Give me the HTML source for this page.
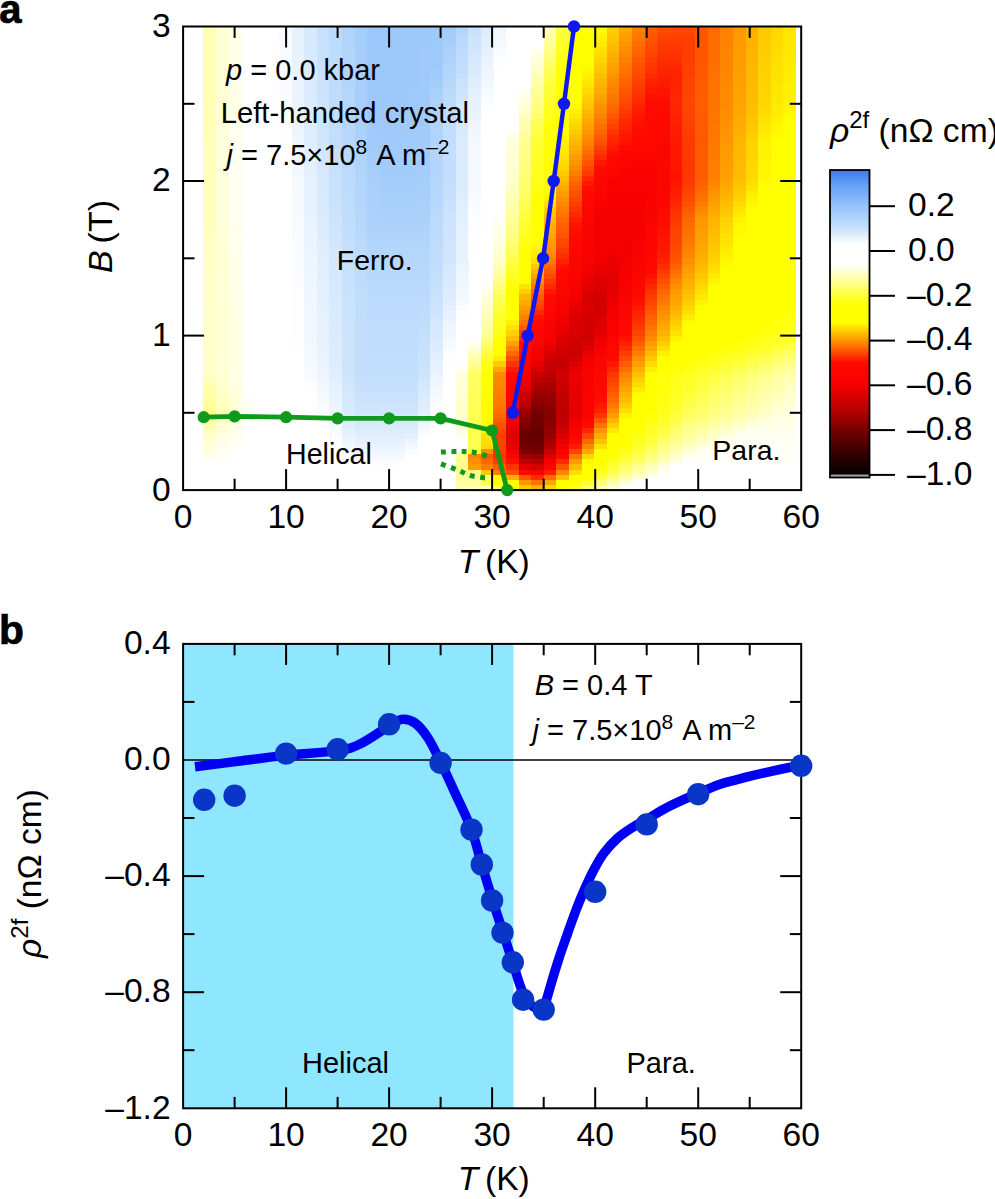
<!DOCTYPE html>
<html lang="en"><head><meta charset="utf-8"><title>Figure</title>
<style>html,body{margin:0;padding:0;background:#fff}svg{display:block}text{font-family:"Liberation Sans", sans-serif;fill:#000}</style>
</head><body>
<svg width="995" height="1199" viewBox="0 0 995 1199">
<rect width="995" height="1199" fill="#fff"/>
<g id="heat" shape-rendering="crispEdges">
<rect x="203.3" y="26.5" width="13.0" height="77.7" fill="#ffffb4"/>
<rect x="203.3" y="103.8" width="13.0" height="10.7" fill="#ffffb5"/>
<rect x="203.3" y="114.1" width="13.0" height="5.6" fill="#ffffb6"/>
<rect x="203.3" y="119.2" width="13.0" height="5.6" fill="#ffffb7"/>
<rect x="203.3" y="124.4" width="13.0" height="5.6" fill="#ffffb8"/>
<rect x="203.3" y="129.5" width="13.0" height="5.6" fill="#ffffb9"/>
<rect x="203.3" y="134.7" width="13.0" height="5.6" fill="#ffffba"/>
<rect x="203.3" y="139.8" width="13.0" height="82.8" fill="#ffffbb"/>
<rect x="203.3" y="222.2" width="13.0" height="5.6" fill="#ffffbc"/>
<rect x="203.3" y="227.4" width="13.0" height="5.6" fill="#ffffbd"/>
<rect x="203.3" y="232.5" width="13.0" height="5.6" fill="#ffffbe"/>
<rect x="203.3" y="237.7" width="13.0" height="5.6" fill="#ffffbf"/>
<rect x="203.3" y="242.8" width="13.0" height="5.6" fill="#ffffc0"/>
<rect x="203.3" y="248.0" width="13.0" height="5.6" fill="#ffffc1"/>
<rect x="203.3" y="253.1" width="13.0" height="5.6" fill="#ffffc2"/>
<rect x="203.3" y="258.3" width="13.0" height="5.6" fill="#ffffc3"/>
<rect x="203.3" y="263.5" width="13.0" height="10.7" fill="#ffffc4"/>
<rect x="203.3" y="273.8" width="13.0" height="5.6" fill="#ffffc5"/>
<rect x="203.3" y="278.9" width="13.0" height="10.7" fill="#ffffc6"/>
<rect x="203.3" y="289.2" width="13.0" height="10.7" fill="#ffffc7"/>
<rect x="203.3" y="299.5" width="13.0" height="5.6" fill="#ffffc8"/>
<rect x="203.3" y="304.7" width="13.0" height="10.7" fill="#ffffc9"/>
<rect x="203.3" y="315.0" width="13.0" height="5.6" fill="#ffffca"/>
<rect x="203.3" y="320.1" width="13.0" height="10.7" fill="#ffffcb"/>
<rect x="203.3" y="330.4" width="13.0" height="10.7" fill="#ffffcc"/>
<rect x="203.3" y="340.7" width="13.0" height="5.6" fill="#ffffca"/>
<rect x="203.3" y="345.9" width="13.0" height="5.6" fill="#ffffc9"/>
<rect x="203.3" y="351.0" width="13.0" height="5.6" fill="#ffffc8"/>
<rect x="203.3" y="356.2" width="13.0" height="5.6" fill="#ffffc6"/>
<rect x="203.3" y="361.3" width="13.0" height="5.6" fill="#ffffc5"/>
<rect x="203.3" y="366.5" width="13.0" height="5.6" fill="#ffffc4"/>
<rect x="203.3" y="371.6" width="13.0" height="5.6" fill="#ffffc3"/>
<rect x="203.3" y="376.8" width="13.0" height="5.6" fill="#ffffbb"/>
<rect x="203.3" y="381.9" width="13.0" height="5.6" fill="#ffffb3"/>
<rect x="203.3" y="387.1" width="13.0" height="5.6" fill="#ffffac"/>
<rect x="203.3" y="392.2" width="13.0" height="5.6" fill="#ffffa4"/>
<rect x="203.3" y="397.4" width="13.0" height="5.6" fill="#ffff9d"/>
<rect x="203.3" y="402.5" width="13.0" height="5.6" fill="#ffff95"/>
<rect x="203.3" y="407.7" width="13.0" height="5.6" fill="#ffff8d"/>
<rect x="203.3" y="412.8" width="13.0" height="5.6" fill="#ffff90"/>
<rect x="203.3" y="418.0" width="13.0" height="5.6" fill="#ffff9e"/>
<rect x="203.3" y="423.1" width="13.0" height="5.6" fill="#ffffac"/>
<rect x="203.3" y="428.3" width="13.0" height="5.6" fill="#ffffb9"/>
<rect x="203.3" y="433.4" width="13.0" height="5.6" fill="#ffffc7"/>
<rect x="203.3" y="438.6" width="13.0" height="5.6" fill="#ffffd0"/>
<rect x="203.3" y="443.7" width="13.0" height="5.6" fill="#ffffd8"/>
<rect x="203.3" y="448.9" width="13.0" height="5.6" fill="#ffffe2"/>
<rect x="203.3" y="454.0" width="13.0" height="5.6" fill="#ffffee"/>
<rect x="203.3" y="459.2" width="13.0" height="5.6" fill="#fffffc"/>
<rect x="215.9" y="26.5" width="13.0" height="77.7" fill="#ffffd4"/>
<rect x="215.9" y="103.8" width="13.0" height="10.7" fill="#ffffd5"/>
<rect x="215.9" y="114.1" width="13.0" height="5.6" fill="#ffffd6"/>
<rect x="215.9" y="119.2" width="13.0" height="5.6" fill="#ffffd7"/>
<rect x="215.9" y="124.4" width="13.0" height="5.6" fill="#ffffd8"/>
<rect x="215.9" y="129.5" width="13.0" height="5.6" fill="#ffffd9"/>
<rect x="215.9" y="134.7" width="13.0" height="5.6" fill="#ffffda"/>
<rect x="215.9" y="139.8" width="13.0" height="82.8" fill="#ffffdb"/>
<rect x="215.9" y="222.2" width="13.0" height="5.6" fill="#ffffda"/>
<rect x="215.9" y="227.4" width="13.0" height="10.7" fill="#ffffd9"/>
<rect x="215.9" y="237.7" width="13.0" height="5.6" fill="#ffffd8"/>
<rect x="215.9" y="242.8" width="13.0" height="5.6" fill="#ffffd7"/>
<rect x="215.9" y="248.0" width="13.0" height="5.6" fill="#ffffd6"/>
<rect x="215.9" y="253.1" width="13.0" height="124.0" fill="#ffffd5"/>
<rect x="215.9" y="376.8" width="13.0" height="5.6" fill="#ffffd1"/>
<rect x="215.9" y="381.9" width="13.0" height="5.6" fill="#ffffcd"/>
<rect x="215.9" y="387.1" width="13.0" height="5.6" fill="#ffffc9"/>
<rect x="215.9" y="392.2" width="13.0" height="5.6" fill="#ffffc5"/>
<rect x="215.9" y="397.4" width="13.0" height="5.6" fill="#ffffc1"/>
<rect x="215.9" y="402.5" width="13.0" height="5.6" fill="#ffffbe"/>
<rect x="215.9" y="407.7" width="13.0" height="5.6" fill="#ffffba"/>
<rect x="215.9" y="412.8" width="13.0" height="5.6" fill="#ffffbc"/>
<rect x="215.9" y="418.0" width="13.0" height="5.6" fill="#ffffc6"/>
<rect x="215.9" y="423.1" width="13.0" height="5.6" fill="#ffffcf"/>
<rect x="215.9" y="428.3" width="13.0" height="5.6" fill="#ffffd9"/>
<rect x="215.9" y="433.4" width="13.0" height="5.6" fill="#ffffe2"/>
<rect x="215.9" y="438.6" width="13.0" height="5.6" fill="#ffffe7"/>
<rect x="215.9" y="443.7" width="13.0" height="5.6" fill="#ffffed"/>
<rect x="215.9" y="448.9" width="13.0" height="5.6" fill="#fffff2"/>
<rect x="215.9" y="454.0" width="13.0" height="5.6" fill="#fffffa"/>
<rect x="228.5" y="26.5" width="13.0" height="77.7" fill="#ffffe9"/>
<rect x="228.5" y="103.8" width="13.0" height="10.7" fill="#ffffea"/>
<rect x="228.5" y="114.1" width="13.0" height="5.6" fill="#ffffeb"/>
<rect x="228.5" y="119.2" width="13.0" height="5.6" fill="#ffffec"/>
<rect x="228.5" y="124.4" width="13.0" height="5.6" fill="#ffffed"/>
<rect x="228.5" y="129.5" width="13.0" height="5.6" fill="#ffffee"/>
<rect x="228.5" y="134.7" width="13.0" height="5.6" fill="#ffffef"/>
<rect x="228.5" y="139.8" width="13.0" height="82.8" fill="#fffff0"/>
<rect x="228.5" y="222.2" width="13.0" height="5.6" fill="#ffffef"/>
<rect x="228.5" y="227.4" width="13.0" height="5.6" fill="#ffffee"/>
<rect x="228.5" y="232.5" width="13.0" height="5.6" fill="#ffffed"/>
<rect x="228.5" y="237.7" width="13.0" height="5.6" fill="#ffffec"/>
<rect x="228.5" y="242.8" width="13.0" height="5.6" fill="#ffffeb"/>
<rect x="228.5" y="248.0" width="13.0" height="10.7" fill="#ffffea"/>
<rect x="228.5" y="258.3" width="13.0" height="5.6" fill="#ffffe9"/>
<rect x="228.5" y="263.5" width="13.0" height="10.7" fill="#ffffe8"/>
<rect x="228.5" y="273.8" width="13.0" height="10.7" fill="#ffffe7"/>
<rect x="228.5" y="284.1" width="13.0" height="10.7" fill="#ffffe6"/>
<rect x="228.5" y="294.4" width="13.0" height="15.9" fill="#ffffe5"/>
<rect x="228.5" y="309.8" width="13.0" height="10.7" fill="#ffffe4"/>
<rect x="228.5" y="320.1" width="13.0" height="57.1" fill="#ffffe3"/>
<rect x="228.5" y="376.8" width="13.0" height="5.6" fill="#ffffe1"/>
<rect x="228.5" y="381.9" width="13.0" height="5.6" fill="#ffffdf"/>
<rect x="228.5" y="387.1" width="13.0" height="5.6" fill="#ffffdd"/>
<rect x="228.5" y="392.2" width="13.0" height="5.6" fill="#ffffdb"/>
<rect x="228.5" y="397.4" width="13.0" height="5.6" fill="#ffffd9"/>
<rect x="228.5" y="402.5" width="13.0" height="5.6" fill="#ffffd7"/>
<rect x="228.5" y="407.7" width="13.0" height="5.6" fill="#ffffd5"/>
<rect x="228.5" y="412.8" width="13.0" height="5.6" fill="#ffffd7"/>
<rect x="228.5" y="418.0" width="13.0" height="5.6" fill="#ffffdd"/>
<rect x="228.5" y="423.1" width="13.0" height="5.6" fill="#ffffe4"/>
<rect x="228.5" y="428.3" width="13.0" height="5.6" fill="#ffffea"/>
<rect x="228.5" y="433.4" width="13.0" height="5.6" fill="#fffff0"/>
<rect x="228.5" y="438.6" width="13.0" height="5.6" fill="#fffff5"/>
<rect x="228.5" y="443.7" width="13.0" height="5.6" fill="#fffffb"/>
<rect x="241.1" y="392.2" width="13.0" height="5.6" fill="#fffffd"/>
<rect x="241.1" y="397.4" width="13.0" height="5.6" fill="#fffff9"/>
<rect x="241.1" y="402.5" width="13.0" height="5.6" fill="#fffff6"/>
<rect x="241.1" y="407.7" width="13.0" height="5.6" fill="#fffff2"/>
<rect x="241.1" y="412.8" width="13.0" height="5.6" fill="#fffff4"/>
<rect x="241.1" y="418.0" width="13.0" height="5.6" fill="#fffffa"/>
<rect x="279.0" y="26.5" width="13.0" height="15.9" fill="#f7fbff"/>
<rect x="279.0" y="42.0" width="13.0" height="26.2" fill="#f8fbff"/>
<rect x="279.0" y="67.7" width="13.0" height="26.2" fill="#f9fcff"/>
<rect x="279.0" y="93.5" width="13.0" height="15.9" fill="#fafcff"/>
<rect x="279.0" y="108.9" width="13.0" height="10.7" fill="#fbfdff"/>
<rect x="279.0" y="119.2" width="13.0" height="10.7" fill="#fcfdff"/>
<rect x="279.0" y="129.5" width="13.0" height="10.7" fill="#fdfeff"/>
<rect x="279.0" y="139.8" width="13.0" height="5.6" fill="#fefeff"/>
<rect x="279.0" y="145.0" width="13.0" height="5.6" fill="#feffff"/>
<rect x="291.6" y="26.5" width="13.0" height="21.0" fill="#e7f2fe"/>
<rect x="291.6" y="47.1" width="13.0" height="5.6" fill="#e8f2fe"/>
<rect x="291.6" y="52.3" width="13.0" height="10.7" fill="#e8f3fe"/>
<rect x="291.6" y="62.6" width="13.0" height="15.9" fill="#e9f3fe"/>
<rect x="291.6" y="78.0" width="13.0" height="10.7" fill="#eaf3fe"/>
<rect x="291.6" y="88.3" width="13.0" height="5.6" fill="#eaf4fe"/>
<rect x="291.6" y="93.5" width="13.0" height="15.9" fill="#ebf4fe"/>
<rect x="291.6" y="108.9" width="13.0" height="5.6" fill="#ecf4fe"/>
<rect x="291.6" y="114.1" width="13.0" height="10.7" fill="#ecf5fe"/>
<rect x="291.6" y="124.4" width="13.0" height="10.7" fill="#edf5fe"/>
<rect x="291.6" y="134.7" width="13.0" height="10.7" fill="#eef6fe"/>
<rect x="291.6" y="145.0" width="13.0" height="5.6" fill="#eff6fe"/>
<rect x="291.6" y="150.1" width="13.0" height="5.6" fill="#f0f7fe"/>
<rect x="291.6" y="155.3" width="13.0" height="5.6" fill="#f1f7fe"/>
<rect x="291.6" y="160.4" width="13.0" height="5.6" fill="#f1f8fe"/>
<rect x="291.6" y="165.6" width="13.0" height="5.6" fill="#f2f8fe"/>
<rect x="291.6" y="170.7" width="13.0" height="5.6" fill="#f3f8fe"/>
<rect x="291.6" y="175.9" width="13.0" height="5.6" fill="#f3f9fe"/>
<rect x="291.6" y="181.0" width="13.0" height="10.7" fill="#f4f9fe"/>
<rect x="291.6" y="191.3" width="13.0" height="5.6" fill="#f5f9fe"/>
<rect x="291.6" y="196.5" width="13.0" height="10.7" fill="#f5fafe"/>
<rect x="291.6" y="206.8" width="13.0" height="5.6" fill="#f6fafe"/>
<rect x="291.6" y="211.9" width="13.0" height="10.7" fill="#f6faff"/>
<rect x="291.6" y="222.2" width="13.0" height="15.9" fill="#f7fbff"/>
<rect x="291.6" y="237.7" width="13.0" height="15.9" fill="#f8fbff"/>
<rect x="291.6" y="253.1" width="13.0" height="5.6" fill="#f9fbff"/>
<rect x="291.6" y="258.3" width="13.0" height="15.9" fill="#f9fcff"/>
<rect x="291.6" y="273.8" width="13.0" height="15.9" fill="#fafcff"/>
<rect x="291.6" y="289.2" width="13.0" height="31.3" fill="#fbfdff"/>
<rect x="291.6" y="320.1" width="13.0" height="15.9" fill="#fcfdff"/>
<rect x="291.6" y="335.6" width="13.0" height="5.6" fill="#fcfeff"/>
<rect x="291.6" y="340.7" width="13.0" height="5.6" fill="#fdfeff"/>
<rect x="291.6" y="345.9" width="13.0" height="5.6" fill="#fefeff"/>
<rect x="304.2" y="26.5" width="13.0" height="5.6" fill="#d6e9fd"/>
<rect x="304.2" y="31.7" width="13.0" height="15.9" fill="#d7e9fd"/>
<rect x="304.2" y="47.1" width="13.0" height="10.7" fill="#d8eafd"/>
<rect x="304.2" y="57.4" width="13.0" height="10.7" fill="#d9eafd"/>
<rect x="304.2" y="67.7" width="13.0" height="5.6" fill="#d9ebfd"/>
<rect x="304.2" y="72.9" width="13.0" height="10.7" fill="#daebfd"/>
<rect x="304.2" y="83.2" width="13.0" height="10.7" fill="#dbebfd"/>
<rect x="304.2" y="93.5" width="13.0" height="5.6" fill="#dbecfd"/>
<rect x="304.2" y="98.6" width="13.0" height="10.7" fill="#dcecfd"/>
<rect x="304.2" y="108.9" width="13.0" height="10.7" fill="#ddecfd"/>
<rect x="304.2" y="119.2" width="13.0" height="5.6" fill="#ddedfd"/>
<rect x="304.2" y="124.4" width="13.0" height="10.7" fill="#deedfd"/>
<rect x="304.2" y="134.7" width="13.0" height="5.6" fill="#dfedfd"/>
<rect x="304.2" y="139.8" width="13.0" height="5.6" fill="#dfeefd"/>
<rect x="304.2" y="145.0" width="13.0" height="5.6" fill="#e0eefd"/>
<rect x="304.2" y="150.1" width="13.0" height="5.6" fill="#e1eefd"/>
<rect x="304.2" y="155.3" width="13.0" height="10.7" fill="#e2effd"/>
<rect x="304.2" y="165.6" width="13.0" height="5.6" fill="#e3f0fd"/>
<rect x="304.2" y="170.7" width="13.0" height="5.6" fill="#e4f0fe"/>
<rect x="304.2" y="175.9" width="13.0" height="5.6" fill="#e5f1fe"/>
<rect x="304.2" y="181.0" width="13.0" height="10.7" fill="#e6f1fe"/>
<rect x="304.2" y="191.3" width="13.0" height="5.6" fill="#e6f2fe"/>
<rect x="304.2" y="196.5" width="13.0" height="10.7" fill="#e7f2fe"/>
<rect x="304.2" y="206.8" width="13.0" height="10.7" fill="#e8f2fe"/>
<rect x="304.2" y="217.1" width="13.0" height="5.6" fill="#e8f3fe"/>
<rect x="304.2" y="222.2" width="13.0" height="5.6" fill="#e9f3fe"/>
<rect x="304.2" y="227.4" width="13.0" height="5.6" fill="#eaf3fe"/>
<rect x="304.2" y="232.5" width="13.0" height="5.6" fill="#eaf4fe"/>
<rect x="304.2" y="237.7" width="13.0" height="10.7" fill="#ebf4fe"/>
<rect x="304.2" y="248.0" width="13.0" height="10.7" fill="#ecf5fe"/>
<rect x="304.2" y="258.3" width="13.0" height="15.9" fill="#edf5fe"/>
<rect x="304.2" y="273.8" width="13.0" height="15.9" fill="#eef6fe"/>
<rect x="304.2" y="289.2" width="13.0" height="15.9" fill="#eff6fe"/>
<rect x="304.2" y="304.7" width="13.0" height="15.9" fill="#f0f7fe"/>
<rect x="304.2" y="320.1" width="13.0" height="15.9" fill="#f1f7fe"/>
<rect x="304.2" y="335.6" width="13.0" height="10.7" fill="#f2f8fe"/>
<rect x="304.2" y="345.9" width="13.0" height="5.6" fill="#f3f9fe"/>
<rect x="304.2" y="351.0" width="13.0" height="5.6" fill="#f4f9fe"/>
<rect x="304.2" y="356.2" width="13.0" height="5.6" fill="#f5f9fe"/>
<rect x="304.2" y="361.3" width="13.0" height="5.6" fill="#f6fafe"/>
<rect x="304.2" y="366.5" width="13.0" height="5.6" fill="#f6faff"/>
<rect x="304.2" y="371.6" width="13.0" height="5.6" fill="#f7fbff"/>
<rect x="304.2" y="376.8" width="13.0" height="5.6" fill="#f9fcff"/>
<rect x="304.2" y="381.9" width="13.0" height="5.6" fill="#fbfdff"/>
<rect x="304.2" y="387.1" width="13.0" height="5.6" fill="#fefeff"/>
<rect x="316.8" y="26.5" width="13.0" height="10.7" fill="#c7e0fc"/>
<rect x="316.8" y="36.8" width="13.0" height="5.6" fill="#c7e1fc"/>
<rect x="316.8" y="42.0" width="13.0" height="15.9" fill="#c8e1fc"/>
<rect x="316.8" y="57.4" width="13.0" height="5.6" fill="#c9e1fc"/>
<rect x="316.8" y="62.6" width="13.0" height="5.6" fill="#c9e2fc"/>
<rect x="316.8" y="67.7" width="13.0" height="10.7" fill="#cae2fc"/>
<rect x="316.8" y="78.0" width="13.0" height="10.7" fill="#cbe3fc"/>
<rect x="316.8" y="88.3" width="13.0" height="10.7" fill="#cce3fc"/>
<rect x="316.8" y="98.6" width="13.0" height="10.7" fill="#cde4fc"/>
<rect x="316.8" y="108.9" width="13.0" height="15.9" fill="#cee4fc"/>
<rect x="316.8" y="124.4" width="13.0" height="15.9" fill="#cfe5fc"/>
<rect x="316.8" y="139.8" width="13.0" height="5.6" fill="#d0e5fc"/>
<rect x="316.8" y="145.0" width="13.0" height="5.6" fill="#d1e6fc"/>
<rect x="316.8" y="150.1" width="13.0" height="5.6" fill="#d2e6fd"/>
<rect x="316.8" y="155.3" width="13.0" height="10.7" fill="#d3e7fd"/>
<rect x="316.8" y="165.6" width="13.0" height="5.6" fill="#d4e8fd"/>
<rect x="316.8" y="170.7" width="13.0" height="5.6" fill="#d5e8fd"/>
<rect x="316.8" y="175.9" width="13.0" height="5.6" fill="#d6e9fd"/>
<rect x="316.8" y="181.0" width="13.0" height="10.7" fill="#d7e9fd"/>
<rect x="316.8" y="191.3" width="13.0" height="10.7" fill="#d8eafd"/>
<rect x="316.8" y="201.6" width="13.0" height="10.7" fill="#d9eafd"/>
<rect x="316.8" y="211.9" width="13.0" height="10.7" fill="#daebfd"/>
<rect x="316.8" y="222.2" width="13.0" height="5.6" fill="#dbebfd"/>
<rect x="316.8" y="227.4" width="13.0" height="5.6" fill="#dcecfd"/>
<rect x="316.8" y="232.5" width="13.0" height="5.6" fill="#ddecfd"/>
<rect x="316.8" y="237.7" width="13.0" height="5.6" fill="#deedfd"/>
<rect x="316.8" y="242.8" width="13.0" height="5.6" fill="#dfedfd"/>
<rect x="316.8" y="248.0" width="13.0" height="5.6" fill="#dfeefd"/>
<rect x="316.8" y="253.1" width="13.0" height="5.6" fill="#e0eefd"/>
<rect x="316.8" y="258.3" width="13.0" height="10.7" fill="#e1effd"/>
<rect x="316.8" y="268.6" width="13.0" height="15.9" fill="#e2effd"/>
<rect x="316.8" y="284.1" width="13.0" height="15.9" fill="#e3f0fd"/>
<rect x="316.8" y="299.5" width="13.0" height="10.7" fill="#e4f0fe"/>
<rect x="316.8" y="309.8" width="13.0" height="10.7" fill="#e5f1fe"/>
<rect x="316.8" y="320.1" width="13.0" height="10.7" fill="#e6f1fe"/>
<rect x="316.8" y="330.4" width="13.0" height="5.6" fill="#e6f2fe"/>
<rect x="316.8" y="335.6" width="13.0" height="5.6" fill="#e7f2fe"/>
<rect x="316.8" y="340.7" width="13.0" height="5.6" fill="#e8f2fe"/>
<rect x="316.8" y="345.9" width="13.0" height="5.6" fill="#e8f3fe"/>
<rect x="316.8" y="351.0" width="13.0" height="5.6" fill="#e9f3fe"/>
<rect x="316.8" y="356.2" width="13.0" height="5.6" fill="#eaf3fe"/>
<rect x="316.8" y="361.3" width="13.0" height="5.6" fill="#eaf4fe"/>
<rect x="316.8" y="366.5" width="13.0" height="5.6" fill="#ebf4fe"/>
<rect x="316.8" y="371.6" width="13.0" height="5.6" fill="#ecf5fe"/>
<rect x="316.8" y="376.8" width="13.0" height="5.6" fill="#eef6fe"/>
<rect x="316.8" y="381.9" width="13.0" height="5.6" fill="#f0f7fe"/>
<rect x="316.8" y="387.1" width="13.0" height="5.6" fill="#f2f8fe"/>
<rect x="316.8" y="392.2" width="13.0" height="5.6" fill="#f4f9fe"/>
<rect x="316.8" y="397.4" width="13.0" height="5.6" fill="#f6fafe"/>
<rect x="316.8" y="402.5" width="13.0" height="5.6" fill="#f8fbff"/>
<rect x="316.8" y="407.7" width="13.0" height="5.6" fill="#fafcff"/>
<rect x="316.8" y="412.8" width="13.0" height="5.6" fill="#fcfdff"/>
<rect x="329.4" y="26.5" width="13.0" height="15.9" fill="#bcdafc"/>
<rect x="329.4" y="42.0" width="13.0" height="15.9" fill="#bddbfc"/>
<rect x="329.4" y="57.4" width="13.0" height="15.9" fill="#bedbfc"/>
<rect x="329.4" y="72.9" width="13.0" height="5.6" fill="#bedcfc"/>
<rect x="329.4" y="78.0" width="13.0" height="15.9" fill="#bfdcfc"/>
<rect x="329.4" y="93.5" width="13.0" height="10.7" fill="#c0dcfc"/>
<rect x="329.4" y="103.8" width="13.0" height="5.6" fill="#c0ddfc"/>
<rect x="329.4" y="108.9" width="13.0" height="15.9" fill="#c1ddfc"/>
<rect x="329.4" y="124.4" width="13.0" height="5.6" fill="#c2ddfc"/>
<rect x="329.4" y="129.5" width="13.0" height="15.9" fill="#c2defc"/>
<rect x="329.4" y="145.0" width="13.0" height="5.6" fill="#c3defc"/>
<rect x="329.4" y="150.1" width="13.0" height="5.6" fill="#c4dffc"/>
<rect x="329.4" y="155.3" width="13.0" height="5.6" fill="#c5dffc"/>
<rect x="329.4" y="160.4" width="13.0" height="5.6" fill="#c5e0fc"/>
<rect x="329.4" y="165.6" width="13.0" height="5.6" fill="#c6e0fc"/>
<rect x="329.4" y="170.7" width="13.0" height="5.6" fill="#c7e0fc"/>
<rect x="329.4" y="175.9" width="13.0" height="10.7" fill="#c8e1fc"/>
<rect x="329.4" y="186.2" width="13.0" height="5.6" fill="#c9e1fc"/>
<rect x="329.4" y="191.3" width="13.0" height="5.6" fill="#c9e2fc"/>
<rect x="329.4" y="196.5" width="13.0" height="10.7" fill="#cae2fc"/>
<rect x="329.4" y="206.8" width="13.0" height="10.7" fill="#cbe3fc"/>
<rect x="329.4" y="217.1" width="13.0" height="5.6" fill="#cce3fc"/>
<rect x="329.4" y="222.2" width="13.0" height="5.6" fill="#cde4fc"/>
<rect x="329.4" y="227.4" width="13.0" height="5.6" fill="#cee4fc"/>
<rect x="329.4" y="232.5" width="13.0" height="5.6" fill="#cfe5fc"/>
<rect x="329.4" y="237.7" width="13.0" height="5.6" fill="#d0e6fc"/>
<rect x="329.4" y="242.8" width="13.0" height="5.6" fill="#d1e6fd"/>
<rect x="329.4" y="248.0" width="13.0" height="5.6" fill="#d3e7fd"/>
<rect x="329.4" y="253.1" width="13.0" height="5.6" fill="#d4e7fd"/>
<rect x="329.4" y="258.3" width="13.0" height="5.6" fill="#d4e8fd"/>
<rect x="329.4" y="263.5" width="13.0" height="10.7" fill="#d5e8fd"/>
<rect x="329.4" y="273.8" width="13.0" height="5.6" fill="#d6e8fd"/>
<rect x="329.4" y="278.9" width="13.0" height="10.7" fill="#d6e9fd"/>
<rect x="329.4" y="289.2" width="13.0" height="10.7" fill="#d7e9fd"/>
<rect x="329.4" y="299.5" width="13.0" height="10.7" fill="#d8eafd"/>
<rect x="329.4" y="309.8" width="13.0" height="10.7" fill="#d9eafd"/>
<rect x="329.4" y="320.1" width="13.0" height="10.7" fill="#daebfd"/>
<rect x="329.4" y="330.4" width="13.0" height="5.6" fill="#dbebfd"/>
<rect x="329.4" y="335.6" width="13.0" height="5.6" fill="#dbecfd"/>
<rect x="329.4" y="340.7" width="13.0" height="10.7" fill="#dcecfd"/>
<rect x="329.4" y="351.0" width="13.0" height="5.6" fill="#ddecfd"/>
<rect x="329.4" y="356.2" width="13.0" height="5.6" fill="#ddedfd"/>
<rect x="329.4" y="361.3" width="13.0" height="5.6" fill="#deedfd"/>
<rect x="329.4" y="366.5" width="13.0" height="5.6" fill="#dfedfd"/>
<rect x="329.4" y="371.6" width="13.0" height="5.6" fill="#dfeefd"/>
<rect x="329.4" y="376.8" width="13.0" height="5.6" fill="#e1effd"/>
<rect x="329.4" y="381.9" width="13.0" height="5.6" fill="#e3f0fd"/>
<rect x="329.4" y="387.1" width="13.0" height="5.6" fill="#e5f1fe"/>
<rect x="329.4" y="392.2" width="13.0" height="5.6" fill="#e7f2fe"/>
<rect x="329.4" y="397.4" width="13.0" height="5.6" fill="#e9f3fe"/>
<rect x="329.4" y="402.5" width="13.0" height="5.6" fill="#ebf4fe"/>
<rect x="329.4" y="407.7" width="13.0" height="5.6" fill="#edf5fe"/>
<rect x="329.4" y="412.8" width="13.0" height="5.6" fill="#eff6fe"/>
<rect x="329.4" y="418.0" width="13.0" height="5.6" fill="#f1f8fe"/>
<rect x="329.4" y="423.1" width="13.0" height="5.6" fill="#f4f9fe"/>
<rect x="329.4" y="428.3" width="13.0" height="5.6" fill="#f7faff"/>
<rect x="329.4" y="433.4" width="13.0" height="5.6" fill="#f9fcff"/>
<rect x="329.4" y="438.6" width="13.0" height="5.6" fill="#fdfeff"/>
<rect x="342.0" y="26.5" width="13.0" height="21.0" fill="#b1d4fb"/>
<rect x="342.0" y="47.1" width="13.0" height="21.0" fill="#b2d5fb"/>
<rect x="342.0" y="67.7" width="13.0" height="21.0" fill="#b3d5fb"/>
<rect x="342.0" y="88.3" width="13.0" height="5.6" fill="#b3d6fb"/>
<rect x="342.0" y="93.5" width="13.0" height="15.9" fill="#b4d6fb"/>
<rect x="342.0" y="108.9" width="13.0" height="5.6" fill="#b5d6fb"/>
<rect x="342.0" y="114.1" width="13.0" height="5.6" fill="#b5d7fb"/>
<rect x="342.0" y="119.2" width="13.0" height="10.7" fill="#b6d7fb"/>
<rect x="342.0" y="129.5" width="13.0" height="10.7" fill="#b7d7fb"/>
<rect x="342.0" y="139.8" width="13.0" height="5.6" fill="#b7d8fb"/>
<rect x="342.0" y="145.0" width="13.0" height="5.6" fill="#b8d8fb"/>
<rect x="342.0" y="150.1" width="13.0" height="5.6" fill="#b9d9fb"/>
<rect x="342.0" y="155.3" width="13.0" height="5.6" fill="#bad9fb"/>
<rect x="342.0" y="160.4" width="13.0" height="5.6" fill="#bbdafb"/>
<rect x="342.0" y="165.6" width="13.0" height="5.6" fill="#bbdafc"/>
<rect x="342.0" y="170.7" width="13.0" height="5.6" fill="#bcdafc"/>
<rect x="342.0" y="175.9" width="13.0" height="5.6" fill="#bddbfc"/>
<rect x="342.0" y="181.0" width="13.0" height="10.7" fill="#bedbfc"/>
<rect x="342.0" y="191.3" width="13.0" height="5.6" fill="#bedcfc"/>
<rect x="342.0" y="196.5" width="13.0" height="10.7" fill="#bfdcfc"/>
<rect x="342.0" y="206.8" width="13.0" height="5.6" fill="#c0dcfc"/>
<rect x="342.0" y="211.9" width="13.0" height="5.6" fill="#c0ddfc"/>
<rect x="342.0" y="217.1" width="13.0" height="10.7" fill="#c1ddfc"/>
<rect x="342.0" y="227.4" width="13.0" height="5.6" fill="#c2defc"/>
<rect x="342.0" y="232.5" width="13.0" height="5.6" fill="#c3defc"/>
<rect x="342.0" y="237.7" width="13.0" height="5.6" fill="#c4dffc"/>
<rect x="342.0" y="242.8" width="13.0" height="5.6" fill="#c5dffc"/>
<rect x="342.0" y="248.0" width="13.0" height="10.7" fill="#c6e0fc"/>
<rect x="342.0" y="258.3" width="13.0" height="5.6" fill="#c7e0fc"/>
<rect x="342.0" y="263.5" width="13.0" height="5.6" fill="#c7e1fc"/>
<rect x="342.0" y="268.6" width="13.0" height="15.9" fill="#c8e1fc"/>
<rect x="342.0" y="284.1" width="13.0" height="5.6" fill="#c9e1fc"/>
<rect x="342.0" y="289.2" width="13.0" height="5.6" fill="#c9e2fc"/>
<rect x="342.0" y="294.4" width="13.0" height="10.7" fill="#cae2fc"/>
<rect x="342.0" y="304.7" width="13.0" height="10.7" fill="#cbe3fc"/>
<rect x="342.0" y="315.0" width="13.0" height="10.7" fill="#cce3fc"/>
<rect x="342.0" y="325.3" width="13.0" height="10.7" fill="#cde4fc"/>
<rect x="342.0" y="335.6" width="13.0" height="41.6" fill="#cee4fc"/>
<rect x="342.0" y="376.8" width="13.0" height="5.6" fill="#cfe5fc"/>
<rect x="342.0" y="381.9" width="13.0" height="5.6" fill="#d1e6fc"/>
<rect x="342.0" y="387.1" width="13.0" height="5.6" fill="#d2e7fd"/>
<rect x="342.0" y="392.2" width="13.0" height="5.6" fill="#d4e7fd"/>
<rect x="342.0" y="397.4" width="13.0" height="5.6" fill="#d5e8fd"/>
<rect x="342.0" y="402.5" width="13.0" height="5.6" fill="#d6e9fd"/>
<rect x="342.0" y="407.7" width="13.0" height="5.6" fill="#d8eafd"/>
<rect x="342.0" y="412.8" width="13.0" height="5.6" fill="#daebfd"/>
<rect x="342.0" y="418.0" width="13.0" height="5.6" fill="#ddedfd"/>
<rect x="342.0" y="423.1" width="13.0" height="5.6" fill="#e0eefd"/>
<rect x="342.0" y="428.3" width="13.0" height="5.6" fill="#e4f0fe"/>
<rect x="342.0" y="433.4" width="13.0" height="5.6" fill="#e7f2fe"/>
<rect x="342.0" y="438.6" width="13.0" height="5.6" fill="#edf5fe"/>
<rect x="342.0" y="443.7" width="13.0" height="5.6" fill="#f3f9fe"/>
<rect x="342.0" y="448.9" width="13.0" height="5.6" fill="#fafcff"/>
<rect x="354.6" y="26.5" width="13.0" height="26.2" fill="#a6cefb"/>
<rect x="354.6" y="52.3" width="13.0" height="10.7" fill="#a7cefb"/>
<rect x="354.6" y="62.6" width="13.0" height="26.2" fill="#a7cffb"/>
<rect x="354.6" y="88.3" width="13.0" height="21.0" fill="#a8cffb"/>
<rect x="354.6" y="108.9" width="13.0" height="10.7" fill="#a9d0fb"/>
<rect x="354.6" y="119.2" width="13.0" height="5.6" fill="#aad0fb"/>
<rect x="354.6" y="124.4" width="13.0" height="10.7" fill="#abd1fb"/>
<rect x="354.6" y="134.7" width="13.0" height="5.6" fill="#acd1fb"/>
<rect x="354.6" y="139.8" width="13.0" height="5.6" fill="#acd2fb"/>
<rect x="354.6" y="145.0" width="13.0" height="5.6" fill="#add2fb"/>
<rect x="354.6" y="150.1" width="13.0" height="5.6" fill="#aed3fb"/>
<rect x="354.6" y="155.3" width="13.0" height="5.6" fill="#afd3fb"/>
<rect x="354.6" y="160.4" width="13.0" height="5.6" fill="#b0d3fb"/>
<rect x="354.6" y="165.6" width="13.0" height="10.7" fill="#b1d4fb"/>
<rect x="354.6" y="175.9" width="13.0" height="5.6" fill="#b2d5fb"/>
<rect x="354.6" y="181.0" width="13.0" height="5.6" fill="#b3d5fb"/>
<rect x="354.6" y="186.2" width="13.0" height="5.6" fill="#b3d6fb"/>
<rect x="354.6" y="191.3" width="13.0" height="10.7" fill="#b4d6fb"/>
<rect x="354.6" y="201.6" width="13.0" height="5.6" fill="#b5d6fb"/>
<rect x="354.6" y="206.8" width="13.0" height="5.6" fill="#b5d7fb"/>
<rect x="354.6" y="211.9" width="13.0" height="10.7" fill="#b6d7fb"/>
<rect x="354.6" y="222.2" width="13.0" height="5.6" fill="#b7d8fb"/>
<rect x="354.6" y="227.4" width="13.0" height="5.6" fill="#b8d8fb"/>
<rect x="354.6" y="232.5" width="13.0" height="5.6" fill="#b9d9fb"/>
<rect x="354.6" y="237.7" width="13.0" height="5.6" fill="#bad9fb"/>
<rect x="354.6" y="242.8" width="13.0" height="5.6" fill="#bbdafc"/>
<rect x="354.6" y="248.0" width="13.0" height="5.6" fill="#bcdafc"/>
<rect x="354.6" y="253.1" width="13.0" height="5.6" fill="#bddbfc"/>
<rect x="354.6" y="258.3" width="13.0" height="5.6" fill="#bedbfc"/>
<rect x="354.6" y="263.5" width="13.0" height="5.6" fill="#bedcfc"/>
<rect x="354.6" y="268.6" width="13.0" height="15.9" fill="#bfdcfc"/>
<rect x="354.6" y="284.1" width="13.0" height="5.6" fill="#c0dcfc"/>
<rect x="354.6" y="289.2" width="13.0" height="10.7" fill="#c0ddfc"/>
<rect x="354.6" y="299.5" width="13.0" height="15.9" fill="#c1ddfc"/>
<rect x="354.6" y="315.0" width="13.0" height="5.6" fill="#c2ddfc"/>
<rect x="354.6" y="320.1" width="13.0" height="10.7" fill="#c2defc"/>
<rect x="354.6" y="330.4" width="13.0" height="10.7" fill="#c3defc"/>
<rect x="354.6" y="340.7" width="13.0" height="31.3" fill="#c2defc"/>
<rect x="354.6" y="371.6" width="13.0" height="5.6" fill="#c3defc"/>
<rect x="354.6" y="376.8" width="13.0" height="5.6" fill="#c4dffc"/>
<rect x="354.6" y="381.9" width="13.0" height="5.6" fill="#c6e0fc"/>
<rect x="354.6" y="387.1" width="13.0" height="5.6" fill="#c7e0fc"/>
<rect x="354.6" y="392.2" width="13.0" height="5.6" fill="#c9e1fc"/>
<rect x="354.6" y="397.4" width="13.0" height="5.6" fill="#cbe2fc"/>
<rect x="354.6" y="402.5" width="13.0" height="5.6" fill="#cde4fc"/>
<rect x="354.6" y="407.7" width="13.0" height="5.6" fill="#cfe5fc"/>
<rect x="354.6" y="412.8" width="13.0" height="5.6" fill="#d2e6fd"/>
<rect x="354.6" y="418.0" width="13.0" height="5.6" fill="#d5e8fd"/>
<rect x="354.6" y="423.1" width="13.0" height="5.6" fill="#d9eafd"/>
<rect x="354.6" y="428.3" width="13.0" height="5.6" fill="#dcecfd"/>
<rect x="354.6" y="433.4" width="13.0" height="5.6" fill="#e0eefd"/>
<rect x="354.6" y="438.6" width="13.0" height="5.6" fill="#e5f1fe"/>
<rect x="354.6" y="443.7" width="13.0" height="5.6" fill="#ebf4fe"/>
<rect x="354.6" y="448.9" width="13.0" height="5.6" fill="#f0f7fe"/>
<rect x="354.6" y="454.0" width="13.0" height="5.6" fill="#f5f9fe"/>
<rect x="354.6" y="459.2" width="13.0" height="5.6" fill="#fbfdff"/>
<rect x="367.2" y="26.5" width="13.0" height="41.6" fill="#9bc8fa"/>
<rect x="367.2" y="67.7" width="13.0" height="36.5" fill="#9cc8fa"/>
<rect x="367.2" y="103.8" width="13.0" height="5.6" fill="#9cc9fa"/>
<rect x="367.2" y="108.9" width="13.0" height="5.6" fill="#9dc9fa"/>
<rect x="367.2" y="114.1" width="13.0" height="5.6" fill="#9ec9fa"/>
<rect x="367.2" y="119.2" width="13.0" height="5.6" fill="#9ecafa"/>
<rect x="367.2" y="124.4" width="13.0" height="5.6" fill="#9fcafa"/>
<rect x="367.2" y="129.5" width="13.0" height="5.6" fill="#a0cbfa"/>
<rect x="367.2" y="134.7" width="13.0" height="5.6" fill="#a1cbfa"/>
<rect x="367.2" y="139.8" width="13.0" height="5.6" fill="#a1cbfb"/>
<rect x="367.2" y="145.0" width="13.0" height="5.6" fill="#a2ccfb"/>
<rect x="367.2" y="150.1" width="13.0" height="5.6" fill="#a3ccfb"/>
<rect x="367.2" y="155.3" width="13.0" height="5.6" fill="#a4cdfb"/>
<rect x="367.2" y="160.4" width="13.0" height="5.6" fill="#a5cdfb"/>
<rect x="367.2" y="165.6" width="13.0" height="5.6" fill="#a6cefb"/>
<rect x="367.2" y="170.7" width="13.0" height="5.6" fill="#a7cefb"/>
<rect x="367.2" y="175.9" width="13.0" height="10.7" fill="#a8cffb"/>
<rect x="367.2" y="186.2" width="13.0" height="10.7" fill="#a9d0fb"/>
<rect x="367.2" y="196.5" width="13.0" height="5.6" fill="#aad0fb"/>
<rect x="367.2" y="201.6" width="13.0" height="10.7" fill="#abd1fb"/>
<rect x="367.2" y="211.9" width="13.0" height="5.6" fill="#acd1fb"/>
<rect x="367.2" y="217.1" width="13.0" height="5.6" fill="#acd2fb"/>
<rect x="367.2" y="222.2" width="13.0" height="5.6" fill="#add2fb"/>
<rect x="367.2" y="227.4" width="13.0" height="5.6" fill="#aed3fb"/>
<rect x="367.2" y="232.5" width="13.0" height="5.6" fill="#b0d3fb"/>
<rect x="367.2" y="237.7" width="13.0" height="5.6" fill="#b1d4fb"/>
<rect x="367.2" y="242.8" width="13.0" height="5.6" fill="#b2d5fb"/>
<rect x="367.2" y="248.0" width="13.0" height="5.6" fill="#b4d6fb"/>
<rect x="367.2" y="253.1" width="13.0" height="5.6" fill="#b5d6fb"/>
<rect x="367.2" y="258.3" width="13.0" height="5.6" fill="#b6d7fb"/>
<rect x="367.2" y="263.5" width="13.0" height="5.6" fill="#b7d7fb"/>
<rect x="367.2" y="268.6" width="13.0" height="10.7" fill="#b8d8fb"/>
<rect x="367.2" y="278.9" width="13.0" height="5.6" fill="#b9d9fb"/>
<rect x="367.2" y="284.1" width="13.0" height="10.7" fill="#bad9fb"/>
<rect x="367.2" y="294.4" width="13.0" height="5.6" fill="#bbdafc"/>
<rect x="367.2" y="299.5" width="13.0" height="5.6" fill="#bcdafc"/>
<rect x="367.2" y="304.7" width="13.0" height="5.6" fill="#bcdbfc"/>
<rect x="367.2" y="309.8" width="13.0" height="5.6" fill="#bddbfc"/>
<rect x="367.2" y="315.0" width="13.0" height="5.6" fill="#bedbfc"/>
<rect x="367.2" y="320.1" width="13.0" height="5.6" fill="#bedcfc"/>
<rect x="367.2" y="325.3" width="13.0" height="5.6" fill="#bfdcfc"/>
<rect x="367.2" y="330.4" width="13.0" height="5.6" fill="#c0dcfc"/>
<rect x="367.2" y="335.6" width="13.0" height="5.6" fill="#c0ddfc"/>
<rect x="367.2" y="340.7" width="13.0" height="15.9" fill="#c1ddfc"/>
<rect x="367.2" y="356.2" width="13.0" height="15.9" fill="#c2defc"/>
<rect x="367.2" y="371.6" width="13.0" height="5.6" fill="#c3defc"/>
<rect x="367.2" y="376.8" width="13.0" height="5.6" fill="#c4dffc"/>
<rect x="367.2" y="381.9" width="13.0" height="5.6" fill="#c6e0fc"/>
<rect x="367.2" y="387.1" width="13.0" height="5.6" fill="#c7e0fc"/>
<rect x="367.2" y="392.2" width="13.0" height="5.6" fill="#c9e1fc"/>
<rect x="367.2" y="397.4" width="13.0" height="5.6" fill="#cbe2fc"/>
<rect x="367.2" y="402.5" width="13.0" height="5.6" fill="#cde4fc"/>
<rect x="367.2" y="407.7" width="13.0" height="5.6" fill="#cfe5fc"/>
<rect x="367.2" y="412.8" width="13.0" height="5.6" fill="#d2e6fd"/>
<rect x="367.2" y="418.0" width="13.0" height="5.6" fill="#d5e8fd"/>
<rect x="367.2" y="423.1" width="13.0" height="5.6" fill="#d9eafd"/>
<rect x="367.2" y="428.3" width="13.0" height="5.6" fill="#dcecfd"/>
<rect x="367.2" y="433.4" width="13.0" height="5.6" fill="#e0eefd"/>
<rect x="367.2" y="438.6" width="13.0" height="5.6" fill="#e5f1fe"/>
<rect x="367.2" y="443.7" width="13.0" height="5.6" fill="#ebf4fe"/>
<rect x="367.2" y="448.9" width="13.0" height="5.6" fill="#f0f7fe"/>
<rect x="367.2" y="454.0" width="13.0" height="5.6" fill="#f5f9fe"/>
<rect x="367.2" y="459.2" width="13.0" height="5.6" fill="#fbfdff"/>
<rect x="379.8" y="26.5" width="13.0" height="10.7" fill="#9bc8fa"/>
<rect x="379.8" y="36.8" width="13.0" height="41.6" fill="#9cc8fa"/>
<rect x="379.8" y="78.0" width="13.0" height="26.2" fill="#9cc9fa"/>
<rect x="379.8" y="103.8" width="13.0" height="15.9" fill="#9dc9fa"/>
<rect x="379.8" y="119.2" width="13.0" height="5.6" fill="#9ec9fa"/>
<rect x="379.8" y="124.4" width="13.0" height="10.7" fill="#9ecafa"/>
<rect x="379.8" y="134.7" width="13.0" height="10.7" fill="#9fcafa"/>
<rect x="379.8" y="145.0" width="13.0" height="5.6" fill="#a0cafa"/>
<rect x="379.8" y="150.1" width="13.0" height="5.6" fill="#a0cbfa"/>
<rect x="379.8" y="155.3" width="13.0" height="5.6" fill="#a1cbfa"/>
<rect x="379.8" y="160.4" width="13.0" height="5.6" fill="#a1cbfb"/>
<rect x="379.8" y="165.6" width="13.0" height="5.6" fill="#a2ccfb"/>
<rect x="379.8" y="170.7" width="13.0" height="5.6" fill="#a3ccfb"/>
<rect x="379.8" y="175.9" width="13.0" height="5.6" fill="#a3cdfb"/>
<rect x="379.8" y="181.0" width="13.0" height="5.6" fill="#a4cdfb"/>
<rect x="379.8" y="186.2" width="13.0" height="5.6" fill="#a5cefb"/>
<rect x="379.8" y="191.3" width="13.0" height="5.6" fill="#a6cefb"/>
<rect x="379.8" y="196.5" width="13.0" height="5.6" fill="#a7cffb"/>
<rect x="379.8" y="201.6" width="13.0" height="5.6" fill="#a8cffb"/>
<rect x="379.8" y="206.8" width="13.0" height="5.6" fill="#a9d0fb"/>
<rect x="379.8" y="211.9" width="13.0" height="5.6" fill="#aad0fb"/>
<rect x="379.8" y="217.1" width="13.0" height="5.6" fill="#abd1fb"/>
<rect x="379.8" y="222.2" width="13.0" height="5.6" fill="#add2fb"/>
<rect x="379.8" y="227.4" width="13.0" height="5.6" fill="#aed3fb"/>
<rect x="379.8" y="232.5" width="13.0" height="5.6" fill="#b0d3fb"/>
<rect x="379.8" y="237.7" width="13.0" height="5.6" fill="#b1d4fb"/>
<rect x="379.8" y="242.8" width="13.0" height="5.6" fill="#b2d5fb"/>
<rect x="379.8" y="248.0" width="13.0" height="5.6" fill="#b4d6fb"/>
<rect x="379.8" y="253.1" width="13.0" height="5.6" fill="#b5d6fb"/>
<rect x="379.8" y="258.3" width="13.0" height="5.6" fill="#b6d7fb"/>
<rect x="379.8" y="263.5" width="13.0" height="5.6" fill="#b7d7fb"/>
<rect x="379.8" y="268.6" width="13.0" height="10.7" fill="#b8d8fb"/>
<rect x="379.8" y="278.9" width="13.0" height="5.6" fill="#b9d9fb"/>
<rect x="379.8" y="284.1" width="13.0" height="10.7" fill="#bad9fb"/>
<rect x="379.8" y="294.4" width="13.0" height="5.6" fill="#bbdafc"/>
<rect x="379.8" y="299.5" width="13.0" height="5.6" fill="#bcdafc"/>
<rect x="379.8" y="304.7" width="13.0" height="5.6" fill="#bcdbfc"/>
<rect x="379.8" y="309.8" width="13.0" height="5.6" fill="#bddbfc"/>
<rect x="379.8" y="315.0" width="13.0" height="5.6" fill="#bedbfc"/>
<rect x="379.8" y="320.1" width="13.0" height="5.6" fill="#bedcfc"/>
<rect x="379.8" y="325.3" width="13.0" height="5.6" fill="#bfdcfc"/>
<rect x="379.8" y="330.4" width="13.0" height="5.6" fill="#c0dcfc"/>
<rect x="379.8" y="335.6" width="13.0" height="5.6" fill="#c0ddfc"/>
<rect x="379.8" y="340.7" width="13.0" height="15.9" fill="#c1ddfc"/>
<rect x="379.8" y="356.2" width="13.0" height="15.9" fill="#c2defc"/>
<rect x="379.8" y="371.6" width="13.0" height="5.6" fill="#c3defc"/>
<rect x="379.8" y="376.8" width="13.0" height="5.6" fill="#c4dffc"/>
<rect x="379.8" y="381.9" width="13.0" height="5.6" fill="#c6e0fc"/>
<rect x="379.8" y="387.1" width="13.0" height="5.6" fill="#c7e0fc"/>
<rect x="379.8" y="392.2" width="13.0" height="5.6" fill="#c9e1fc"/>
<rect x="379.8" y="397.4" width="13.0" height="5.6" fill="#cbe2fc"/>
<rect x="379.8" y="402.5" width="13.0" height="5.6" fill="#cde4fc"/>
<rect x="379.8" y="407.7" width="13.0" height="5.6" fill="#cfe5fc"/>
<rect x="379.8" y="412.8" width="13.0" height="5.6" fill="#d2e6fd"/>
<rect x="379.8" y="418.0" width="13.0" height="5.6" fill="#d5e8fd"/>
<rect x="379.8" y="423.1" width="13.0" height="5.6" fill="#d9eafd"/>
<rect x="379.8" y="428.3" width="13.0" height="5.6" fill="#dcecfd"/>
<rect x="379.8" y="433.4" width="13.0" height="5.6" fill="#e0eefd"/>
<rect x="379.8" y="438.6" width="13.0" height="5.6" fill="#e5f1fe"/>
<rect x="379.8" y="443.7" width="13.0" height="5.6" fill="#ebf4fe"/>
<rect x="379.8" y="448.9" width="13.0" height="5.6" fill="#f0f7fe"/>
<rect x="379.8" y="454.0" width="13.0" height="5.6" fill="#f5f9fe"/>
<rect x="379.8" y="459.2" width="13.0" height="5.6" fill="#fbfdff"/>
<rect x="392.4" y="26.5" width="13.0" height="5.6" fill="#9cc8fa"/>
<rect x="392.4" y="31.7" width="13.0" height="31.3" fill="#9cc9fa"/>
<rect x="392.4" y="62.6" width="13.0" height="46.8" fill="#9dc9fa"/>
<rect x="392.4" y="108.9" width="13.0" height="5.6" fill="#9ec9fa"/>
<rect x="392.4" y="114.1" width="13.0" height="10.7" fill="#9ecafa"/>
<rect x="392.4" y="124.4" width="13.0" height="15.9" fill="#9fcafa"/>
<rect x="392.4" y="139.8" width="13.0" height="5.6" fill="#a0cafa"/>
<rect x="392.4" y="145.0" width="13.0" height="5.6" fill="#a0cbfa"/>
<rect x="392.4" y="150.1" width="13.0" height="5.6" fill="#a1cbfa"/>
<rect x="392.4" y="155.3" width="13.0" height="5.6" fill="#a1cbfb"/>
<rect x="392.4" y="160.4" width="13.0" height="10.7" fill="#a2ccfb"/>
<rect x="392.4" y="170.7" width="13.0" height="5.6" fill="#a3ccfb"/>
<rect x="392.4" y="175.9" width="13.0" height="5.6" fill="#a3cdfb"/>
<rect x="392.4" y="181.0" width="13.0" height="5.6" fill="#a4cdfb"/>
<rect x="392.4" y="186.2" width="13.0" height="5.6" fill="#a5cefb"/>
<rect x="392.4" y="191.3" width="13.0" height="5.6" fill="#a6cefb"/>
<rect x="392.4" y="196.5" width="13.0" height="5.6" fill="#a7cffb"/>
<rect x="392.4" y="201.6" width="13.0" height="5.6" fill="#a8cffb"/>
<rect x="392.4" y="206.8" width="13.0" height="5.6" fill="#a9d0fb"/>
<rect x="392.4" y="211.9" width="13.0" height="5.6" fill="#aad0fb"/>
<rect x="392.4" y="217.1" width="13.0" height="5.6" fill="#abd1fb"/>
<rect x="392.4" y="222.2" width="13.0" height="5.6" fill="#add2fb"/>
<rect x="392.4" y="227.4" width="13.0" height="5.6" fill="#aed3fb"/>
<rect x="392.4" y="232.5" width="13.0" height="5.6" fill="#b0d3fb"/>
<rect x="392.4" y="237.7" width="13.0" height="5.6" fill="#b1d4fb"/>
<rect x="392.4" y="242.8" width="13.0" height="5.6" fill="#b2d5fb"/>
<rect x="392.4" y="248.0" width="13.0" height="5.6" fill="#b4d6fb"/>
<rect x="392.4" y="253.1" width="13.0" height="5.6" fill="#b5d6fb"/>
<rect x="392.4" y="258.3" width="13.0" height="5.6" fill="#b6d7fb"/>
<rect x="392.4" y="263.5" width="13.0" height="5.6" fill="#b7d7fb"/>
<rect x="392.4" y="268.6" width="13.0" height="10.7" fill="#b8d8fb"/>
<rect x="392.4" y="278.9" width="13.0" height="5.6" fill="#b9d9fb"/>
<rect x="392.4" y="284.1" width="13.0" height="10.7" fill="#bad9fb"/>
<rect x="392.4" y="294.4" width="13.0" height="5.6" fill="#bbdafc"/>
<rect x="392.4" y="299.5" width="13.0" height="5.6" fill="#bcdafc"/>
<rect x="392.4" y="304.7" width="13.0" height="5.6" fill="#bcdbfc"/>
<rect x="392.4" y="309.8" width="13.0" height="5.6" fill="#bddbfc"/>
<rect x="392.4" y="315.0" width="13.0" height="5.6" fill="#bedbfc"/>
<rect x="392.4" y="320.1" width="13.0" height="5.6" fill="#bedcfc"/>
<rect x="392.4" y="325.3" width="13.0" height="5.6" fill="#bfdcfc"/>
<rect x="392.4" y="330.4" width="13.0" height="5.6" fill="#c0dcfc"/>
<rect x="392.4" y="335.6" width="13.0" height="5.6" fill="#c0ddfc"/>
<rect x="392.4" y="340.7" width="13.0" height="15.9" fill="#c1ddfc"/>
<rect x="392.4" y="356.2" width="13.0" height="15.9" fill="#c2defc"/>
<rect x="392.4" y="371.6" width="13.0" height="5.6" fill="#c3defc"/>
<rect x="392.4" y="376.8" width="13.0" height="5.6" fill="#c4dffc"/>
<rect x="392.4" y="381.9" width="13.0" height="5.6" fill="#c6e0fc"/>
<rect x="392.4" y="387.1" width="13.0" height="5.6" fill="#c7e0fc"/>
<rect x="392.4" y="392.2" width="13.0" height="5.6" fill="#c9e1fc"/>
<rect x="392.4" y="397.4" width="13.0" height="5.6" fill="#cbe2fc"/>
<rect x="392.4" y="402.5" width="13.0" height="5.6" fill="#cde4fc"/>
<rect x="392.4" y="407.7" width="13.0" height="5.6" fill="#cfe5fc"/>
<rect x="392.4" y="412.8" width="13.0" height="5.6" fill="#d2e6fd"/>
<rect x="392.4" y="418.0" width="13.0" height="5.6" fill="#d5e8fd"/>
<rect x="392.4" y="423.1" width="13.0" height="5.6" fill="#d9eafd"/>
<rect x="392.4" y="428.3" width="13.0" height="5.6" fill="#dcecfd"/>
<rect x="392.4" y="433.4" width="13.0" height="5.6" fill="#e0eefd"/>
<rect x="392.4" y="438.6" width="13.0" height="5.6" fill="#e5f1fe"/>
<rect x="392.4" y="443.7" width="13.0" height="5.6" fill="#ebf4fe"/>
<rect x="392.4" y="448.9" width="13.0" height="5.6" fill="#f0f7fe"/>
<rect x="392.4" y="454.0" width="13.0" height="5.6" fill="#f5f9fe"/>
<rect x="392.4" y="459.2" width="13.0" height="5.6" fill="#fbfdff"/>
<rect x="405.0" y="26.5" width="13.0" height="62.2" fill="#9dc9fa"/>
<rect x="405.0" y="88.3" width="13.0" height="15.9" fill="#9ec9fa"/>
<rect x="405.0" y="103.8" width="13.0" height="10.7" fill="#9ecafa"/>
<rect x="405.0" y="114.1" width="13.0" height="15.9" fill="#9fcafa"/>
<rect x="405.0" y="129.5" width="13.0" height="5.6" fill="#a0cafa"/>
<rect x="405.0" y="134.7" width="13.0" height="10.7" fill="#a0cbfa"/>
<rect x="405.0" y="145.0" width="13.0" height="5.6" fill="#a1cbfa"/>
<rect x="405.0" y="150.1" width="13.0" height="5.6" fill="#a1cbfb"/>
<rect x="405.0" y="155.3" width="13.0" height="15.9" fill="#a2ccfb"/>
<rect x="405.0" y="170.7" width="13.0" height="5.6" fill="#a3ccfb"/>
<rect x="405.0" y="175.9" width="13.0" height="5.6" fill="#a3cdfb"/>
<rect x="405.0" y="181.0" width="13.0" height="5.6" fill="#a4cdfb"/>
<rect x="405.0" y="186.2" width="13.0" height="5.6" fill="#a5cefb"/>
<rect x="405.0" y="191.3" width="13.0" height="5.6" fill="#a6cefb"/>
<rect x="405.0" y="196.5" width="13.0" height="5.6" fill="#a7cffb"/>
<rect x="405.0" y="201.6" width="13.0" height="5.6" fill="#a8cffb"/>
<rect x="405.0" y="206.8" width="13.0" height="5.6" fill="#a9d0fb"/>
<rect x="405.0" y="211.9" width="13.0" height="5.6" fill="#aad0fb"/>
<rect x="405.0" y="217.1" width="13.0" height="5.6" fill="#abd1fb"/>
<rect x="405.0" y="222.2" width="13.0" height="5.6" fill="#add2fb"/>
<rect x="405.0" y="227.4" width="13.0" height="5.6" fill="#aed3fb"/>
<rect x="405.0" y="232.5" width="13.0" height="5.6" fill="#b0d3fb"/>
<rect x="405.0" y="237.7" width="13.0" height="5.6" fill="#b1d4fb"/>
<rect x="405.0" y="242.8" width="13.0" height="5.6" fill="#b2d5fb"/>
<rect x="405.0" y="248.0" width="13.0" height="5.6" fill="#b4d6fb"/>
<rect x="405.0" y="253.1" width="13.0" height="5.6" fill="#b5d6fb"/>
<rect x="405.0" y="258.3" width="13.0" height="5.6" fill="#b6d7fb"/>
<rect x="405.0" y="263.5" width="13.0" height="5.6" fill="#b7d7fb"/>
<rect x="405.0" y="268.6" width="13.0" height="10.7" fill="#b8d8fb"/>
<rect x="405.0" y="278.9" width="13.0" height="5.6" fill="#b9d9fb"/>
<rect x="405.0" y="284.1" width="13.0" height="10.7" fill="#bad9fb"/>
<rect x="405.0" y="294.4" width="13.0" height="5.6" fill="#bbdafc"/>
<rect x="405.0" y="299.5" width="13.0" height="5.6" fill="#bcdafc"/>
<rect x="405.0" y="304.7" width="13.0" height="5.6" fill="#bcdbfc"/>
<rect x="405.0" y="309.8" width="13.0" height="5.6" fill="#bddbfc"/>
<rect x="405.0" y="315.0" width="13.0" height="5.6" fill="#bedbfc"/>
<rect x="405.0" y="320.1" width="13.0" height="5.6" fill="#bedcfc"/>
<rect x="405.0" y="325.3" width="13.0" height="5.6" fill="#bfdcfc"/>
<rect x="405.0" y="330.4" width="13.0" height="5.6" fill="#c0dcfc"/>
<rect x="405.0" y="335.6" width="13.0" height="5.6" fill="#c0ddfc"/>
<rect x="405.0" y="340.7" width="13.0" height="15.9" fill="#c1ddfc"/>
<rect x="405.0" y="356.2" width="13.0" height="15.9" fill="#c2defc"/>
<rect x="405.0" y="371.6" width="13.0" height="5.6" fill="#c3defc"/>
<rect x="405.0" y="376.8" width="13.0" height="5.6" fill="#c4dffc"/>
<rect x="405.0" y="381.9" width="13.0" height="5.6" fill="#c6e0fc"/>
<rect x="405.0" y="387.1" width="13.0" height="5.6" fill="#c7e0fc"/>
<rect x="405.0" y="392.2" width="13.0" height="5.6" fill="#c9e1fc"/>
<rect x="405.0" y="397.4" width="13.0" height="5.6" fill="#cbe2fc"/>
<rect x="405.0" y="402.5" width="13.0" height="5.6" fill="#cde4fc"/>
<rect x="405.0" y="407.7" width="13.0" height="5.6" fill="#cfe5fc"/>
<rect x="405.0" y="412.8" width="13.0" height="5.6" fill="#d2e6fd"/>
<rect x="405.0" y="418.0" width="13.0" height="5.6" fill="#d5e8fd"/>
<rect x="405.0" y="423.1" width="13.0" height="5.6" fill="#d9eafd"/>
<rect x="405.0" y="428.3" width="13.0" height="5.6" fill="#ddecfd"/>
<rect x="405.0" y="433.4" width="13.0" height="5.6" fill="#e3f0fd"/>
<rect x="405.0" y="438.6" width="13.0" height="5.6" fill="#ecf4fe"/>
<rect x="405.0" y="443.7" width="13.0" height="5.6" fill="#f3f9fe"/>
<rect x="405.0" y="448.9" width="13.0" height="5.6" fill="#fbfdff"/>
<rect x="417.6" y="26.5" width="13.0" height="21.0" fill="#9dc9fa"/>
<rect x="417.6" y="47.1" width="13.0" height="26.2" fill="#9ec9fa"/>
<rect x="417.6" y="72.9" width="13.0" height="31.3" fill="#9ecafa"/>
<rect x="417.6" y="103.8" width="13.0" height="15.9" fill="#9fcafa"/>
<rect x="417.6" y="119.2" width="13.0" height="5.6" fill="#a0cafa"/>
<rect x="417.6" y="124.4" width="13.0" height="10.7" fill="#a0cbfa"/>
<rect x="417.6" y="134.7" width="13.0" height="10.7" fill="#a1cbfa"/>
<rect x="417.6" y="145.0" width="13.0" height="5.6" fill="#a1cbfb"/>
<rect x="417.6" y="150.1" width="13.0" height="15.9" fill="#a2ccfb"/>
<rect x="417.6" y="165.6" width="13.0" height="5.6" fill="#a3ccfb"/>
<rect x="417.6" y="170.7" width="13.0" height="10.7" fill="#a4cdfb"/>
<rect x="417.6" y="181.0" width="13.0" height="5.6" fill="#a5cefb"/>
<rect x="417.6" y="186.2" width="13.0" height="5.6" fill="#a6cefb"/>
<rect x="417.6" y="191.3" width="13.0" height="5.6" fill="#a7cefb"/>
<rect x="417.6" y="196.5" width="13.0" height="5.6" fill="#a8cffb"/>
<rect x="417.6" y="201.6" width="13.0" height="5.6" fill="#a9cffb"/>
<rect x="417.6" y="206.8" width="13.0" height="5.6" fill="#a9d0fb"/>
<rect x="417.6" y="211.9" width="13.0" height="5.6" fill="#aad0fb"/>
<rect x="417.6" y="217.1" width="13.0" height="5.6" fill="#abd1fb"/>
<rect x="417.6" y="222.2" width="13.0" height="5.6" fill="#add2fb"/>
<rect x="417.6" y="227.4" width="13.0" height="5.6" fill="#aed3fb"/>
<rect x="417.6" y="232.5" width="13.0" height="5.6" fill="#b0d3fb"/>
<rect x="417.6" y="237.7" width="13.0" height="5.6" fill="#b1d4fb"/>
<rect x="417.6" y="242.8" width="13.0" height="5.6" fill="#b2d5fb"/>
<rect x="417.6" y="248.0" width="13.0" height="5.6" fill="#b4d6fb"/>
<rect x="417.6" y="253.1" width="13.0" height="5.6" fill="#b5d6fb"/>
<rect x="417.6" y="258.3" width="13.0" height="5.6" fill="#b6d7fb"/>
<rect x="417.6" y="263.5" width="13.0" height="5.6" fill="#b7d7fb"/>
<rect x="417.6" y="268.6" width="13.0" height="10.7" fill="#b8d8fb"/>
<rect x="417.6" y="278.9" width="13.0" height="5.6" fill="#b9d9fb"/>
<rect x="417.6" y="284.1" width="13.0" height="10.7" fill="#bad9fb"/>
<rect x="417.6" y="294.4" width="13.0" height="5.6" fill="#bbdafc"/>
<rect x="417.6" y="299.5" width="13.0" height="5.6" fill="#bcdafc"/>
<rect x="417.6" y="304.7" width="13.0" height="5.6" fill="#bddbfc"/>
<rect x="417.6" y="309.8" width="13.0" height="5.6" fill="#bfdcfc"/>
<rect x="417.6" y="315.0" width="13.0" height="5.6" fill="#c0dcfc"/>
<rect x="417.6" y="320.1" width="13.0" height="5.6" fill="#c1ddfc"/>
<rect x="417.6" y="325.3" width="13.0" height="5.6" fill="#c3defc"/>
<rect x="417.6" y="330.4" width="13.0" height="5.6" fill="#c4dffc"/>
<rect x="417.6" y="335.6" width="13.0" height="5.6" fill="#c5dffc"/>
<rect x="417.6" y="340.7" width="13.0" height="5.6" fill="#c6e0fc"/>
<rect x="417.6" y="345.9" width="13.0" height="5.6" fill="#c7e0fc"/>
<rect x="417.6" y="351.0" width="13.0" height="5.6" fill="#c8e1fc"/>
<rect x="417.6" y="356.2" width="13.0" height="5.6" fill="#c9e2fc"/>
<rect x="417.6" y="361.3" width="13.0" height="5.6" fill="#cae2fc"/>
<rect x="417.6" y="366.5" width="13.0" height="5.6" fill="#cce3fc"/>
<rect x="417.6" y="371.6" width="13.0" height="5.6" fill="#cee4fc"/>
<rect x="417.6" y="376.8" width="13.0" height="5.6" fill="#d0e6fc"/>
<rect x="417.6" y="381.9" width="13.0" height="5.6" fill="#d3e7fd"/>
<rect x="417.6" y="387.1" width="13.0" height="5.6" fill="#d6e9fd"/>
<rect x="417.6" y="392.2" width="13.0" height="5.6" fill="#d9eafd"/>
<rect x="417.6" y="397.4" width="13.0" height="5.6" fill="#dcecfd"/>
<rect x="417.6" y="402.5" width="13.0" height="5.6" fill="#deedfd"/>
<rect x="417.6" y="407.7" width="13.0" height="5.6" fill="#e1effd"/>
<rect x="417.6" y="412.8" width="13.0" height="5.6" fill="#e5f1fe"/>
<rect x="417.6" y="418.0" width="13.0" height="5.6" fill="#ebf4fe"/>
<rect x="417.6" y="423.1" width="13.0" height="5.6" fill="#f1f7fe"/>
<rect x="417.6" y="428.3" width="13.0" height="5.6" fill="#f7faff"/>
<rect x="417.6" y="433.4" width="13.0" height="5.6" fill="#fcfeff"/>
<rect x="430.3" y="26.5" width="13.0" height="5.6" fill="#9ec9fa"/>
<rect x="430.3" y="31.7" width="13.0" height="36.5" fill="#9ecafa"/>
<rect x="430.3" y="67.7" width="13.0" height="5.6" fill="#a0cbfa"/>
<rect x="430.3" y="72.9" width="13.0" height="5.6" fill="#a2ccfb"/>
<rect x="430.3" y="78.0" width="13.0" height="5.6" fill="#a4cdfb"/>
<rect x="430.3" y="83.2" width="13.0" height="5.6" fill="#a6cefb"/>
<rect x="430.3" y="88.3" width="13.0" height="5.6" fill="#a9cffb"/>
<rect x="430.3" y="93.5" width="13.0" height="5.6" fill="#abd1fb"/>
<rect x="430.3" y="98.6" width="13.0" height="5.6" fill="#add2fb"/>
<rect x="430.3" y="103.8" width="13.0" height="5.6" fill="#aed2fb"/>
<rect x="430.3" y="108.9" width="13.0" height="5.6" fill="#aed3fb"/>
<rect x="430.3" y="114.1" width="13.0" height="10.7" fill="#afd3fb"/>
<rect x="430.3" y="124.4" width="13.0" height="5.6" fill="#b0d3fb"/>
<rect x="430.3" y="129.5" width="13.0" height="5.6" fill="#b0d4fb"/>
<rect x="430.3" y="134.7" width="13.0" height="10.7" fill="#b1d4fb"/>
<rect x="430.3" y="145.0" width="13.0" height="15.9" fill="#b2d5fb"/>
<rect x="430.3" y="160.4" width="13.0" height="10.7" fill="#b3d5fb"/>
<rect x="430.3" y="170.7" width="13.0" height="15.9" fill="#b4d6fb"/>
<rect x="430.3" y="186.2" width="13.0" height="5.6" fill="#b5d7fb"/>
<rect x="430.3" y="191.3" width="13.0" height="5.6" fill="#b6d7fb"/>
<rect x="430.3" y="196.5" width="13.0" height="5.6" fill="#b7d8fb"/>
<rect x="430.3" y="201.6" width="13.0" height="5.6" fill="#b8d8fb"/>
<rect x="430.3" y="206.8" width="13.0" height="5.6" fill="#b9d9fb"/>
<rect x="430.3" y="211.9" width="13.0" height="5.6" fill="#bad9fb"/>
<rect x="430.3" y="217.1" width="13.0" height="5.6" fill="#bbdafc"/>
<rect x="430.3" y="222.2" width="13.0" height="5.6" fill="#bcdafc"/>
<rect x="430.3" y="227.4" width="13.0" height="5.6" fill="#bcdbfc"/>
<rect x="430.3" y="232.5" width="13.0" height="5.6" fill="#bddbfc"/>
<rect x="430.3" y="237.7" width="13.0" height="5.6" fill="#bedbfc"/>
<rect x="430.3" y="242.8" width="13.0" height="10.7" fill="#bfdcfc"/>
<rect x="430.3" y="253.1" width="13.0" height="5.6" fill="#c0ddfc"/>
<rect x="430.3" y="258.3" width="13.0" height="5.6" fill="#c1ddfc"/>
<rect x="430.3" y="263.5" width="13.0" height="5.6" fill="#c2defc"/>
<rect x="430.3" y="268.6" width="13.0" height="5.6" fill="#c3defc"/>
<rect x="430.3" y="273.8" width="13.0" height="5.6" fill="#c4dffc"/>
<rect x="430.3" y="278.9" width="13.0" height="5.6" fill="#c5dffc"/>
<rect x="430.3" y="284.1" width="13.0" height="5.6" fill="#c6e0fc"/>
<rect x="430.3" y="289.2" width="13.0" height="5.6" fill="#c7e1fc"/>
<rect x="430.3" y="294.4" width="13.0" height="5.6" fill="#c8e1fc"/>
<rect x="430.3" y="299.5" width="13.0" height="5.6" fill="#cae2fc"/>
<rect x="430.3" y="304.7" width="13.0" height="5.6" fill="#cce3fc"/>
<rect x="430.3" y="309.8" width="13.0" height="5.6" fill="#cee4fc"/>
<rect x="430.3" y="315.0" width="13.0" height="5.6" fill="#d0e6fc"/>
<rect x="430.3" y="320.1" width="13.0" height="5.6" fill="#d3e7fd"/>
<rect x="430.3" y="325.3" width="13.0" height="5.6" fill="#d5e8fd"/>
<rect x="430.3" y="330.4" width="13.0" height="5.6" fill="#d7e9fd"/>
<rect x="430.3" y="335.6" width="13.0" height="5.6" fill="#d9eafd"/>
<rect x="430.3" y="340.7" width="13.0" height="5.6" fill="#dbecfd"/>
<rect x="430.3" y="345.9" width="13.0" height="5.6" fill="#deedfd"/>
<rect x="430.3" y="351.0" width="13.0" height="5.6" fill="#e0eefd"/>
<rect x="430.3" y="356.2" width="13.0" height="5.6" fill="#e3effd"/>
<rect x="430.3" y="361.3" width="13.0" height="5.6" fill="#e5f1fe"/>
<rect x="430.3" y="366.5" width="13.0" height="5.6" fill="#e7f2fe"/>
<rect x="430.3" y="371.6" width="13.0" height="5.6" fill="#eaf4fe"/>
<rect x="430.3" y="376.8" width="13.0" height="5.6" fill="#edf5fe"/>
<rect x="430.3" y="381.9" width="13.0" height="5.6" fill="#eff6fe"/>
<rect x="430.3" y="387.1" width="13.0" height="5.6" fill="#f2f8fe"/>
<rect x="430.3" y="392.2" width="13.0" height="5.6" fill="#f4f9fe"/>
<rect x="430.3" y="397.4" width="13.0" height="5.6" fill="#f7fbff"/>
<rect x="430.3" y="402.5" width="13.0" height="5.6" fill="#fafcff"/>
<rect x="430.3" y="407.7" width="13.0" height="5.6" fill="#fcfdff"/>
<rect x="442.9" y="26.5" width="13.0" height="5.6" fill="#a0cbfa"/>
<rect x="442.9" y="31.7" width="13.0" height="5.6" fill="#a3ccfb"/>
<rect x="442.9" y="36.8" width="13.0" height="5.6" fill="#a5cdfb"/>
<rect x="442.9" y="42.0" width="13.0" height="5.6" fill="#a7cffb"/>
<rect x="442.9" y="47.1" width="13.0" height="5.6" fill="#aad0fb"/>
<rect x="442.9" y="52.3" width="13.0" height="5.6" fill="#acd1fb"/>
<rect x="442.9" y="57.4" width="13.0" height="5.6" fill="#aed2fb"/>
<rect x="442.9" y="62.6" width="13.0" height="5.6" fill="#b0d4fb"/>
<rect x="442.9" y="67.7" width="13.0" height="5.6" fill="#b2d5fb"/>
<rect x="442.9" y="72.9" width="13.0" height="5.6" fill="#b4d6fb"/>
<rect x="442.9" y="78.0" width="13.0" height="5.6" fill="#b6d7fb"/>
<rect x="442.9" y="83.2" width="13.0" height="5.6" fill="#b8d8fb"/>
<rect x="442.9" y="88.3" width="13.0" height="5.6" fill="#bad9fb"/>
<rect x="442.9" y="93.5" width="13.0" height="5.6" fill="#bcdafc"/>
<rect x="442.9" y="98.6" width="13.0" height="5.6" fill="#bddbfc"/>
<rect x="442.9" y="103.8" width="13.0" height="10.7" fill="#bfdcfc"/>
<rect x="442.9" y="114.1" width="13.0" height="5.6" fill="#c0dcfc"/>
<rect x="442.9" y="119.2" width="13.0" height="10.7" fill="#c1ddfc"/>
<rect x="442.9" y="129.5" width="13.0" height="5.6" fill="#c2defc"/>
<rect x="442.9" y="134.7" width="13.0" height="46.8" fill="#c3defc"/>
<rect x="442.9" y="181.0" width="13.0" height="5.6" fill="#c4dffc"/>
<rect x="442.9" y="186.2" width="13.0" height="5.6" fill="#c5dffc"/>
<rect x="442.9" y="191.3" width="13.0" height="5.6" fill="#c6e0fc"/>
<rect x="442.9" y="196.5" width="13.0" height="5.6" fill="#c7e0fc"/>
<rect x="442.9" y="201.6" width="13.0" height="5.6" fill="#c8e1fc"/>
<rect x="442.9" y="206.8" width="13.0" height="5.6" fill="#c9e2fc"/>
<rect x="442.9" y="211.9" width="13.0" height="5.6" fill="#cbe3fc"/>
<rect x="442.9" y="217.1" width="13.0" height="5.6" fill="#cce3fc"/>
<rect x="442.9" y="222.2" width="13.0" height="5.6" fill="#cde4fc"/>
<rect x="442.9" y="227.4" width="13.0" height="10.7" fill="#cee4fc"/>
<rect x="442.9" y="237.7" width="13.0" height="10.7" fill="#cfe5fc"/>
<rect x="442.9" y="248.0" width="13.0" height="10.7" fill="#d0e5fc"/>
<rect x="442.9" y="258.3" width="13.0" height="5.6" fill="#d1e6fd"/>
<rect x="442.9" y="263.5" width="13.0" height="5.6" fill="#d3e7fd"/>
<rect x="442.9" y="268.6" width="13.0" height="5.6" fill="#d5e8fd"/>
<rect x="442.9" y="273.8" width="13.0" height="5.6" fill="#d7e9fd"/>
<rect x="442.9" y="278.9" width="13.0" height="5.6" fill="#d8eafd"/>
<rect x="442.9" y="284.1" width="13.0" height="5.6" fill="#daebfd"/>
<rect x="442.9" y="289.2" width="13.0" height="5.6" fill="#dcecfd"/>
<rect x="442.9" y="294.4" width="13.0" height="5.6" fill="#deedfd"/>
<rect x="442.9" y="299.5" width="13.0" height="5.6" fill="#e0eefd"/>
<rect x="442.9" y="304.7" width="13.0" height="5.6" fill="#e3effd"/>
<rect x="442.9" y="309.8" width="13.0" height="5.6" fill="#e5f1fe"/>
<rect x="442.9" y="315.0" width="13.0" height="5.6" fill="#e8f2fe"/>
<rect x="442.9" y="320.1" width="13.0" height="5.6" fill="#eaf4fe"/>
<rect x="442.9" y="325.3" width="13.0" height="5.6" fill="#edf5fe"/>
<rect x="442.9" y="330.4" width="13.0" height="5.6" fill="#f0f7fe"/>
<rect x="442.9" y="335.6" width="13.0" height="5.6" fill="#f2f8fe"/>
<rect x="442.9" y="340.7" width="13.0" height="5.6" fill="#f5fafe"/>
<rect x="442.9" y="345.9" width="13.0" height="5.6" fill="#f8fbff"/>
<rect x="442.9" y="351.0" width="13.0" height="5.6" fill="#fbfdff"/>
<rect x="442.9" y="356.2" width="13.0" height="5.6" fill="#fefeff"/>
<rect x="455.5" y="26.5" width="13.0" height="5.6" fill="#b4d6fb"/>
<rect x="455.5" y="31.7" width="13.0" height="5.6" fill="#b6d7fb"/>
<rect x="455.5" y="36.8" width="13.0" height="5.6" fill="#b9d8fb"/>
<rect x="455.5" y="42.0" width="13.0" height="5.6" fill="#bbdafb"/>
<rect x="455.5" y="47.1" width="13.0" height="5.6" fill="#bddbfc"/>
<rect x="455.5" y="52.3" width="13.0" height="5.6" fill="#bedcfc"/>
<rect x="455.5" y="57.4" width="13.0" height="5.6" fill="#c0ddfc"/>
<rect x="455.5" y="62.6" width="13.0" height="5.6" fill="#c2defc"/>
<rect x="455.5" y="67.7" width="13.0" height="5.6" fill="#c4dffc"/>
<rect x="455.5" y="72.9" width="13.0" height="5.6" fill="#c6e0fc"/>
<rect x="455.5" y="78.0" width="13.0" height="5.6" fill="#c8e1fc"/>
<rect x="455.5" y="83.2" width="13.0" height="5.6" fill="#cae2fc"/>
<rect x="455.5" y="88.3" width="13.0" height="5.6" fill="#cde3fc"/>
<rect x="455.5" y="93.5" width="13.0" height="5.6" fill="#cfe5fc"/>
<rect x="455.5" y="98.6" width="13.0" height="5.6" fill="#d2e6fd"/>
<rect x="455.5" y="103.8" width="13.0" height="5.6" fill="#d3e7fd"/>
<rect x="455.5" y="108.9" width="13.0" height="5.6" fill="#d4e8fd"/>
<rect x="455.5" y="114.1" width="13.0" height="5.6" fill="#d5e8fd"/>
<rect x="455.5" y="119.2" width="13.0" height="5.6" fill="#d6e9fd"/>
<rect x="455.5" y="124.4" width="13.0" height="5.6" fill="#d7e9fd"/>
<rect x="455.5" y="129.5" width="13.0" height="5.6" fill="#d8eafd"/>
<rect x="455.5" y="134.7" width="13.0" height="5.6" fill="#daebfd"/>
<rect x="455.5" y="139.8" width="13.0" height="26.2" fill="#dbebfd"/>
<rect x="455.5" y="165.6" width="13.0" height="15.9" fill="#daebfd"/>
<rect x="455.5" y="181.0" width="13.0" height="5.6" fill="#dbebfd"/>
<rect x="455.5" y="186.2" width="13.0" height="5.6" fill="#dcecfd"/>
<rect x="455.5" y="191.3" width="13.0" height="5.6" fill="#ddedfd"/>
<rect x="455.5" y="196.5" width="13.0" height="5.6" fill="#dfedfd"/>
<rect x="455.5" y="201.6" width="13.0" height="5.6" fill="#e0eefd"/>
<rect x="455.5" y="206.8" width="13.0" height="5.6" fill="#e1effd"/>
<rect x="455.5" y="211.9" width="13.0" height="5.6" fill="#e2effd"/>
<rect x="455.5" y="217.1" width="13.0" height="10.7" fill="#e4f0fe"/>
<rect x="455.5" y="227.4" width="13.0" height="10.7" fill="#e5f1fe"/>
<rect x="455.5" y="237.7" width="13.0" height="10.7" fill="#e6f1fe"/>
<rect x="455.5" y="248.0" width="13.0" height="10.7" fill="#e7f2fe"/>
<rect x="455.5" y="258.3" width="13.0" height="5.6" fill="#e8f3fe"/>
<rect x="455.5" y="263.5" width="13.0" height="5.6" fill="#eaf4fe"/>
<rect x="455.5" y="268.6" width="13.0" height="5.6" fill="#ecf5fe"/>
<rect x="455.5" y="273.8" width="13.0" height="5.6" fill="#eef6fe"/>
<rect x="455.5" y="278.9" width="13.0" height="5.6" fill="#eff6fe"/>
<rect x="455.5" y="284.1" width="13.0" height="5.6" fill="#f1f7fe"/>
<rect x="455.5" y="289.2" width="13.0" height="5.6" fill="#f3f8fe"/>
<rect x="455.5" y="294.4" width="13.0" height="5.6" fill="#f5f9fe"/>
<rect x="455.5" y="299.5" width="13.0" height="5.6" fill="#f7fbff"/>
<rect x="455.5" y="304.7" width="13.0" height="5.6" fill="#fafcff"/>
<rect x="455.5" y="309.8" width="13.0" height="5.6" fill="#fdfeff"/>
<rect x="455.5" y="366.5" width="13.0" height="5.6" fill="#fffff1"/>
<rect x="455.5" y="371.6" width="13.0" height="5.6" fill="#ffffda"/>
<rect x="455.5" y="376.8" width="13.0" height="5.6" fill="#ffffd8"/>
<rect x="455.5" y="381.9" width="13.0" height="5.6" fill="#ffffd6"/>
<rect x="455.5" y="387.1" width="13.0" height="5.6" fill="#ffffd3"/>
<rect x="455.5" y="392.2" width="13.0" height="5.6" fill="#ffffd1"/>
<rect x="455.5" y="397.4" width="13.0" height="5.6" fill="#ffffcf"/>
<rect x="455.5" y="402.5" width="13.0" height="5.6" fill="#ffffcd"/>
<rect x="455.5" y="407.7" width="13.0" height="5.6" fill="#ffffca"/>
<rect x="455.5" y="412.8" width="13.0" height="5.6" fill="#ffffcc"/>
<rect x="455.5" y="418.0" width="13.0" height="5.6" fill="#ffffd3"/>
<rect x="455.5" y="423.1" width="13.0" height="5.6" fill="#ffffdb"/>
<rect x="455.5" y="428.3" width="13.0" height="5.6" fill="#ffffe4"/>
<rect x="455.5" y="433.4" width="13.0" height="5.6" fill="#ffffee"/>
<rect x="455.5" y="454.0" width="13.0" height="15.9" fill="#ffff8c"/>
<rect x="455.5" y="469.5" width="13.0" height="5.6" fill="#ffff95"/>
<rect x="455.5" y="474.6" width="13.0" height="5.6" fill="#ffffa0"/>
<rect x="455.5" y="479.8" width="13.0" height="5.6" fill="#ffffa5"/>
<rect x="455.5" y="484.9" width="13.0" height="5.6" fill="#ffffa9"/>
<rect x="468.1" y="26.5" width="13.0" height="5.6" fill="#c9e1fc"/>
<rect x="468.1" y="31.7" width="13.0" height="5.6" fill="#cbe2fc"/>
<rect x="468.1" y="36.8" width="13.0" height="5.6" fill="#cde4fc"/>
<rect x="468.1" y="42.0" width="13.0" height="5.6" fill="#cfe5fc"/>
<rect x="468.1" y="47.1" width="13.0" height="5.6" fill="#d1e6fc"/>
<rect x="468.1" y="52.3" width="13.0" height="5.6" fill="#d3e7fd"/>
<rect x="468.1" y="57.4" width="13.0" height="5.6" fill="#d5e8fd"/>
<rect x="468.1" y="62.6" width="13.0" height="5.6" fill="#d7e9fd"/>
<rect x="468.1" y="67.7" width="13.0" height="5.6" fill="#d9eafd"/>
<rect x="468.1" y="72.9" width="13.0" height="5.6" fill="#dbebfd"/>
<rect x="468.1" y="78.0" width="13.0" height="5.6" fill="#ddedfd"/>
<rect x="468.1" y="83.2" width="13.0" height="5.6" fill="#dfeefd"/>
<rect x="468.1" y="88.3" width="13.0" height="5.6" fill="#e2effd"/>
<rect x="468.1" y="93.5" width="13.0" height="5.6" fill="#e4f0fe"/>
<rect x="468.1" y="98.6" width="13.0" height="5.6" fill="#e6f1fe"/>
<rect x="468.1" y="103.8" width="13.0" height="5.6" fill="#e8f2fe"/>
<rect x="468.1" y="108.9" width="13.0" height="5.6" fill="#e9f3fe"/>
<rect x="468.1" y="114.1" width="13.0" height="5.6" fill="#ebf4fe"/>
<rect x="468.1" y="119.2" width="13.0" height="5.6" fill="#edf5fe"/>
<rect x="468.1" y="124.4" width="13.0" height="5.6" fill="#eef6fe"/>
<rect x="468.1" y="129.5" width="13.0" height="5.6" fill="#f0f7fe"/>
<rect x="468.1" y="134.7" width="13.0" height="5.6" fill="#f2f8fe"/>
<rect x="468.1" y="139.8" width="13.0" height="46.8" fill="#f4f9fe"/>
<rect x="468.1" y="186.2" width="13.0" height="5.6" fill="#f5fafe"/>
<rect x="468.1" y="191.3" width="13.0" height="5.6" fill="#f6faff"/>
<rect x="468.1" y="196.5" width="13.0" height="5.6" fill="#f7fbff"/>
<rect x="468.1" y="201.6" width="13.0" height="5.6" fill="#f8fbff"/>
<rect x="468.1" y="206.8" width="13.0" height="5.6" fill="#f9fcff"/>
<rect x="468.1" y="211.9" width="13.0" height="5.6" fill="#fafcff"/>
<rect x="468.1" y="217.1" width="13.0" height="10.7" fill="#fbfdff"/>
<rect x="468.1" y="227.4" width="13.0" height="5.6" fill="#fcfdff"/>
<rect x="468.1" y="232.5" width="13.0" height="5.6" fill="#fcfeff"/>
<rect x="468.1" y="237.7" width="13.0" height="10.7" fill="#fdfeff"/>
<rect x="468.1" y="248.0" width="13.0" height="5.6" fill="#fefeff"/>
<rect x="468.1" y="253.1" width="13.0" height="5.6" fill="#feffff"/>
<rect x="468.1" y="340.7" width="13.0" height="5.6" fill="#fffff2"/>
<rect x="468.1" y="345.9" width="13.0" height="5.6" fill="#ffffd9"/>
<rect x="468.1" y="351.0" width="13.0" height="5.6" fill="#ffffc1"/>
<rect x="468.1" y="356.2" width="13.0" height="5.6" fill="#ffffaa"/>
<rect x="468.1" y="361.3" width="13.0" height="5.6" fill="#ffff93"/>
<rect x="468.1" y="366.5" width="13.0" height="5.6" fill="#ffff7d"/>
<rect x="468.1" y="371.6" width="13.0" height="5.6" fill="#ffff65"/>
<rect x="468.1" y="376.8" width="13.0" height="5.6" fill="#ffff62"/>
<rect x="468.1" y="381.9" width="13.0" height="5.6" fill="#ffff60"/>
<rect x="468.1" y="387.1" width="13.0" height="5.6" fill="#ffff5d"/>
<rect x="468.1" y="392.2" width="13.0" height="5.6" fill="#ffff5b"/>
<rect x="468.1" y="397.4" width="13.0" height="5.6" fill="#ffff59"/>
<rect x="468.1" y="402.5" width="13.0" height="5.6" fill="#ffff57"/>
<rect x="468.1" y="407.7" width="13.0" height="5.6" fill="#ffff54"/>
<rect x="468.1" y="412.8" width="13.0" height="5.6" fill="#ffff53"/>
<rect x="468.1" y="418.0" width="13.0" height="5.6" fill="#ffff52"/>
<rect x="468.1" y="423.1" width="13.0" height="5.6" fill="#ffff51"/>
<rect x="468.1" y="428.3" width="13.0" height="5.6" fill="#ffff50"/>
<rect x="468.1" y="433.4" width="13.0" height="10.7" fill="#ffff4f"/>
<rect x="468.1" y="443.7" width="13.0" height="5.6" fill="#ffff50"/>
<rect x="468.1" y="448.9" width="13.0" height="5.6" fill="#ffff21"/>
<rect x="468.1" y="454.0" width="13.0" height="5.6" fill="#ff8500"/>
<rect x="468.1" y="459.2" width="13.0" height="5.6" fill="#ff8e00"/>
<rect x="468.1" y="464.3" width="13.0" height="5.6" fill="#ff9c00"/>
<rect x="468.1" y="469.5" width="13.0" height="5.6" fill="#ffff86"/>
<rect x="468.1" y="474.6" width="13.0" height="5.6" fill="#ffff95"/>
<rect x="468.1" y="479.8" width="13.0" height="5.6" fill="#ffff9b"/>
<rect x="468.1" y="484.9" width="13.0" height="5.6" fill="#ffffb9"/>
<rect x="480.7" y="26.5" width="13.0" height="5.6" fill="#dbecfd"/>
<rect x="480.7" y="31.7" width="13.0" height="5.6" fill="#ddedfd"/>
<rect x="480.7" y="36.8" width="13.0" height="5.6" fill="#e0eefd"/>
<rect x="480.7" y="42.0" width="13.0" height="5.6" fill="#e2effd"/>
<rect x="480.7" y="47.1" width="13.0" height="5.6" fill="#e4f0fe"/>
<rect x="480.7" y="52.3" width="13.0" height="5.6" fill="#e6f1fe"/>
<rect x="480.7" y="57.4" width="13.0" height="5.6" fill="#e8f2fe"/>
<rect x="480.7" y="62.6" width="13.0" height="5.6" fill="#eaf4fe"/>
<rect x="480.7" y="67.7" width="13.0" height="5.6" fill="#ecf5fe"/>
<rect x="480.7" y="72.9" width="13.0" height="5.6" fill="#eff6fe"/>
<rect x="480.7" y="78.0" width="13.0" height="5.6" fill="#f1f7fe"/>
<rect x="480.7" y="83.2" width="13.0" height="5.6" fill="#f3f8fe"/>
<rect x="480.7" y="88.3" width="13.0" height="5.6" fill="#f5fafe"/>
<rect x="480.7" y="93.5" width="13.0" height="5.6" fill="#f8fbff"/>
<rect x="480.7" y="98.6" width="13.0" height="5.6" fill="#fafcff"/>
<rect x="480.7" y="103.8" width="13.0" height="5.6" fill="#fcfeff"/>
<rect x="480.7" y="284.1" width="13.0" height="5.6" fill="#fffff6"/>
<rect x="480.7" y="289.2" width="13.0" height="5.6" fill="#ffffe8"/>
<rect x="480.7" y="294.4" width="13.0" height="5.6" fill="#ffffdb"/>
<rect x="480.7" y="299.5" width="13.0" height="5.6" fill="#ffffd2"/>
<rect x="480.7" y="304.7" width="13.0" height="5.6" fill="#ffffc9"/>
<rect x="480.7" y="309.8" width="13.0" height="5.6" fill="#ffffc0"/>
<rect x="480.7" y="315.0" width="13.0" height="5.6" fill="#ffffb7"/>
<rect x="480.7" y="320.1" width="13.0" height="5.6" fill="#ffffae"/>
<rect x="480.7" y="325.3" width="13.0" height="5.6" fill="#ffffa4"/>
<rect x="480.7" y="330.4" width="13.0" height="5.6" fill="#ffff9b"/>
<rect x="480.7" y="335.6" width="13.0" height="5.6" fill="#ffff89"/>
<rect x="480.7" y="340.7" width="13.0" height="5.6" fill="#ffff70"/>
<rect x="480.7" y="345.9" width="13.0" height="5.6" fill="#ffff56"/>
<rect x="480.7" y="351.0" width="13.0" height="5.6" fill="#ffff3d"/>
<rect x="480.7" y="356.2" width="13.0" height="5.6" fill="#ffff2a"/>
<rect x="480.7" y="361.3" width="13.0" height="5.6" fill="#ffff1c"/>
<rect x="480.7" y="366.5" width="13.0" height="5.6" fill="#ffff0e"/>
<rect x="480.7" y="371.6" width="13.0" height="51.9" fill="#ffff00"/>
<rect x="480.7" y="423.1" width="13.0" height="5.6" fill="#fffc00"/>
<rect x="480.7" y="428.3" width="13.0" height="5.6" fill="#fff000"/>
<rect x="480.7" y="433.4" width="13.0" height="5.6" fill="#ffe400"/>
<rect x="480.7" y="438.6" width="13.0" height="5.6" fill="#ffdf00"/>
<rect x="480.7" y="443.7" width="13.0" height="5.6" fill="#ffd900"/>
<rect x="480.7" y="448.9" width="13.0" height="5.6" fill="#ff8d00"/>
<rect x="480.7" y="454.0" width="13.0" height="5.6" fill="#ff5a00"/>
<rect x="480.7" y="459.2" width="13.0" height="5.6" fill="#ff6700"/>
<rect x="480.7" y="464.3" width="13.0" height="5.6" fill="#ff7c00"/>
<rect x="480.7" y="469.5" width="13.0" height="5.6" fill="#ffc800"/>
<rect x="480.7" y="474.6" width="13.0" height="5.6" fill="#ffff8a"/>
<rect x="480.7" y="479.8" width="13.0" height="5.6" fill="#ffff4c"/>
<rect x="480.7" y="484.9" width="13.0" height="5.6" fill="#ffffbb"/>
<rect x="493.3" y="26.5" width="13.0" height="5.6" fill="#eef6fe"/>
<rect x="493.3" y="31.7" width="13.0" height="5.6" fill="#f0f7fe"/>
<rect x="493.3" y="36.8" width="13.0" height="5.6" fill="#f2f8fe"/>
<rect x="493.3" y="42.0" width="13.0" height="5.6" fill="#f5f9fe"/>
<rect x="493.3" y="47.1" width="13.0" height="5.6" fill="#f7faff"/>
<rect x="493.3" y="52.3" width="13.0" height="5.6" fill="#f9fcff"/>
<rect x="493.3" y="57.4" width="13.0" height="5.6" fill="#fbfdff"/>
<rect x="493.3" y="62.6" width="13.0" height="5.6" fill="#fefeff"/>
<rect x="493.3" y="211.9" width="13.0" height="5.6" fill="#fffffb"/>
<rect x="493.3" y="217.1" width="13.0" height="5.6" fill="#fffff5"/>
<rect x="493.3" y="222.2" width="13.0" height="5.6" fill="#fffff0"/>
<rect x="493.3" y="227.4" width="13.0" height="5.6" fill="#ffffeb"/>
<rect x="493.3" y="232.5" width="13.0" height="5.6" fill="#ffffe6"/>
<rect x="493.3" y="237.7" width="13.0" height="5.6" fill="#ffffe0"/>
<rect x="493.3" y="242.8" width="13.0" height="5.6" fill="#ffffdb"/>
<rect x="493.3" y="248.0" width="13.0" height="5.6" fill="#ffffd4"/>
<rect x="493.3" y="253.1" width="13.0" height="5.6" fill="#ffffce"/>
<rect x="493.3" y="258.3" width="13.0" height="5.6" fill="#ffffc4"/>
<rect x="493.3" y="263.5" width="13.0" height="5.6" fill="#ffffb6"/>
<rect x="493.3" y="268.6" width="13.0" height="5.6" fill="#ffffa9"/>
<rect x="493.3" y="273.8" width="13.0" height="5.6" fill="#ffff9a"/>
<rect x="493.3" y="278.9" width="13.0" height="5.6" fill="#ffff8c"/>
<rect x="493.3" y="284.1" width="13.0" height="5.6" fill="#ffff7c"/>
<rect x="493.3" y="289.2" width="13.0" height="5.6" fill="#ffff6b"/>
<rect x="493.3" y="294.4" width="13.0" height="5.6" fill="#ffff59"/>
<rect x="493.3" y="299.5" width="13.0" height="5.6" fill="#ffff4d"/>
<rect x="493.3" y="304.7" width="13.0" height="5.6" fill="#ffff42"/>
<rect x="493.3" y="309.8" width="13.0" height="5.6" fill="#ffff36"/>
<rect x="493.3" y="315.0" width="13.0" height="5.6" fill="#ffff2d"/>
<rect x="493.3" y="320.1" width="13.0" height="5.6" fill="#ffff26"/>
<rect x="493.3" y="325.3" width="13.0" height="5.6" fill="#ffff1e"/>
<rect x="493.3" y="330.4" width="13.0" height="5.6" fill="#ffff16"/>
<rect x="493.3" y="335.6" width="13.0" height="5.6" fill="#ffff07"/>
<rect x="493.3" y="340.7" width="13.0" height="15.9" fill="#ffff00"/>
<rect x="493.3" y="356.2" width="13.0" height="5.6" fill="#ffed00"/>
<rect x="493.3" y="361.3" width="13.0" height="5.6" fill="#ffcc00"/>
<rect x="493.3" y="366.5" width="13.0" height="5.6" fill="#ffa900"/>
<rect x="493.3" y="371.6" width="13.0" height="5.6" fill="#ff8900"/>
<rect x="493.3" y="376.8" width="13.0" height="5.6" fill="#ff8700"/>
<rect x="493.3" y="381.9" width="13.0" height="5.6" fill="#ff8400"/>
<rect x="493.3" y="387.1" width="13.0" height="5.6" fill="#ff8100"/>
<rect x="493.3" y="392.2" width="13.0" height="5.6" fill="#ff7e00"/>
<rect x="493.3" y="397.4" width="13.0" height="5.6" fill="#ff7b00"/>
<rect x="493.3" y="402.5" width="13.0" height="5.6" fill="#ff7600"/>
<rect x="493.3" y="407.7" width="13.0" height="5.6" fill="#ff7200"/>
<rect x="493.3" y="412.8" width="13.0" height="5.6" fill="#ff6800"/>
<rect x="493.3" y="418.0" width="13.0" height="5.6" fill="#ff5c00"/>
<rect x="493.3" y="423.1" width="13.0" height="5.6" fill="#ff5200"/>
<rect x="493.3" y="428.3" width="13.0" height="5.6" fill="#ff4800"/>
<rect x="493.3" y="433.4" width="13.0" height="5.6" fill="#ff3f00"/>
<rect x="493.3" y="438.6" width="13.0" height="5.6" fill="#ff4300"/>
<rect x="493.3" y="443.7" width="13.0" height="5.6" fill="#ff4600"/>
<rect x="493.3" y="448.9" width="13.0" height="5.6" fill="#ff3900"/>
<rect x="493.3" y="454.0" width="13.0" height="5.6" fill="#ff2f00"/>
<rect x="493.3" y="459.2" width="13.0" height="5.6" fill="#ff4000"/>
<rect x="493.3" y="464.3" width="13.0" height="5.6" fill="#ff5c00"/>
<rect x="493.3" y="469.5" width="13.0" height="5.6" fill="#ff7c00"/>
<rect x="493.3" y="474.6" width="13.0" height="5.6" fill="#ffff00"/>
<rect x="493.3" y="479.8" width="13.0" height="5.6" fill="#ffff05"/>
<rect x="493.3" y="484.9" width="13.0" height="5.6" fill="#ffff60"/>
<rect x="505.9" y="124.4" width="13.0" height="5.6" fill="#fffffb"/>
<rect x="505.9" y="129.5" width="13.0" height="5.6" fill="#fffff1"/>
<rect x="505.9" y="134.7" width="13.0" height="5.6" fill="#ffffe6"/>
<rect x="505.9" y="139.8" width="13.0" height="5.6" fill="#ffffdc"/>
<rect x="505.9" y="145.0" width="13.0" height="5.6" fill="#ffffda"/>
<rect x="505.9" y="150.1" width="13.0" height="5.6" fill="#ffffd8"/>
<rect x="505.9" y="155.3" width="13.0" height="5.6" fill="#ffffd5"/>
<rect x="505.9" y="160.4" width="13.0" height="5.6" fill="#ffffd3"/>
<rect x="505.9" y="165.6" width="13.0" height="5.6" fill="#ffffd0"/>
<rect x="505.9" y="170.7" width="13.0" height="5.6" fill="#ffffce"/>
<rect x="505.9" y="175.9" width="13.0" height="5.6" fill="#ffffcb"/>
<rect x="505.9" y="181.0" width="13.0" height="5.6" fill="#ffffc7"/>
<rect x="505.9" y="186.2" width="13.0" height="5.6" fill="#ffffc1"/>
<rect x="505.9" y="191.3" width="13.0" height="5.6" fill="#ffffba"/>
<rect x="505.9" y="196.5" width="13.0" height="5.6" fill="#ffffb4"/>
<rect x="505.9" y="201.6" width="13.0" height="5.6" fill="#ffffae"/>
<rect x="505.9" y="206.8" width="13.0" height="5.6" fill="#ffffa8"/>
<rect x="505.9" y="211.9" width="13.0" height="5.6" fill="#ffffa1"/>
<rect x="505.9" y="217.1" width="13.0" height="5.6" fill="#ffff9b"/>
<rect x="505.9" y="222.2" width="13.0" height="5.6" fill="#ffff93"/>
<rect x="505.9" y="227.4" width="13.0" height="5.6" fill="#ffff8b"/>
<rect x="505.9" y="232.5" width="13.0" height="5.6" fill="#ffff83"/>
<rect x="505.9" y="237.7" width="13.0" height="5.6" fill="#ffff79"/>
<rect x="505.9" y="242.8" width="13.0" height="5.6" fill="#ffff6e"/>
<rect x="505.9" y="248.0" width="13.0" height="5.6" fill="#ffff63"/>
<rect x="505.9" y="253.1" width="13.0" height="5.6" fill="#ffff58"/>
<rect x="505.9" y="258.3" width="13.0" height="5.6" fill="#ffff4a"/>
<rect x="505.9" y="263.5" width="13.0" height="5.6" fill="#ffff39"/>
<rect x="505.9" y="268.6" width="13.0" height="5.6" fill="#ffff2c"/>
<rect x="505.9" y="273.8" width="13.0" height="5.6" fill="#ffff20"/>
<rect x="505.9" y="278.9" width="13.0" height="5.6" fill="#ffff15"/>
<rect x="505.9" y="284.1" width="13.0" height="5.6" fill="#ffff09"/>
<rect x="505.9" y="289.2" width="13.0" height="31.3" fill="#ffff00"/>
<rect x="505.9" y="320.1" width="13.0" height="5.6" fill="#fff100"/>
<rect x="505.9" y="325.3" width="13.0" height="5.6" fill="#ffe100"/>
<rect x="505.9" y="330.4" width="13.0" height="5.6" fill="#ffd100"/>
<rect x="505.9" y="335.6" width="13.0" height="5.6" fill="#ffbc00"/>
<rect x="505.9" y="340.7" width="13.0" height="5.6" fill="#ffa100"/>
<rect x="505.9" y="345.9" width="13.0" height="5.6" fill="#ff8400"/>
<rect x="505.9" y="351.0" width="13.0" height="5.6" fill="#ff6900"/>
<rect x="505.9" y="356.2" width="13.0" height="5.6" fill="#ff4e00"/>
<rect x="505.9" y="361.3" width="13.0" height="5.6" fill="#ff3500"/>
<rect x="505.9" y="366.5" width="13.0" height="5.6" fill="#ff1c00"/>
<rect x="505.9" y="371.6" width="13.0" height="5.6" fill="#ff0a00"/>
<rect x="505.9" y="376.8" width="13.0" height="5.6" fill="#fe0900"/>
<rect x="505.9" y="381.9" width="13.0" height="5.6" fill="#fd0800"/>
<rect x="505.9" y="387.1" width="13.0" height="5.6" fill="#fc0700"/>
<rect x="505.9" y="392.2" width="13.0" height="5.6" fill="#fb0600"/>
<rect x="505.9" y="397.4" width="13.0" height="5.6" fill="#fa0500"/>
<rect x="505.9" y="402.5" width="13.0" height="5.6" fill="#f90400"/>
<rect x="505.9" y="407.7" width="13.0" height="5.6" fill="#f70200"/>
<rect x="505.9" y="412.8" width="13.0" height="5.6" fill="#f60100"/>
<rect x="505.9" y="418.0" width="13.0" height="5.6" fill="#f40000"/>
<rect x="505.9" y="423.1" width="13.0" height="5.6" fill="#ee0000"/>
<rect x="505.9" y="428.3" width="13.0" height="5.6" fill="#e90000"/>
<rect x="505.9" y="433.4" width="13.0" height="5.6" fill="#e30000"/>
<rect x="505.9" y="438.6" width="13.0" height="5.6" fill="#e80000"/>
<rect x="505.9" y="443.7" width="13.0" height="5.6" fill="#ee0000"/>
<rect x="505.9" y="448.9" width="13.0" height="5.6" fill="#f60100"/>
<rect x="505.9" y="454.0" width="13.0" height="5.6" fill="#fc0700"/>
<rect x="505.9" y="459.2" width="13.0" height="5.6" fill="#ff1000"/>
<rect x="505.9" y="464.3" width="13.0" height="5.6" fill="#ff3300"/>
<rect x="505.9" y="469.5" width="13.0" height="5.6" fill="#ff4e00"/>
<rect x="505.9" y="474.6" width="13.0" height="5.6" fill="#ffaf00"/>
<rect x="505.9" y="479.8" width="13.0" height="10.7" fill="#ffff00"/>
<rect x="518.5" y="83.2" width="13.0" height="5.6" fill="#fffffd"/>
<rect x="518.5" y="88.3" width="13.0" height="5.6" fill="#fffff2"/>
<rect x="518.5" y="93.5" width="13.0" height="5.6" fill="#ffffe7"/>
<rect x="518.5" y="98.6" width="13.0" height="5.6" fill="#ffffdd"/>
<rect x="518.5" y="103.8" width="13.0" height="5.6" fill="#ffffd2"/>
<rect x="518.5" y="108.9" width="13.0" height="5.6" fill="#ffffc8"/>
<rect x="518.5" y="114.1" width="13.0" height="5.6" fill="#ffffbe"/>
<rect x="518.5" y="119.2" width="13.0" height="5.6" fill="#ffffb3"/>
<rect x="518.5" y="124.4" width="13.0" height="5.6" fill="#ffffa9"/>
<rect x="518.5" y="129.5" width="13.0" height="5.6" fill="#ffff9f"/>
<rect x="518.5" y="134.7" width="13.0" height="5.6" fill="#ffff95"/>
<rect x="518.5" y="139.8" width="13.0" height="5.6" fill="#ffff8b"/>
<rect x="518.5" y="145.0" width="13.0" height="5.6" fill="#ffff88"/>
<rect x="518.5" y="150.1" width="13.0" height="5.6" fill="#ffff85"/>
<rect x="518.5" y="155.3" width="13.0" height="5.6" fill="#ffff82"/>
<rect x="518.5" y="160.4" width="13.0" height="5.6" fill="#ffff7e"/>
<rect x="518.5" y="165.6" width="13.0" height="5.6" fill="#ffff7a"/>
<rect x="518.5" y="170.7" width="13.0" height="5.6" fill="#ffff76"/>
<rect x="518.5" y="175.9" width="13.0" height="5.6" fill="#ffff71"/>
<rect x="518.5" y="181.0" width="13.0" height="5.6" fill="#ffff6c"/>
<rect x="518.5" y="186.2" width="13.0" height="5.6" fill="#ffff64"/>
<rect x="518.5" y="191.3" width="13.0" height="5.6" fill="#ffff5d"/>
<rect x="518.5" y="196.5" width="13.0" height="5.6" fill="#ffff55"/>
<rect x="518.5" y="201.6" width="13.0" height="5.6" fill="#ffff4e"/>
<rect x="518.5" y="206.8" width="13.0" height="5.6" fill="#ffff46"/>
<rect x="518.5" y="211.9" width="13.0" height="5.6" fill="#ffff3e"/>
<rect x="518.5" y="217.1" width="13.0" height="5.6" fill="#ffff36"/>
<rect x="518.5" y="222.2" width="13.0" height="5.6" fill="#ffff2d"/>
<rect x="518.5" y="227.4" width="13.0" height="5.6" fill="#ffff25"/>
<rect x="518.5" y="232.5" width="13.0" height="5.6" fill="#ffff1d"/>
<rect x="518.5" y="237.7" width="13.0" height="5.6" fill="#ffff15"/>
<rect x="518.5" y="242.8" width="13.0" height="5.6" fill="#ffff0c"/>
<rect x="518.5" y="248.0" width="13.0" height="5.6" fill="#ffff03"/>
<rect x="518.5" y="253.1" width="13.0" height="26.2" fill="#ffff00"/>
<rect x="518.5" y="278.9" width="13.0" height="5.6" fill="#fffd00"/>
<rect x="518.5" y="284.1" width="13.0" height="5.6" fill="#ffe500"/>
<rect x="518.5" y="289.2" width="13.0" height="5.6" fill="#ffcd00"/>
<rect x="518.5" y="294.4" width="13.0" height="5.6" fill="#ffb600"/>
<rect x="518.5" y="299.5" width="13.0" height="5.6" fill="#ffa800"/>
<rect x="518.5" y="304.7" width="13.0" height="5.6" fill="#ff9a00"/>
<rect x="518.5" y="309.8" width="13.0" height="5.6" fill="#ff8d00"/>
<rect x="518.5" y="315.0" width="13.0" height="5.6" fill="#ff7f00"/>
<rect x="518.5" y="320.1" width="13.0" height="5.6" fill="#ff6f00"/>
<rect x="518.5" y="325.3" width="13.0" height="5.6" fill="#ff5b00"/>
<rect x="518.5" y="330.4" width="13.0" height="5.6" fill="#ff4200"/>
<rect x="518.5" y="335.6" width="13.0" height="5.6" fill="#ff2600"/>
<rect x="518.5" y="340.7" width="13.0" height="5.6" fill="#ff0b00"/>
<rect x="518.5" y="345.9" width="13.0" height="5.6" fill="#fe0900"/>
<rect x="518.5" y="351.0" width="13.0" height="5.6" fill="#fd0800"/>
<rect x="518.5" y="356.2" width="13.0" height="5.6" fill="#fb0600"/>
<rect x="518.5" y="361.3" width="13.0" height="5.6" fill="#fa0500"/>
<rect x="518.5" y="366.5" width="13.0" height="5.6" fill="#f80300"/>
<rect x="518.5" y="371.6" width="13.0" height="5.6" fill="#f60100"/>
<rect x="518.5" y="376.8" width="13.0" height="5.6" fill="#f20000"/>
<rect x="518.5" y="381.9" width="13.0" height="5.6" fill="#e90000"/>
<rect x="518.5" y="387.1" width="13.0" height="5.6" fill="#de0000"/>
<rect x="518.5" y="392.2" width="13.0" height="5.6" fill="#d30000"/>
<rect x="518.5" y="397.4" width="13.0" height="5.6" fill="#c60000"/>
<rect x="518.5" y="402.5" width="13.0" height="5.6" fill="#b60000"/>
<rect x="518.5" y="407.7" width="13.0" height="5.6" fill="#a20000"/>
<rect x="518.5" y="412.8" width="13.0" height="5.6" fill="#920000"/>
<rect x="518.5" y="418.0" width="13.0" height="5.6" fill="#880000"/>
<rect x="518.5" y="423.1" width="13.0" height="5.6" fill="#7d0000"/>
<rect x="518.5" y="428.3" width="13.0" height="5.6" fill="#720000"/>
<rect x="518.5" y="433.4" width="13.0" height="5.6" fill="#670000"/>
<rect x="518.5" y="438.6" width="13.0" height="5.6" fill="#6c0000"/>
<rect x="518.5" y="443.7" width="13.0" height="5.6" fill="#710000"/>
<rect x="518.5" y="448.9" width="13.0" height="5.6" fill="#7e0000"/>
<rect x="518.5" y="454.0" width="13.0" height="5.6" fill="#9f0000"/>
<rect x="518.5" y="459.2" width="13.0" height="5.6" fill="#c10000"/>
<rect x="518.5" y="464.3" width="13.0" height="5.6" fill="#e30000"/>
<rect x="518.5" y="469.5" width="13.0" height="5.6" fill="#fc0700"/>
<rect x="518.5" y="474.6" width="13.0" height="5.6" fill="#ff5500"/>
<rect x="518.5" y="479.8" width="13.0" height="5.6" fill="#ff9700"/>
<rect x="518.5" y="484.9" width="13.0" height="5.6" fill="#ffc900"/>
<rect x="531.1" y="47.1" width="13.0" height="5.6" fill="#fffff2"/>
<rect x="531.1" y="52.3" width="13.0" height="5.6" fill="#ffffe6"/>
<rect x="531.1" y="57.4" width="13.0" height="5.6" fill="#ffffd9"/>
<rect x="531.1" y="62.6" width="13.0" height="5.6" fill="#ffffce"/>
<rect x="531.1" y="67.7" width="13.0" height="5.6" fill="#ffffc2"/>
<rect x="531.1" y="72.9" width="13.0" height="5.6" fill="#ffffb7"/>
<rect x="531.1" y="78.0" width="13.0" height="5.6" fill="#ffffac"/>
<rect x="531.1" y="83.2" width="13.0" height="5.6" fill="#ffffa2"/>
<rect x="531.1" y="88.3" width="13.0" height="5.6" fill="#ffff99"/>
<rect x="531.1" y="93.5" width="13.0" height="5.6" fill="#ffff8f"/>
<rect x="531.1" y="98.6" width="13.0" height="5.6" fill="#ffff87"/>
<rect x="531.1" y="103.8" width="13.0" height="5.6" fill="#ffff7d"/>
<rect x="531.1" y="108.9" width="13.0" height="5.6" fill="#ffff71"/>
<rect x="531.1" y="114.1" width="13.0" height="5.6" fill="#ffff66"/>
<rect x="531.1" y="119.2" width="13.0" height="5.6" fill="#ffff5b"/>
<rect x="531.1" y="124.4" width="13.0" height="5.6" fill="#ffff50"/>
<rect x="531.1" y="129.5" width="13.0" height="5.6" fill="#ffff45"/>
<rect x="531.1" y="134.7" width="13.0" height="5.6" fill="#ffff3b"/>
<rect x="531.1" y="139.8" width="13.0" height="5.6" fill="#ffff31"/>
<rect x="531.1" y="145.0" width="13.0" height="5.6" fill="#ffff2e"/>
<rect x="531.1" y="150.1" width="13.0" height="5.6" fill="#ffff2b"/>
<rect x="531.1" y="155.3" width="13.0" height="5.6" fill="#ffff28"/>
<rect x="531.1" y="160.4" width="13.0" height="5.6" fill="#ffff25"/>
<rect x="531.1" y="165.6" width="13.0" height="5.6" fill="#ffff22"/>
<rect x="531.1" y="170.7" width="13.0" height="5.6" fill="#ffff1e"/>
<rect x="531.1" y="175.9" width="13.0" height="5.6" fill="#ffff1b"/>
<rect x="531.1" y="181.0" width="13.0" height="5.6" fill="#ffff16"/>
<rect x="531.1" y="186.2" width="13.0" height="5.6" fill="#ffff10"/>
<rect x="531.1" y="191.3" width="13.0" height="5.6" fill="#ffff09"/>
<rect x="531.1" y="196.5" width="13.0" height="46.8" fill="#ffff00"/>
<rect x="531.1" y="242.8" width="13.0" height="5.6" fill="#fffa00"/>
<rect x="531.1" y="248.0" width="13.0" height="5.6" fill="#fff300"/>
<rect x="531.1" y="253.1" width="13.0" height="5.6" fill="#ffec00"/>
<rect x="531.1" y="258.3" width="13.0" height="5.6" fill="#ffdf00"/>
<rect x="531.1" y="263.5" width="13.0" height="5.6" fill="#ffca00"/>
<rect x="531.1" y="268.6" width="13.0" height="5.6" fill="#ffb500"/>
<rect x="531.1" y="273.8" width="13.0" height="5.6" fill="#ffa000"/>
<rect x="531.1" y="278.9" width="13.0" height="5.6" fill="#ff8d00"/>
<rect x="531.1" y="284.1" width="13.0" height="5.6" fill="#ff7b00"/>
<rect x="531.1" y="289.2" width="13.0" height="5.6" fill="#ff6b00"/>
<rect x="531.1" y="294.4" width="13.0" height="5.6" fill="#ff5a00"/>
<rect x="531.1" y="299.5" width="13.0" height="5.6" fill="#ff4c00"/>
<rect x="531.1" y="304.7" width="13.0" height="5.6" fill="#ff3b00"/>
<rect x="531.1" y="309.8" width="13.0" height="5.6" fill="#ff2800"/>
<rect x="531.1" y="315.0" width="13.0" height="5.6" fill="#ff1200"/>
<rect x="531.1" y="320.1" width="13.0" height="5.6" fill="#fe0900"/>
<rect x="531.1" y="325.3" width="13.0" height="5.6" fill="#fd0800"/>
<rect x="531.1" y="330.4" width="13.0" height="5.6" fill="#fc0700"/>
<rect x="531.1" y="335.6" width="13.0" height="5.6" fill="#fb0600"/>
<rect x="531.1" y="340.7" width="13.0" height="5.6" fill="#fa0500"/>
<rect x="531.1" y="345.9" width="13.0" height="5.6" fill="#f80300"/>
<rect x="531.1" y="351.0" width="13.0" height="5.6" fill="#f60100"/>
<rect x="531.1" y="356.2" width="13.0" height="5.6" fill="#f30000"/>
<rect x="531.1" y="361.3" width="13.0" height="5.6" fill="#e70000"/>
<rect x="531.1" y="366.5" width="13.0" height="5.6" fill="#da0000"/>
<rect x="531.1" y="371.6" width="13.0" height="5.6" fill="#cb0000"/>
<rect x="531.1" y="376.8" width="13.0" height="5.6" fill="#be0000"/>
<rect x="531.1" y="381.9" width="13.0" height="5.6" fill="#b00000"/>
<rect x="531.1" y="387.1" width="13.0" height="5.6" fill="#a60000"/>
<rect x="531.1" y="392.2" width="13.0" height="5.6" fill="#9b0000"/>
<rect x="531.1" y="397.4" width="13.0" height="5.6" fill="#910000"/>
<rect x="531.1" y="402.5" width="13.0" height="5.6" fill="#870000"/>
<rect x="531.1" y="407.7" width="13.0" height="5.6" fill="#7d0000"/>
<rect x="531.1" y="412.8" width="13.0" height="5.6" fill="#760000"/>
<rect x="531.1" y="418.0" width="13.0" height="5.6" fill="#710000"/>
<rect x="531.1" y="423.1" width="13.0" height="5.6" fill="#6d0000"/>
<rect x="531.1" y="428.3" width="13.0" height="5.6" fill="#690000"/>
<rect x="531.1" y="433.4" width="13.0" height="5.6" fill="#650000"/>
<rect x="531.1" y="438.6" width="13.0" height="5.6" fill="#690000"/>
<rect x="531.1" y="443.7" width="13.0" height="5.6" fill="#6e0000"/>
<rect x="531.1" y="448.9" width="13.0" height="5.6" fill="#790000"/>
<rect x="531.1" y="454.0" width="13.0" height="5.6" fill="#950000"/>
<rect x="531.1" y="459.2" width="13.0" height="5.6" fill="#b70000"/>
<rect x="531.1" y="464.3" width="13.0" height="5.6" fill="#d80000"/>
<rect x="531.1" y="469.5" width="13.0" height="5.6" fill="#f90400"/>
<rect x="531.1" y="474.6" width="13.0" height="5.6" fill="#ff2d00"/>
<rect x="531.1" y="479.8" width="13.0" height="5.6" fill="#ff7100"/>
<rect x="531.1" y="484.9" width="13.0" height="5.6" fill="#ffb000"/>
<rect x="543.7" y="26.5" width="13.0" height="5.6" fill="#ffffbc"/>
<rect x="543.7" y="31.7" width="13.0" height="5.6" fill="#ffffaf"/>
<rect x="543.7" y="36.8" width="13.0" height="5.6" fill="#ffffa2"/>
<rect x="543.7" y="42.0" width="13.0" height="5.6" fill="#ffff96"/>
<rect x="543.7" y="47.1" width="13.0" height="5.6" fill="#ffff8b"/>
<rect x="543.7" y="52.3" width="13.0" height="5.6" fill="#ffff7f"/>
<rect x="543.7" y="57.4" width="13.0" height="5.6" fill="#ffff73"/>
<rect x="543.7" y="62.6" width="13.0" height="5.6" fill="#ffff67"/>
<rect x="543.7" y="67.7" width="13.0" height="5.6" fill="#ffff5c"/>
<rect x="543.7" y="72.9" width="13.0" height="5.6" fill="#ffff51"/>
<rect x="543.7" y="78.0" width="13.0" height="5.6" fill="#ffff47"/>
<rect x="543.7" y="83.2" width="13.0" height="5.6" fill="#ffff3e"/>
<rect x="543.7" y="88.3" width="13.0" height="5.6" fill="#ffff35"/>
<rect x="543.7" y="93.5" width="13.0" height="5.6" fill="#ffff2e"/>
<rect x="543.7" y="98.6" width="13.0" height="5.6" fill="#ffff29"/>
<rect x="543.7" y="103.8" width="13.0" height="5.6" fill="#ffff24"/>
<rect x="543.7" y="108.9" width="13.0" height="5.6" fill="#ffff1d"/>
<rect x="543.7" y="114.1" width="13.0" height="5.6" fill="#ffff17"/>
<rect x="543.7" y="119.2" width="13.0" height="5.6" fill="#ffff10"/>
<rect x="543.7" y="124.4" width="13.0" height="5.6" fill="#ffff08"/>
<rect x="543.7" y="129.5" width="13.0" height="62.2" fill="#ffff00"/>
<rect x="543.7" y="191.3" width="13.0" height="5.6" fill="#fffc00"/>
<rect x="543.7" y="196.5" width="13.0" height="5.6" fill="#ffee00"/>
<rect x="543.7" y="201.6" width="13.0" height="5.6" fill="#ffe000"/>
<rect x="543.7" y="206.8" width="13.0" height="5.6" fill="#ffd300"/>
<rect x="543.7" y="211.9" width="13.0" height="5.6" fill="#ffc500"/>
<rect x="543.7" y="217.1" width="13.0" height="5.6" fill="#ffb900"/>
<rect x="543.7" y="222.2" width="13.0" height="5.6" fill="#ffb300"/>
<rect x="543.7" y="227.4" width="13.0" height="5.6" fill="#ffac00"/>
<rect x="543.7" y="232.5" width="13.0" height="5.6" fill="#ffa500"/>
<rect x="543.7" y="237.7" width="13.0" height="5.6" fill="#ff9e00"/>
<rect x="543.7" y="242.8" width="13.0" height="5.6" fill="#ff9700"/>
<rect x="543.7" y="248.0" width="13.0" height="5.6" fill="#ff9000"/>
<rect x="543.7" y="253.1" width="13.0" height="5.6" fill="#ff8900"/>
<rect x="543.7" y="258.3" width="13.0" height="5.6" fill="#ff7d00"/>
<rect x="543.7" y="263.5" width="13.0" height="5.6" fill="#ff6b00"/>
<rect x="543.7" y="268.6" width="13.0" height="5.6" fill="#ff5900"/>
<rect x="543.7" y="273.8" width="13.0" height="5.6" fill="#ff4800"/>
<rect x="543.7" y="278.9" width="13.0" height="5.6" fill="#ff3800"/>
<rect x="543.7" y="284.1" width="13.0" height="5.6" fill="#ff2800"/>
<rect x="543.7" y="289.2" width="13.0" height="5.6" fill="#ff1800"/>
<rect x="543.7" y="294.4" width="13.0" height="5.6" fill="#ff0a00"/>
<rect x="543.7" y="299.5" width="13.0" height="5.6" fill="#fe0900"/>
<rect x="543.7" y="304.7" width="13.0" height="5.6" fill="#fd0800"/>
<rect x="543.7" y="309.8" width="13.0" height="5.6" fill="#fc0700"/>
<rect x="543.7" y="315.0" width="13.0" height="5.6" fill="#fa0500"/>
<rect x="543.7" y="320.1" width="13.0" height="5.6" fill="#f90400"/>
<rect x="543.7" y="325.3" width="13.0" height="5.6" fill="#f80300"/>
<rect x="543.7" y="330.4" width="13.0" height="5.6" fill="#f70200"/>
<rect x="543.7" y="335.6" width="13.0" height="5.6" fill="#f60100"/>
<rect x="543.7" y="340.7" width="13.0" height="5.6" fill="#f00000"/>
<rect x="543.7" y="345.9" width="13.0" height="5.6" fill="#e50000"/>
<rect x="543.7" y="351.0" width="13.0" height="5.6" fill="#da0000"/>
<rect x="543.7" y="356.2" width="13.0" height="5.6" fill="#ce0000"/>
<rect x="543.7" y="361.3" width="13.0" height="5.6" fill="#c90000"/>
<rect x="543.7" y="366.5" width="13.0" height="5.6" fill="#c40000"/>
<rect x="543.7" y="371.6" width="13.0" height="5.6" fill="#bf0000"/>
<rect x="543.7" y="376.8" width="13.0" height="5.6" fill="#b50000"/>
<rect x="543.7" y="381.9" width="13.0" height="5.6" fill="#ac0000"/>
<rect x="543.7" y="387.1" width="13.0" height="5.6" fill="#a30000"/>
<rect x="543.7" y="392.2" width="13.0" height="5.6" fill="#9c0000"/>
<rect x="543.7" y="397.4" width="13.0" height="5.6" fill="#950000"/>
<rect x="543.7" y="402.5" width="13.0" height="5.6" fill="#8f0000"/>
<rect x="543.7" y="407.7" width="13.0" height="5.6" fill="#890000"/>
<rect x="543.7" y="412.8" width="13.0" height="5.6" fill="#870000"/>
<rect x="543.7" y="418.0" width="13.0" height="5.6" fill="#8a0000"/>
<rect x="543.7" y="423.1" width="13.0" height="5.6" fill="#8e0000"/>
<rect x="543.7" y="428.3" width="13.0" height="5.6" fill="#930000"/>
<rect x="543.7" y="433.4" width="13.0" height="5.6" fill="#990000"/>
<rect x="543.7" y="438.6" width="13.0" height="5.6" fill="#a50000"/>
<rect x="543.7" y="443.7" width="13.0" height="5.6" fill="#b10000"/>
<rect x="543.7" y="448.9" width="13.0" height="5.6" fill="#c40000"/>
<rect x="543.7" y="454.0" width="13.0" height="5.6" fill="#e00000"/>
<rect x="543.7" y="459.2" width="13.0" height="5.6" fill="#f60100"/>
<rect x="543.7" y="464.3" width="13.0" height="5.6" fill="#fb0600"/>
<rect x="543.7" y="469.5" width="13.0" height="5.6" fill="#ff1e00"/>
<rect x="543.7" y="474.6" width="13.0" height="5.6" fill="#ff6d00"/>
<rect x="543.7" y="479.8" width="13.0" height="5.6" fill="#ffa400"/>
<rect x="543.7" y="484.9" width="13.0" height="5.6" fill="#ffd700"/>
<rect x="556.3" y="26.5" width="13.0" height="5.6" fill="#ffff45"/>
<rect x="556.3" y="31.7" width="13.0" height="5.6" fill="#ffff38"/>
<rect x="556.3" y="36.8" width="13.0" height="5.6" fill="#ffff2e"/>
<rect x="556.3" y="42.0" width="13.0" height="5.6" fill="#ffff27"/>
<rect x="556.3" y="47.1" width="13.0" height="5.6" fill="#ffff20"/>
<rect x="556.3" y="52.3" width="13.0" height="5.6" fill="#ffff19"/>
<rect x="556.3" y="57.4" width="13.0" height="5.6" fill="#ffff13"/>
<rect x="556.3" y="62.6" width="13.0" height="5.6" fill="#ffff0e"/>
<rect x="556.3" y="67.7" width="13.0" height="5.6" fill="#ffff0b"/>
<rect x="556.3" y="72.9" width="13.0" height="5.6" fill="#ffff08"/>
<rect x="556.3" y="78.0" width="13.0" height="5.6" fill="#ffff05"/>
<rect x="556.3" y="83.2" width="13.0" height="5.6" fill="#ffff01"/>
<rect x="556.3" y="88.3" width="13.0" height="46.8" fill="#ffff00"/>
<rect x="556.3" y="134.7" width="13.0" height="5.6" fill="#fff900"/>
<rect x="556.3" y="139.8" width="13.0" height="5.6" fill="#ffef00"/>
<rect x="556.3" y="145.0" width="13.0" height="5.6" fill="#ffec00"/>
<rect x="556.3" y="150.1" width="13.0" height="5.6" fill="#ffe800"/>
<rect x="556.3" y="155.3" width="13.0" height="5.6" fill="#ffe300"/>
<rect x="556.3" y="160.4" width="13.0" height="5.6" fill="#ffdc00"/>
<rect x="556.3" y="165.6" width="13.0" height="5.6" fill="#ffd400"/>
<rect x="556.3" y="170.7" width="13.0" height="5.6" fill="#ffca00"/>
<rect x="556.3" y="175.9" width="13.0" height="5.6" fill="#ffbf00"/>
<rect x="556.3" y="181.0" width="13.0" height="5.6" fill="#ffb300"/>
<rect x="556.3" y="186.2" width="13.0" height="5.6" fill="#ffa700"/>
<rect x="556.3" y="191.3" width="13.0" height="5.6" fill="#ff9a00"/>
<rect x="556.3" y="196.5" width="13.0" height="5.6" fill="#ff9000"/>
<rect x="556.3" y="201.6" width="13.0" height="5.6" fill="#ff8600"/>
<rect x="556.3" y="206.8" width="13.0" height="5.6" fill="#ff7c00"/>
<rect x="556.3" y="211.9" width="13.0" height="5.6" fill="#ff7300"/>
<rect x="556.3" y="217.1" width="13.0" height="5.6" fill="#ff6900"/>
<rect x="556.3" y="222.2" width="13.0" height="5.6" fill="#ff6200"/>
<rect x="556.3" y="227.4" width="13.0" height="5.6" fill="#ff5b00"/>
<rect x="556.3" y="232.5" width="13.0" height="5.6" fill="#ff5300"/>
<rect x="556.3" y="237.7" width="13.0" height="5.6" fill="#ff4b00"/>
<rect x="556.3" y="242.8" width="13.0" height="5.6" fill="#ff4300"/>
<rect x="556.3" y="248.0" width="13.0" height="5.6" fill="#ff3a00"/>
<rect x="556.3" y="253.1" width="13.0" height="5.6" fill="#ff3100"/>
<rect x="556.3" y="258.3" width="13.0" height="5.6" fill="#ff2300"/>
<rect x="556.3" y="263.5" width="13.0" height="5.6" fill="#ff1200"/>
<rect x="556.3" y="268.6" width="13.0" height="5.6" fill="#ff0a00"/>
<rect x="556.3" y="273.8" width="13.0" height="5.6" fill="#fe0900"/>
<rect x="556.3" y="278.9" width="13.0" height="5.6" fill="#fd0800"/>
<rect x="556.3" y="284.1" width="13.0" height="5.6" fill="#fc0700"/>
<rect x="556.3" y="289.2" width="13.0" height="5.6" fill="#fb0600"/>
<rect x="556.3" y="294.4" width="13.0" height="5.6" fill="#fa0500"/>
<rect x="556.3" y="299.5" width="13.0" height="5.6" fill="#f90400"/>
<rect x="556.3" y="304.7" width="13.0" height="5.6" fill="#f80300"/>
<rect x="556.3" y="309.8" width="13.0" height="5.6" fill="#f70200"/>
<rect x="556.3" y="315.0" width="13.0" height="5.6" fill="#f50000"/>
<rect x="556.3" y="320.1" width="13.0" height="5.6" fill="#f20000"/>
<rect x="556.3" y="325.3" width="13.0" height="5.6" fill="#ec0000"/>
<rect x="556.3" y="330.4" width="13.0" height="5.6" fill="#e50000"/>
<rect x="556.3" y="335.6" width="13.0" height="5.6" fill="#dd0000"/>
<rect x="556.3" y="340.7" width="13.0" height="5.6" fill="#d80000"/>
<rect x="556.3" y="345.9" width="13.0" height="5.6" fill="#d30000"/>
<rect x="556.3" y="351.0" width="13.0" height="5.6" fill="#ce0000"/>
<rect x="556.3" y="356.2" width="13.0" height="5.6" fill="#c80000"/>
<rect x="556.3" y="361.3" width="13.0" height="5.6" fill="#c30000"/>
<rect x="556.3" y="366.5" width="13.0" height="5.6" fill="#cc0000"/>
<rect x="556.3" y="371.6" width="13.0" height="5.6" fill="#d40000"/>
<rect x="556.3" y="376.8" width="13.0" height="5.6" fill="#d00000"/>
<rect x="556.3" y="381.9" width="13.0" height="5.6" fill="#cc0000"/>
<rect x="556.3" y="387.1" width="13.0" height="5.6" fill="#c80000"/>
<rect x="556.3" y="392.2" width="13.0" height="5.6" fill="#c50000"/>
<rect x="556.3" y="397.4" width="13.0" height="5.6" fill="#c20000"/>
<rect x="556.3" y="402.5" width="13.0" height="5.6" fill="#bf0000"/>
<rect x="556.3" y="407.7" width="13.0" height="5.6" fill="#bc0000"/>
<rect x="556.3" y="412.8" width="13.0" height="5.6" fill="#bd0000"/>
<rect x="556.3" y="418.0" width="13.0" height="5.6" fill="#c30000"/>
<rect x="556.3" y="423.1" width="13.0" height="5.6" fill="#c90000"/>
<rect x="556.3" y="428.3" width="13.0" height="5.6" fill="#d10000"/>
<rect x="556.3" y="433.4" width="13.0" height="5.6" fill="#da0000"/>
<rect x="556.3" y="438.6" width="13.0" height="5.6" fill="#e70000"/>
<rect x="556.3" y="443.7" width="13.0" height="5.6" fill="#f50000"/>
<rect x="556.3" y="448.9" width="13.0" height="5.6" fill="#f90400"/>
<rect x="556.3" y="454.0" width="13.0" height="5.6" fill="#fe0900"/>
<rect x="556.3" y="459.2" width="13.0" height="5.6" fill="#ff2b00"/>
<rect x="556.3" y="464.3" width="13.0" height="5.6" fill="#ff5300"/>
<rect x="556.3" y="469.5" width="13.0" height="5.6" fill="#ff8600"/>
<rect x="556.3" y="474.6" width="13.0" height="5.6" fill="#ffbd00"/>
<rect x="556.3" y="479.8" width="13.0" height="5.6" fill="#fffe00"/>
<rect x="556.3" y="484.9" width="13.0" height="5.6" fill="#ffff00"/>
<rect x="568.9" y="26.5" width="13.0" height="77.7" fill="#ffff00"/>
<rect x="568.9" y="103.8" width="13.0" height="5.6" fill="#fffa00"/>
<rect x="568.9" y="108.9" width="13.0" height="5.6" fill="#fff000"/>
<rect x="568.9" y="114.1" width="13.0" height="5.6" fill="#ffe700"/>
<rect x="568.9" y="119.2" width="13.0" height="5.6" fill="#ffdd00"/>
<rect x="568.9" y="124.4" width="13.0" height="5.6" fill="#ffd300"/>
<rect x="568.9" y="129.5" width="13.0" height="5.6" fill="#ffc900"/>
<rect x="568.9" y="134.7" width="13.0" height="5.6" fill="#ffbf00"/>
<rect x="568.9" y="139.8" width="13.0" height="5.6" fill="#ffb600"/>
<rect x="568.9" y="145.0" width="13.0" height="5.6" fill="#ffaf00"/>
<rect x="568.9" y="150.1" width="13.0" height="5.6" fill="#ffa700"/>
<rect x="568.9" y="155.3" width="13.0" height="5.6" fill="#ff9d00"/>
<rect x="568.9" y="160.4" width="13.0" height="5.6" fill="#ff9300"/>
<rect x="568.9" y="165.6" width="13.0" height="5.6" fill="#ff8800"/>
<rect x="568.9" y="170.7" width="13.0" height="5.6" fill="#ff7c00"/>
<rect x="568.9" y="175.9" width="13.0" height="5.6" fill="#ff6e00"/>
<rect x="568.9" y="181.0" width="13.0" height="5.6" fill="#ff6200"/>
<rect x="568.9" y="186.2" width="13.0" height="5.6" fill="#ff5900"/>
<rect x="568.9" y="191.3" width="13.0" height="5.6" fill="#ff4f00"/>
<rect x="568.9" y="196.5" width="13.0" height="5.6" fill="#ff4500"/>
<rect x="568.9" y="201.6" width="13.0" height="5.6" fill="#ff3c00"/>
<rect x="568.9" y="206.8" width="13.0" height="5.6" fill="#ff3200"/>
<rect x="568.9" y="211.9" width="13.0" height="5.6" fill="#ff2800"/>
<rect x="568.9" y="217.1" width="13.0" height="5.6" fill="#ff1e00"/>
<rect x="568.9" y="222.2" width="13.0" height="5.6" fill="#ff1600"/>
<rect x="568.9" y="227.4" width="13.0" height="5.6" fill="#ff0d00"/>
<rect x="568.9" y="232.5" width="13.0" height="5.6" fill="#ff0a00"/>
<rect x="568.9" y="237.7" width="13.0" height="5.6" fill="#fe0900"/>
<rect x="568.9" y="242.8" width="13.0" height="10.7" fill="#fd0800"/>
<rect x="568.9" y="253.1" width="13.0" height="5.6" fill="#fc0700"/>
<rect x="568.9" y="258.3" width="13.0" height="10.7" fill="#fb0600"/>
<rect x="568.9" y="268.6" width="13.0" height="5.6" fill="#fa0500"/>
<rect x="568.9" y="273.8" width="13.0" height="5.6" fill="#f90400"/>
<rect x="568.9" y="278.9" width="13.0" height="5.6" fill="#f80300"/>
<rect x="568.9" y="284.1" width="13.0" height="5.6" fill="#f70200"/>
<rect x="568.9" y="289.2" width="13.0" height="5.6" fill="#f60100"/>
<rect x="568.9" y="294.4" width="13.0" height="5.6" fill="#f50000"/>
<rect x="568.9" y="299.5" width="13.0" height="5.6" fill="#ef0000"/>
<rect x="568.9" y="304.7" width="13.0" height="5.6" fill="#e90000"/>
<rect x="568.9" y="309.8" width="13.0" height="5.6" fill="#e30000"/>
<rect x="568.9" y="315.0" width="13.0" height="5.6" fill="#dd0000"/>
<rect x="568.9" y="320.1" width="13.0" height="5.6" fill="#dc0000"/>
<rect x="568.9" y="325.3" width="13.0" height="5.6" fill="#db0000"/>
<rect x="568.9" y="330.4" width="13.0" height="5.6" fill="#da0000"/>
<rect x="568.9" y="335.6" width="13.0" height="5.6" fill="#d70000"/>
<rect x="568.9" y="340.7" width="13.0" height="5.6" fill="#d20000"/>
<rect x="568.9" y="345.9" width="13.0" height="5.6" fill="#cd0000"/>
<rect x="568.9" y="351.0" width="13.0" height="5.6" fill="#cc0000"/>
<rect x="568.9" y="356.2" width="13.0" height="5.6" fill="#d50000"/>
<rect x="568.9" y="361.3" width="13.0" height="5.6" fill="#de0000"/>
<rect x="568.9" y="366.5" width="13.0" height="5.6" fill="#e60000"/>
<rect x="568.9" y="371.6" width="13.0" height="5.6" fill="#ee0000"/>
<rect x="568.9" y="376.8" width="13.0" height="5.6" fill="#ec0000"/>
<rect x="568.9" y="381.9" width="13.0" height="5.6" fill="#ea0000"/>
<rect x="568.9" y="387.1" width="13.0" height="5.6" fill="#e80000"/>
<rect x="568.9" y="392.2" width="13.0" height="5.6" fill="#e70000"/>
<rect x="568.9" y="397.4" width="13.0" height="5.6" fill="#e60000"/>
<rect x="568.9" y="402.5" width="13.0" height="5.6" fill="#e50000"/>
<rect x="568.9" y="407.7" width="13.0" height="5.6" fill="#e40000"/>
<rect x="568.9" y="412.8" width="13.0" height="5.6" fill="#e80000"/>
<rect x="568.9" y="418.0" width="13.0" height="5.6" fill="#f00000"/>
<rect x="568.9" y="423.1" width="13.0" height="5.6" fill="#f60100"/>
<rect x="568.9" y="428.3" width="13.0" height="5.6" fill="#f80300"/>
<rect x="568.9" y="433.4" width="13.0" height="5.6" fill="#fa0500"/>
<rect x="568.9" y="438.6" width="13.0" height="5.6" fill="#fe0900"/>
<rect x="568.9" y="443.7" width="13.0" height="5.6" fill="#ff1c00"/>
<rect x="568.9" y="448.9" width="13.0" height="5.6" fill="#ff4300"/>
<rect x="568.9" y="454.0" width="13.0" height="5.6" fill="#ff7700"/>
<rect x="568.9" y="459.2" width="13.0" height="5.6" fill="#ff9c00"/>
<rect x="568.9" y="464.3" width="13.0" height="5.6" fill="#ffbb00"/>
<rect x="568.9" y="469.5" width="13.0" height="5.6" fill="#ffde00"/>
<rect x="568.9" y="474.6" width="13.0" height="10.7" fill="#ffff00"/>
<rect x="568.9" y="484.9" width="13.0" height="5.6" fill="#ffff23"/>
<rect x="581.6" y="26.5" width="13.0" height="36.5" fill="#ffff00"/>
<rect x="581.6" y="62.6" width="13.0" height="5.6" fill="#fffe00"/>
<rect x="581.6" y="67.7" width="13.0" height="5.6" fill="#fff800"/>
<rect x="581.6" y="72.9" width="13.0" height="5.6" fill="#fff100"/>
<rect x="581.6" y="78.0" width="13.0" height="5.6" fill="#ffea00"/>
<rect x="581.6" y="83.2" width="13.0" height="5.6" fill="#ffe300"/>
<rect x="581.6" y="88.3" width="13.0" height="5.6" fill="#ffdb00"/>
<rect x="581.6" y="93.5" width="13.0" height="5.6" fill="#ffd300"/>
<rect x="581.6" y="98.6" width="13.0" height="5.6" fill="#ffcb00"/>
<rect x="581.6" y="103.8" width="13.0" height="5.6" fill="#ffc300"/>
<rect x="581.6" y="108.9" width="13.0" height="5.6" fill="#ffba00"/>
<rect x="581.6" y="114.1" width="13.0" height="5.6" fill="#ffb100"/>
<rect x="581.6" y="119.2" width="13.0" height="5.6" fill="#ffa700"/>
<rect x="581.6" y="124.4" width="13.0" height="5.6" fill="#ff9e00"/>
<rect x="581.6" y="129.5" width="13.0" height="5.6" fill="#ff9500"/>
<rect x="581.6" y="134.7" width="13.0" height="5.6" fill="#ff8b00"/>
<rect x="581.6" y="139.8" width="13.0" height="5.6" fill="#ff8200"/>
<rect x="581.6" y="145.0" width="13.0" height="5.6" fill="#ff7800"/>
<rect x="581.6" y="150.1" width="13.0" height="5.6" fill="#ff6d00"/>
<rect x="581.6" y="155.3" width="13.0" height="5.6" fill="#ff6100"/>
<rect x="581.6" y="160.4" width="13.0" height="5.6" fill="#ff5400"/>
<rect x="581.6" y="165.6" width="13.0" height="5.6" fill="#ff4600"/>
<rect x="581.6" y="170.7" width="13.0" height="5.6" fill="#ff3700"/>
<rect x="581.6" y="175.9" width="13.0" height="5.6" fill="#ff2600"/>
<rect x="581.6" y="181.0" width="13.0" height="5.6" fill="#ff1800"/>
<rect x="581.6" y="186.2" width="13.0" height="5.6" fill="#ff0e00"/>
<rect x="581.6" y="191.3" width="13.0" height="5.6" fill="#ff0a00"/>
<rect x="581.6" y="196.5" width="13.0" height="5.6" fill="#fe0900"/>
<rect x="581.6" y="201.6" width="13.0" height="10.7" fill="#fd0800"/>
<rect x="581.6" y="211.9" width="13.0" height="5.6" fill="#fc0700"/>
<rect x="581.6" y="217.1" width="13.0" height="5.6" fill="#fb0600"/>
<rect x="581.6" y="222.2" width="13.0" height="10.7" fill="#fa0500"/>
<rect x="581.6" y="232.5" width="13.0" height="10.7" fill="#f90400"/>
<rect x="581.6" y="242.8" width="13.0" height="10.7" fill="#f80300"/>
<rect x="581.6" y="253.1" width="13.0" height="10.7" fill="#f70200"/>
<rect x="581.6" y="263.5" width="13.0" height="5.6" fill="#f60100"/>
<rect x="581.6" y="268.6" width="13.0" height="5.6" fill="#f30000"/>
<rect x="581.6" y="273.8" width="13.0" height="5.6" fill="#ee0000"/>
<rect x="581.6" y="278.9" width="13.0" height="5.6" fill="#e90000"/>
<rect x="581.6" y="284.1" width="13.0" height="5.6" fill="#e40000"/>
<rect x="581.6" y="289.2" width="13.0" height="5.6" fill="#df0000"/>
<rect x="581.6" y="294.4" width="13.0" height="5.6" fill="#da0000"/>
<rect x="581.6" y="299.5" width="13.0" height="5.6" fill="#d90000"/>
<rect x="581.6" y="304.7" width="13.0" height="5.6" fill="#d80000"/>
<rect x="581.6" y="309.8" width="13.0" height="5.6" fill="#d70000"/>
<rect x="581.6" y="315.0" width="13.0" height="5.6" fill="#d60000"/>
<rect x="581.6" y="320.1" width="13.0" height="10.7" fill="#d50000"/>
<rect x="581.6" y="330.4" width="13.0" height="5.6" fill="#d40000"/>
<rect x="581.6" y="335.6" width="13.0" height="5.6" fill="#d10000"/>
<rect x="581.6" y="340.7" width="13.0" height="5.6" fill="#d50000"/>
<rect x="581.6" y="345.9" width="13.0" height="5.6" fill="#e00000"/>
<rect x="581.6" y="351.0" width="13.0" height="5.6" fill="#e90000"/>
<rect x="581.6" y="356.2" width="13.0" height="5.6" fill="#f20000"/>
<rect x="581.6" y="361.3" width="13.0" height="5.6" fill="#f60100"/>
<rect x="581.6" y="366.5" width="13.0" height="5.6" fill="#f70200"/>
<rect x="581.6" y="371.6" width="13.0" height="21.0" fill="#f80300"/>
<rect x="581.6" y="392.2" width="13.0" height="21.0" fill="#f90400"/>
<rect x="581.6" y="412.8" width="13.0" height="5.6" fill="#fa0500"/>
<rect x="581.6" y="418.0" width="13.0" height="5.6" fill="#fc0700"/>
<rect x="581.6" y="423.1" width="13.0" height="5.6" fill="#ff0a00"/>
<rect x="581.6" y="428.3" width="13.0" height="5.6" fill="#ff2700"/>
<rect x="581.6" y="433.4" width="13.0" height="5.6" fill="#ff4600"/>
<rect x="581.6" y="438.6" width="13.0" height="5.6" fill="#ff6700"/>
<rect x="581.6" y="443.7" width="13.0" height="5.6" fill="#ff8700"/>
<rect x="581.6" y="448.9" width="13.0" height="5.6" fill="#ffa900"/>
<rect x="581.6" y="454.0" width="13.0" height="5.6" fill="#ffd400"/>
<rect x="581.6" y="459.2" width="13.0" height="5.6" fill="#fff800"/>
<rect x="581.6" y="464.3" width="13.0" height="10.7" fill="#ffff00"/>
<rect x="581.6" y="474.6" width="13.0" height="5.6" fill="#ffff05"/>
<rect x="581.6" y="479.8" width="13.0" height="5.6" fill="#ffff2e"/>
<rect x="581.6" y="484.9" width="13.0" height="5.6" fill="#ffff68"/>
<rect x="594.2" y="26.5" width="13.0" height="5.6" fill="#fffc00"/>
<rect x="594.2" y="31.7" width="13.0" height="5.6" fill="#fff600"/>
<rect x="594.2" y="36.8" width="13.0" height="5.6" fill="#ffef00"/>
<rect x="594.2" y="42.0" width="13.0" height="5.6" fill="#ffe900"/>
<rect x="594.2" y="47.1" width="13.0" height="5.6" fill="#ffe300"/>
<rect x="594.2" y="52.3" width="13.0" height="5.6" fill="#ffdc00"/>
<rect x="594.2" y="57.4" width="13.0" height="5.6" fill="#ffd500"/>
<rect x="594.2" y="62.6" width="13.0" height="5.6" fill="#ffce00"/>
<rect x="594.2" y="67.7" width="13.0" height="5.6" fill="#ffc700"/>
<rect x="594.2" y="72.9" width="13.0" height="5.6" fill="#ffc000"/>
<rect x="594.2" y="78.0" width="13.0" height="5.6" fill="#ffb900"/>
<rect x="594.2" y="83.2" width="13.0" height="5.6" fill="#ffb100"/>
<rect x="594.2" y="88.3" width="13.0" height="5.6" fill="#ffaa00"/>
<rect x="594.2" y="93.5" width="13.0" height="5.6" fill="#ffa200"/>
<rect x="594.2" y="98.6" width="13.0" height="5.6" fill="#ff9a00"/>
<rect x="594.2" y="103.8" width="13.0" height="5.6" fill="#ff9200"/>
<rect x="594.2" y="108.9" width="13.0" height="5.6" fill="#ff8a00"/>
<rect x="594.2" y="114.1" width="13.0" height="5.6" fill="#ff8100"/>
<rect x="594.2" y="119.2" width="13.0" height="5.6" fill="#ff7800"/>
<rect x="594.2" y="124.4" width="13.0" height="5.6" fill="#ff6f00"/>
<rect x="594.2" y="129.5" width="13.0" height="5.6" fill="#ff6500"/>
<rect x="594.2" y="134.7" width="13.0" height="5.6" fill="#ff5a00"/>
<rect x="594.2" y="139.8" width="13.0" height="5.6" fill="#ff4f00"/>
<rect x="594.2" y="145.0" width="13.0" height="5.6" fill="#ff4200"/>
<rect x="594.2" y="150.1" width="13.0" height="5.6" fill="#ff3500"/>
<rect x="594.2" y="155.3" width="13.0" height="5.6" fill="#ff2600"/>
<rect x="594.2" y="160.4" width="13.0" height="5.6" fill="#ff1600"/>
<rect x="594.2" y="165.6" width="13.0" height="5.6" fill="#ff0a00"/>
<rect x="594.2" y="170.7" width="13.0" height="5.6" fill="#fe0900"/>
<rect x="594.2" y="175.9" width="13.0" height="5.6" fill="#fd0800"/>
<rect x="594.2" y="181.0" width="13.0" height="5.6" fill="#fc0700"/>
<rect x="594.2" y="186.2" width="13.0" height="5.6" fill="#fb0600"/>
<rect x="594.2" y="191.3" width="13.0" height="5.6" fill="#fa0500"/>
<rect x="594.2" y="196.5" width="13.0" height="5.6" fill="#f90400"/>
<rect x="594.2" y="201.6" width="13.0" height="5.6" fill="#f80300"/>
<rect x="594.2" y="206.8" width="13.0" height="5.6" fill="#f70200"/>
<rect x="594.2" y="211.9" width="13.0" height="5.6" fill="#f60100"/>
<rect x="594.2" y="217.1" width="13.0" height="26.2" fill="#f50000"/>
<rect x="594.2" y="242.8" width="13.0" height="15.9" fill="#f40000"/>
<rect x="594.2" y="258.3" width="13.0" height="5.6" fill="#f20000"/>
<rect x="594.2" y="263.5" width="13.0" height="5.6" fill="#ed0000"/>
<rect x="594.2" y="268.6" width="13.0" height="5.6" fill="#e90000"/>
<rect x="594.2" y="273.8" width="13.0" height="5.6" fill="#e50000"/>
<rect x="594.2" y="278.9" width="13.0" height="5.6" fill="#e10000"/>
<rect x="594.2" y="284.1" width="13.0" height="5.6" fill="#dc0000"/>
<rect x="594.2" y="289.2" width="13.0" height="5.6" fill="#d80000"/>
<rect x="594.2" y="294.4" width="13.0" height="5.6" fill="#d30000"/>
<rect x="594.2" y="299.5" width="13.0" height="5.6" fill="#d20000"/>
<rect x="594.2" y="304.7" width="13.0" height="5.6" fill="#d10000"/>
<rect x="594.2" y="309.8" width="13.0" height="5.6" fill="#d40000"/>
<rect x="594.2" y="315.0" width="13.0" height="5.6" fill="#d80000"/>
<rect x="594.2" y="320.1" width="13.0" height="5.6" fill="#dc0000"/>
<rect x="594.2" y="325.3" width="13.0" height="5.6" fill="#e00000"/>
<rect x="594.2" y="330.4" width="13.0" height="5.6" fill="#e40000"/>
<rect x="594.2" y="335.6" width="13.0" height="5.6" fill="#ec0000"/>
<rect x="594.2" y="340.7" width="13.0" height="5.6" fill="#f50000"/>
<rect x="594.2" y="345.9" width="13.0" height="5.6" fill="#f70200"/>
<rect x="594.2" y="351.0" width="13.0" height="5.6" fill="#f80300"/>
<rect x="594.2" y="356.2" width="13.0" height="5.6" fill="#fa0500"/>
<rect x="594.2" y="361.3" width="13.0" height="5.6" fill="#fb0600"/>
<rect x="594.2" y="366.5" width="13.0" height="5.6" fill="#fc0700"/>
<rect x="594.2" y="371.6" width="13.0" height="10.7" fill="#fd0800"/>
<rect x="594.2" y="381.9" width="13.0" height="10.7" fill="#fe0900"/>
<rect x="594.2" y="392.2" width="13.0" height="5.6" fill="#ff0a00"/>
<rect x="594.2" y="397.4" width="13.0" height="5.6" fill="#ff0e00"/>
<rect x="594.2" y="402.5" width="13.0" height="5.6" fill="#ff1600"/>
<rect x="594.2" y="407.7" width="13.0" height="5.6" fill="#ff2000"/>
<rect x="594.2" y="412.8" width="13.0" height="5.6" fill="#ff3500"/>
<rect x="594.2" y="418.0" width="13.0" height="5.6" fill="#ff5400"/>
<rect x="594.2" y="423.1" width="13.0" height="5.6" fill="#ff7300"/>
<rect x="594.2" y="428.3" width="13.0" height="5.6" fill="#ff9200"/>
<rect x="594.2" y="433.4" width="13.0" height="5.6" fill="#ffab00"/>
<rect x="594.2" y="438.6" width="13.0" height="5.6" fill="#ffc400"/>
<rect x="594.2" y="443.7" width="13.0" height="5.6" fill="#ffdf00"/>
<rect x="594.2" y="448.9" width="13.0" height="15.9" fill="#ffff00"/>
<rect x="594.2" y="464.3" width="13.0" height="5.6" fill="#ffff02"/>
<rect x="594.2" y="469.5" width="13.0" height="5.6" fill="#ffff1f"/>
<rect x="594.2" y="474.6" width="13.0" height="5.6" fill="#ffff48"/>
<rect x="594.2" y="479.8" width="13.0" height="5.6" fill="#ffff76"/>
<rect x="594.2" y="484.9" width="13.0" height="5.6" fill="#ffffa5"/>
<rect x="606.8" y="26.5" width="13.0" height="5.6" fill="#ffd000"/>
<rect x="606.8" y="31.7" width="13.0" height="5.6" fill="#ffc900"/>
<rect x="606.8" y="36.8" width="13.0" height="5.6" fill="#ffc300"/>
<rect x="606.8" y="42.0" width="13.0" height="5.6" fill="#ffbd00"/>
<rect x="606.8" y="47.1" width="13.0" height="5.6" fill="#ffb600"/>
<rect x="606.8" y="52.3" width="13.0" height="5.6" fill="#ffaf00"/>
<rect x="606.8" y="57.4" width="13.0" height="5.6" fill="#ffa800"/>
<rect x="606.8" y="62.6" width="13.0" height="5.6" fill="#ffa100"/>
<rect x="606.8" y="67.7" width="13.0" height="5.6" fill="#ff9a00"/>
<rect x="606.8" y="72.9" width="13.0" height="5.6" fill="#ff9300"/>
<rect x="606.8" y="78.0" width="13.0" height="5.6" fill="#ff8c00"/>
<rect x="606.8" y="83.2" width="13.0" height="5.6" fill="#ff8600"/>
<rect x="606.8" y="88.3" width="13.0" height="5.6" fill="#ff7f00"/>
<rect x="606.8" y="93.5" width="13.0" height="5.6" fill="#ff7800"/>
<rect x="606.8" y="98.6" width="13.0" height="5.6" fill="#ff7200"/>
<rect x="606.8" y="103.8" width="13.0" height="5.6" fill="#ff6a00"/>
<rect x="606.8" y="108.9" width="13.0" height="5.6" fill="#ff6000"/>
<rect x="606.8" y="114.1" width="13.0" height="5.6" fill="#ff5600"/>
<rect x="606.8" y="119.2" width="13.0" height="5.6" fill="#ff4b00"/>
<rect x="606.8" y="124.4" width="13.0" height="5.6" fill="#ff4000"/>
<rect x="606.8" y="129.5" width="13.0" height="5.6" fill="#ff3500"/>
<rect x="606.8" y="134.7" width="13.0" height="5.6" fill="#ff2a00"/>
<rect x="606.8" y="139.8" width="13.0" height="5.6" fill="#ff2300"/>
<rect x="606.8" y="145.0" width="13.0" height="5.6" fill="#ff1a00"/>
<rect x="606.8" y="150.1" width="13.0" height="5.6" fill="#ff0f00"/>
<rect x="606.8" y="155.3" width="13.0" height="5.6" fill="#fe0900"/>
<rect x="606.8" y="160.4" width="13.0" height="5.6" fill="#fd0800"/>
<rect x="606.8" y="165.6" width="13.0" height="5.6" fill="#fc0700"/>
<rect x="606.8" y="170.7" width="13.0" height="5.6" fill="#fb0600"/>
<rect x="606.8" y="175.9" width="13.0" height="5.6" fill="#f90400"/>
<rect x="606.8" y="181.0" width="13.0" height="10.7" fill="#f70200"/>
<rect x="606.8" y="191.3" width="13.0" height="21.0" fill="#f60100"/>
<rect x="606.8" y="211.9" width="13.0" height="15.9" fill="#f50000"/>
<rect x="606.8" y="227.4" width="13.0" height="15.9" fill="#f40000"/>
<rect x="606.8" y="242.8" width="13.0" height="5.6" fill="#f30000"/>
<rect x="606.8" y="248.0" width="13.0" height="10.7" fill="#f20000"/>
<rect x="606.8" y="258.3" width="13.0" height="5.6" fill="#ef0000"/>
<rect x="606.8" y="263.5" width="13.0" height="5.6" fill="#ea0000"/>
<rect x="606.8" y="268.6" width="13.0" height="5.6" fill="#e60000"/>
<rect x="606.8" y="273.8" width="13.0" height="5.6" fill="#e20000"/>
<rect x="606.8" y="278.9" width="13.0" height="5.6" fill="#e30000"/>
<rect x="606.8" y="284.1" width="13.0" height="5.6" fill="#e50000"/>
<rect x="606.8" y="289.2" width="13.0" height="5.6" fill="#e70000"/>
<rect x="606.8" y="294.4" width="13.0" height="5.6" fill="#ea0000"/>
<rect x="606.8" y="299.5" width="13.0" height="5.6" fill="#ee0000"/>
<rect x="606.8" y="304.7" width="13.0" height="5.6" fill="#f20000"/>
<rect x="606.8" y="309.8" width="13.0" height="5.6" fill="#f50000"/>
<rect x="606.8" y="315.0" width="13.0" height="5.6" fill="#f60100"/>
<rect x="606.8" y="320.1" width="13.0" height="5.6" fill="#f70200"/>
<rect x="606.8" y="325.3" width="13.0" height="10.7" fill="#f80300"/>
<rect x="606.8" y="335.6" width="13.0" height="5.6" fill="#fa0500"/>
<rect x="606.8" y="340.7" width="13.0" height="5.6" fill="#fb0600"/>
<rect x="606.8" y="345.9" width="13.0" height="5.6" fill="#fd0800"/>
<rect x="606.8" y="351.0" width="13.0" height="5.6" fill="#fe0900"/>
<rect x="606.8" y="356.2" width="13.0" height="5.6" fill="#ff0a00"/>
<rect x="606.8" y="361.3" width="13.0" height="5.6" fill="#ff1700"/>
<rect x="606.8" y="366.5" width="13.0" height="5.6" fill="#ff2700"/>
<rect x="606.8" y="371.6" width="13.0" height="5.6" fill="#ff3700"/>
<rect x="606.8" y="376.8" width="13.0" height="5.6" fill="#ff4000"/>
<rect x="606.8" y="381.9" width="13.0" height="5.6" fill="#ff4900"/>
<rect x="606.8" y="387.1" width="13.0" height="5.6" fill="#ff5300"/>
<rect x="606.8" y="392.2" width="13.0" height="5.6" fill="#ff5f00"/>
<rect x="606.8" y="397.4" width="13.0" height="5.6" fill="#ff6b00"/>
<rect x="606.8" y="402.5" width="13.0" height="5.6" fill="#ff7900"/>
<rect x="606.8" y="407.7" width="13.0" height="5.6" fill="#ff8800"/>
<rect x="606.8" y="412.8" width="13.0" height="5.6" fill="#ff9e00"/>
<rect x="606.8" y="418.0" width="13.0" height="5.6" fill="#ffb600"/>
<rect x="606.8" y="423.1" width="13.0" height="5.6" fill="#ffce00"/>
<rect x="606.8" y="428.3" width="13.0" height="5.6" fill="#ffe800"/>
<rect x="606.8" y="433.4" width="13.0" height="21.0" fill="#ffff00"/>
<rect x="606.8" y="454.0" width="13.0" height="5.6" fill="#ffff0a"/>
<rect x="606.8" y="459.2" width="13.0" height="5.6" fill="#ffff1f"/>
<rect x="606.8" y="464.3" width="13.0" height="5.6" fill="#ffff30"/>
<rect x="606.8" y="469.5" width="13.0" height="5.6" fill="#ffff51"/>
<rect x="606.8" y="474.6" width="13.0" height="5.6" fill="#ffff7b"/>
<rect x="606.8" y="479.8" width="13.0" height="5.6" fill="#ffffa8"/>
<rect x="606.8" y="484.9" width="13.0" height="5.6" fill="#ffffd6"/>
<rect x="619.4" y="26.5" width="13.0" height="5.6" fill="#ffa700"/>
<rect x="619.4" y="31.7" width="13.0" height="5.6" fill="#ffa100"/>
<rect x="619.4" y="36.8" width="13.0" height="5.6" fill="#ff9a00"/>
<rect x="619.4" y="42.0" width="13.0" height="5.6" fill="#ff9300"/>
<rect x="619.4" y="47.1" width="13.0" height="5.6" fill="#ff8d00"/>
<rect x="619.4" y="52.3" width="13.0" height="5.6" fill="#ff8600"/>
<rect x="619.4" y="57.4" width="13.0" height="5.6" fill="#ff8000"/>
<rect x="619.4" y="62.6" width="13.0" height="5.6" fill="#ff7900"/>
<rect x="619.4" y="67.7" width="13.0" height="5.6" fill="#ff7200"/>
<rect x="619.4" y="72.9" width="13.0" height="5.6" fill="#ff6c00"/>
<rect x="619.4" y="78.0" width="13.0" height="5.6" fill="#ff6500"/>
<rect x="619.4" y="83.2" width="13.0" height="5.6" fill="#ff5f00"/>
<rect x="619.4" y="88.3" width="13.0" height="5.6" fill="#ff5800"/>
<rect x="619.4" y="93.5" width="13.0" height="5.6" fill="#ff5100"/>
<rect x="619.4" y="98.6" width="13.0" height="5.6" fill="#ff4a00"/>
<rect x="619.4" y="103.8" width="13.0" height="5.6" fill="#ff4300"/>
<rect x="619.4" y="108.9" width="13.0" height="5.6" fill="#ff3a00"/>
<rect x="619.4" y="114.1" width="13.0" height="5.6" fill="#ff3200"/>
<rect x="619.4" y="119.2" width="13.0" height="5.6" fill="#ff2a00"/>
<rect x="619.4" y="124.4" width="13.0" height="5.6" fill="#ff2300"/>
<rect x="619.4" y="129.5" width="13.0" height="5.6" fill="#ff1d00"/>
<rect x="619.4" y="134.7" width="13.0" height="5.6" fill="#ff1700"/>
<rect x="619.4" y="139.8" width="13.0" height="5.6" fill="#ff1200"/>
<rect x="619.4" y="145.0" width="13.0" height="5.6" fill="#ff0a00"/>
<rect x="619.4" y="150.1" width="13.0" height="5.6" fill="#fd0800"/>
<rect x="619.4" y="155.3" width="13.0" height="5.6" fill="#fc0700"/>
<rect x="619.4" y="160.4" width="13.0" height="5.6" fill="#fb0600"/>
<rect x="619.4" y="165.6" width="13.0" height="5.6" fill="#f90400"/>
<rect x="619.4" y="170.7" width="13.0" height="5.6" fill="#f80300"/>
<rect x="619.4" y="175.9" width="13.0" height="15.9" fill="#f70200"/>
<rect x="619.4" y="191.3" width="13.0" height="21.0" fill="#f60100"/>
<rect x="619.4" y="211.9" width="13.0" height="15.9" fill="#f50000"/>
<rect x="619.4" y="227.4" width="13.0" height="5.6" fill="#f40000"/>
<rect x="619.4" y="232.5" width="13.0" height="5.6" fill="#f30000"/>
<rect x="619.4" y="237.7" width="13.0" height="15.9" fill="#f20000"/>
<rect x="619.4" y="253.1" width="13.0" height="10.7" fill="#f50000"/>
<rect x="619.4" y="263.5" width="13.0" height="15.9" fill="#f60100"/>
<rect x="619.4" y="278.9" width="13.0" height="10.7" fill="#f70200"/>
<rect x="619.4" y="289.2" width="13.0" height="5.6" fill="#f80300"/>
<rect x="619.4" y="294.4" width="13.0" height="5.6" fill="#f90400"/>
<rect x="619.4" y="299.5" width="13.0" height="5.6" fill="#fa0500"/>
<rect x="619.4" y="304.7" width="13.0" height="10.7" fill="#fb0600"/>
<rect x="619.4" y="315.0" width="13.0" height="5.6" fill="#fc0700"/>
<rect x="619.4" y="320.1" width="13.0" height="5.6" fill="#fd0800"/>
<rect x="619.4" y="325.3" width="13.0" height="5.6" fill="#fe0900"/>
<rect x="619.4" y="330.4" width="13.0" height="5.6" fill="#ff0a00"/>
<rect x="619.4" y="335.6" width="13.0" height="5.6" fill="#ff1300"/>
<rect x="619.4" y="340.7" width="13.0" height="5.6" fill="#ff2000"/>
<rect x="619.4" y="345.9" width="13.0" height="5.6" fill="#ff2e00"/>
<rect x="619.4" y="351.0" width="13.0" height="5.6" fill="#ff3d00"/>
<rect x="619.4" y="356.2" width="13.0" height="5.6" fill="#ff4c00"/>
<rect x="619.4" y="361.3" width="13.0" height="5.6" fill="#ff5d00"/>
<rect x="619.4" y="366.5" width="13.0" height="5.6" fill="#ff6f00"/>
<rect x="619.4" y="371.6" width="13.0" height="5.6" fill="#ff8100"/>
<rect x="619.4" y="376.8" width="13.0" height="5.6" fill="#ff8d00"/>
<rect x="619.4" y="381.9" width="13.0" height="5.6" fill="#ff9900"/>
<rect x="619.4" y="387.1" width="13.0" height="5.6" fill="#ffa400"/>
<rect x="619.4" y="392.2" width="13.0" height="5.6" fill="#ffb100"/>
<rect x="619.4" y="397.4" width="13.0" height="5.6" fill="#ffbe00"/>
<rect x="619.4" y="402.5" width="13.0" height="5.6" fill="#ffcc00"/>
<rect x="619.4" y="407.7" width="13.0" height="5.6" fill="#ffdd00"/>
<rect x="619.4" y="412.8" width="13.0" height="5.6" fill="#fff400"/>
<rect x="619.4" y="418.0" width="13.0" height="26.2" fill="#ffff00"/>
<rect x="619.4" y="443.7" width="13.0" height="5.6" fill="#ffff07"/>
<rect x="619.4" y="448.9" width="13.0" height="5.6" fill="#ffff1b"/>
<rect x="619.4" y="454.0" width="13.0" height="5.6" fill="#ffff2e"/>
<rect x="619.4" y="459.2" width="13.0" height="5.6" fill="#ffff40"/>
<rect x="619.4" y="464.3" width="13.0" height="5.6" fill="#ffff61"/>
<rect x="619.4" y="469.5" width="13.0" height="5.6" fill="#ffff84"/>
<rect x="619.4" y="474.6" width="13.0" height="5.6" fill="#ffffa8"/>
<rect x="619.4" y="479.8" width="13.0" height="5.6" fill="#ffffd3"/>
<rect x="632.0" y="26.5" width="13.0" height="5.6" fill="#ff8100"/>
<rect x="632.0" y="31.7" width="13.0" height="5.6" fill="#ff7a00"/>
<rect x="632.0" y="36.8" width="13.0" height="5.6" fill="#ff7300"/>
<rect x="632.0" y="42.0" width="13.0" height="5.6" fill="#ff6d00"/>
<rect x="632.0" y="47.1" width="13.0" height="5.6" fill="#ff6600"/>
<rect x="632.0" y="52.3" width="13.0" height="5.6" fill="#ff6000"/>
<rect x="632.0" y="57.4" width="13.0" height="5.6" fill="#ff5900"/>
<rect x="632.0" y="62.6" width="13.0" height="5.6" fill="#ff5300"/>
<rect x="632.0" y="67.7" width="13.0" height="5.6" fill="#ff4e00"/>
<rect x="632.0" y="72.9" width="13.0" height="5.6" fill="#ff4800"/>
<rect x="632.0" y="78.0" width="13.0" height="5.6" fill="#ff4200"/>
<rect x="632.0" y="83.2" width="13.0" height="5.6" fill="#ff3c00"/>
<rect x="632.0" y="88.3" width="13.0" height="5.6" fill="#ff3600"/>
<rect x="632.0" y="93.5" width="13.0" height="5.6" fill="#ff3000"/>
<rect x="632.0" y="98.6" width="13.0" height="5.6" fill="#ff2900"/>
<rect x="632.0" y="103.8" width="13.0" height="5.6" fill="#ff2200"/>
<rect x="632.0" y="108.9" width="13.0" height="5.6" fill="#ff1c00"/>
<rect x="632.0" y="114.1" width="13.0" height="5.6" fill="#ff1700"/>
<rect x="632.0" y="119.2" width="13.0" height="5.6" fill="#ff1100"/>
<rect x="632.0" y="124.4" width="13.0" height="5.6" fill="#ff0d00"/>
<rect x="632.0" y="129.5" width="13.0" height="10.7" fill="#ff0a00"/>
<rect x="632.0" y="139.8" width="13.0" height="5.6" fill="#fe0900"/>
<rect x="632.0" y="145.0" width="13.0" height="5.6" fill="#fd0800"/>
<rect x="632.0" y="150.1" width="13.0" height="5.6" fill="#fc0700"/>
<rect x="632.0" y="155.3" width="13.0" height="5.6" fill="#fb0600"/>
<rect x="632.0" y="160.4" width="13.0" height="5.6" fill="#fa0500"/>
<rect x="632.0" y="165.6" width="13.0" height="5.6" fill="#f90400"/>
<rect x="632.0" y="170.7" width="13.0" height="5.6" fill="#f80300"/>
<rect x="632.0" y="175.9" width="13.0" height="15.9" fill="#f70200"/>
<rect x="632.0" y="191.3" width="13.0" height="21.0" fill="#f60100"/>
<rect x="632.0" y="211.9" width="13.0" height="10.7" fill="#f50000"/>
<rect x="632.0" y="222.2" width="13.0" height="5.6" fill="#f40000"/>
<rect x="632.0" y="227.4" width="13.0" height="10.7" fill="#f60100"/>
<rect x="632.0" y="237.7" width="13.0" height="5.6" fill="#f70200"/>
<rect x="632.0" y="242.8" width="13.0" height="10.7" fill="#f80300"/>
<rect x="632.0" y="253.1" width="13.0" height="10.7" fill="#f90400"/>
<rect x="632.0" y="263.5" width="13.0" height="10.7" fill="#fa0500"/>
<rect x="632.0" y="273.8" width="13.0" height="5.6" fill="#fb0600"/>
<rect x="632.0" y="278.9" width="13.0" height="5.6" fill="#fc0700"/>
<rect x="632.0" y="284.1" width="13.0" height="5.6" fill="#fd0800"/>
<rect x="632.0" y="289.2" width="13.0" height="5.6" fill="#fe0900"/>
<rect x="632.0" y="294.4" width="13.0" height="5.6" fill="#ff0a00"/>
<rect x="632.0" y="299.5" width="13.0" height="5.6" fill="#ff1100"/>
<rect x="632.0" y="304.7" width="13.0" height="5.6" fill="#ff1900"/>
<rect x="632.0" y="309.8" width="13.0" height="5.6" fill="#ff2100"/>
<rect x="632.0" y="315.0" width="13.0" height="5.6" fill="#ff2900"/>
<rect x="632.0" y="320.1" width="13.0" height="5.6" fill="#ff3100"/>
<rect x="632.0" y="325.3" width="13.0" height="5.6" fill="#ff3a00"/>
<rect x="632.0" y="330.4" width="13.0" height="5.6" fill="#ff4300"/>
<rect x="632.0" y="335.6" width="13.0" height="5.6" fill="#ff4f00"/>
<rect x="632.0" y="340.7" width="13.0" height="5.6" fill="#ff5e00"/>
<rect x="632.0" y="345.9" width="13.0" height="5.6" fill="#ff6e00"/>
<rect x="632.0" y="351.0" width="13.0" height="5.6" fill="#ff7e00"/>
<rect x="632.0" y="356.2" width="13.0" height="5.6" fill="#ff9000"/>
<rect x="632.0" y="361.3" width="13.0" height="5.6" fill="#ffa000"/>
<rect x="632.0" y="366.5" width="13.0" height="5.6" fill="#ffb000"/>
<rect x="632.0" y="371.6" width="13.0" height="5.6" fill="#ffc200"/>
<rect x="632.0" y="376.8" width="13.0" height="5.6" fill="#ffce00"/>
<rect x="632.0" y="381.9" width="13.0" height="5.6" fill="#ffdc00"/>
<rect x="632.0" y="387.1" width="13.0" height="5.6" fill="#ffeb00"/>
<rect x="632.0" y="392.2" width="13.0" height="5.6" fill="#fffb00"/>
<rect x="632.0" y="397.4" width="13.0" height="31.3" fill="#ffff00"/>
<rect x="632.0" y="428.3" width="13.0" height="5.6" fill="#ffff07"/>
<rect x="632.0" y="433.4" width="13.0" height="5.6" fill="#ffff15"/>
<rect x="632.0" y="438.6" width="13.0" height="5.6" fill="#ffff1e"/>
<rect x="632.0" y="443.7" width="13.0" height="5.6" fill="#ffff29"/>
<rect x="632.0" y="448.9" width="13.0" height="5.6" fill="#ffff3b"/>
<rect x="632.0" y="454.0" width="13.0" height="5.6" fill="#ffff53"/>
<rect x="632.0" y="459.2" width="13.0" height="5.6" fill="#ffff6b"/>
<rect x="632.0" y="464.3" width="13.0" height="5.6" fill="#ffff90"/>
<rect x="632.0" y="469.5" width="13.0" height="5.6" fill="#ffffb1"/>
<rect x="632.0" y="474.6" width="13.0" height="5.6" fill="#ffffd0"/>
<rect x="632.0" y="479.8" width="13.0" height="5.6" fill="#fffff9"/>
<rect x="644.6" y="26.5" width="13.0" height="5.6" fill="#ff5c00"/>
<rect x="644.6" y="31.7" width="13.0" height="5.6" fill="#ff5800"/>
<rect x="644.6" y="36.8" width="13.0" height="5.6" fill="#ff5400"/>
<rect x="644.6" y="42.0" width="13.0" height="5.6" fill="#ff4f00"/>
<rect x="644.6" y="47.1" width="13.0" height="5.6" fill="#ff4a00"/>
<rect x="644.6" y="52.3" width="13.0" height="5.6" fill="#ff4400"/>
<rect x="644.6" y="57.4" width="13.0" height="5.6" fill="#ff3e00"/>
<rect x="644.6" y="62.6" width="13.0" height="5.6" fill="#ff3800"/>
<rect x="644.6" y="67.7" width="13.0" height="5.6" fill="#ff3200"/>
<rect x="644.6" y="72.9" width="13.0" height="5.6" fill="#ff2c00"/>
<rect x="644.6" y="78.0" width="13.0" height="5.6" fill="#ff2500"/>
<rect x="644.6" y="83.2" width="13.0" height="5.6" fill="#ff1e00"/>
<rect x="644.6" y="88.3" width="13.0" height="5.6" fill="#ff1700"/>
<rect x="644.6" y="93.5" width="13.0" height="5.6" fill="#ff1000"/>
<rect x="644.6" y="98.6" width="13.0" height="5.6" fill="#ff0c00"/>
<rect x="644.6" y="103.8" width="13.0" height="15.9" fill="#ff0a00"/>
<rect x="644.6" y="119.2" width="13.0" height="26.2" fill="#fe0900"/>
<rect x="644.6" y="145.0" width="13.0" height="5.6" fill="#fd0800"/>
<rect x="644.6" y="150.1" width="13.0" height="5.6" fill="#fc0700"/>
<rect x="644.6" y="155.3" width="13.0" height="5.6" fill="#fb0600"/>
<rect x="644.6" y="160.4" width="13.0" height="5.6" fill="#fa0500"/>
<rect x="644.6" y="165.6" width="13.0" height="5.6" fill="#f90400"/>
<rect x="644.6" y="170.7" width="13.0" height="5.6" fill="#f80300"/>
<rect x="644.6" y="175.9" width="13.0" height="21.0" fill="#f70200"/>
<rect x="644.6" y="196.5" width="13.0" height="15.9" fill="#f80300"/>
<rect x="644.6" y="211.9" width="13.0" height="10.7" fill="#f90400"/>
<rect x="644.6" y="222.2" width="13.0" height="5.6" fill="#fa0500"/>
<rect x="644.6" y="227.4" width="13.0" height="10.7" fill="#fb0600"/>
<rect x="644.6" y="237.7" width="13.0" height="15.9" fill="#fc0700"/>
<rect x="644.6" y="253.1" width="13.0" height="10.7" fill="#fd0800"/>
<rect x="644.6" y="263.5" width="13.0" height="5.6" fill="#fe0900"/>
<rect x="644.6" y="268.6" width="13.0" height="5.6" fill="#ff0a00"/>
<rect x="644.6" y="273.8" width="13.0" height="5.6" fill="#ff1000"/>
<rect x="644.6" y="278.9" width="13.0" height="5.6" fill="#ff1c00"/>
<rect x="644.6" y="284.1" width="13.0" height="5.6" fill="#ff2700"/>
<rect x="644.6" y="289.2" width="13.0" height="5.6" fill="#ff3200"/>
<rect x="644.6" y="294.4" width="13.0" height="5.6" fill="#ff3d00"/>
<rect x="644.6" y="299.5" width="13.0" height="5.6" fill="#ff4600"/>
<rect x="644.6" y="304.7" width="13.0" height="5.6" fill="#ff4e00"/>
<rect x="644.6" y="309.8" width="13.0" height="5.6" fill="#ff5700"/>
<rect x="644.6" y="315.0" width="13.0" height="5.6" fill="#ff6000"/>
<rect x="644.6" y="320.1" width="13.0" height="5.6" fill="#ff6a00"/>
<rect x="644.6" y="325.3" width="13.0" height="5.6" fill="#ff7400"/>
<rect x="644.6" y="330.4" width="13.0" height="5.6" fill="#ff7e00"/>
<rect x="644.6" y="335.6" width="13.0" height="5.6" fill="#ff8b00"/>
<rect x="644.6" y="340.7" width="13.0" height="5.6" fill="#ff9a00"/>
<rect x="644.6" y="345.9" width="13.0" height="5.6" fill="#ffa900"/>
<rect x="644.6" y="351.0" width="13.0" height="5.6" fill="#ffb800"/>
<rect x="644.6" y="356.2" width="13.0" height="5.6" fill="#ffc800"/>
<rect x="644.6" y="361.3" width="13.0" height="5.6" fill="#ffda00"/>
<rect x="644.6" y="366.5" width="13.0" height="5.6" fill="#ffee00"/>
<rect x="644.6" y="371.6" width="13.0" height="41.6" fill="#ffff00"/>
<rect x="644.6" y="412.8" width="13.0" height="5.6" fill="#ffff05"/>
<rect x="644.6" y="418.0" width="13.0" height="5.6" fill="#ffff0f"/>
<rect x="644.6" y="423.1" width="13.0" height="5.6" fill="#ffff19"/>
<rect x="644.6" y="428.3" width="13.0" height="5.6" fill="#ffff23"/>
<rect x="644.6" y="433.4" width="13.0" height="5.6" fill="#ffff2d"/>
<rect x="644.6" y="438.6" width="13.0" height="5.6" fill="#ffff3c"/>
<rect x="644.6" y="443.7" width="13.0" height="5.6" fill="#ffff51"/>
<rect x="644.6" y="448.9" width="13.0" height="5.6" fill="#ffff6a"/>
<rect x="644.6" y="454.0" width="13.0" height="5.6" fill="#ffff7c"/>
<rect x="644.6" y="459.2" width="13.0" height="5.6" fill="#ffff94"/>
<rect x="644.6" y="464.3" width="13.0" height="5.6" fill="#ffffb8"/>
<rect x="644.6" y="469.5" width="13.0" height="5.6" fill="#ffffd5"/>
<rect x="644.6" y="474.6" width="13.0" height="5.6" fill="#fffff3"/>
<rect x="657.2" y="26.5" width="13.0" height="5.6" fill="#ff4b00"/>
<rect x="657.2" y="31.7" width="13.0" height="5.6" fill="#ff4600"/>
<rect x="657.2" y="36.8" width="13.0" height="5.6" fill="#ff4000"/>
<rect x="657.2" y="42.0" width="13.0" height="5.6" fill="#ff3a00"/>
<rect x="657.2" y="47.1" width="13.0" height="5.6" fill="#ff3600"/>
<rect x="657.2" y="52.3" width="13.0" height="5.6" fill="#ff3200"/>
<rect x="657.2" y="57.4" width="13.0" height="5.6" fill="#ff2e00"/>
<rect x="657.2" y="62.6" width="13.0" height="5.6" fill="#ff2900"/>
<rect x="657.2" y="67.7" width="13.0" height="5.6" fill="#ff2500"/>
<rect x="657.2" y="72.9" width="13.0" height="5.6" fill="#ff2100"/>
<rect x="657.2" y="78.0" width="13.0" height="5.6" fill="#ff1d00"/>
<rect x="657.2" y="83.2" width="13.0" height="5.6" fill="#ff1900"/>
<rect x="657.2" y="88.3" width="13.0" height="5.6" fill="#ff1400"/>
<rect x="657.2" y="93.5" width="13.0" height="5.6" fill="#ff1000"/>
<rect x="657.2" y="98.6" width="13.0" height="5.6" fill="#ff0c00"/>
<rect x="657.2" y="103.8" width="13.0" height="10.7" fill="#ff0a00"/>
<rect x="657.2" y="114.1" width="13.0" height="21.0" fill="#fe0900"/>
<rect x="657.2" y="134.7" width="13.0" height="10.7" fill="#fd0800"/>
<rect x="657.2" y="145.0" width="13.0" height="26.2" fill="#fc0700"/>
<rect x="657.2" y="170.7" width="13.0" height="10.7" fill="#fb0600"/>
<rect x="657.2" y="181.0" width="13.0" height="15.9" fill="#fc0700"/>
<rect x="657.2" y="196.5" width="13.0" height="10.7" fill="#fd0800"/>
<rect x="657.2" y="206.8" width="13.0" height="5.6" fill="#fe0900"/>
<rect x="657.2" y="211.9" width="13.0" height="5.6" fill="#ff0a00"/>
<rect x="657.2" y="217.1" width="13.0" height="5.6" fill="#ff0b00"/>
<rect x="657.2" y="222.2" width="13.0" height="5.6" fill="#ff0d00"/>
<rect x="657.2" y="227.4" width="13.0" height="5.6" fill="#ff1000"/>
<rect x="657.2" y="232.5" width="13.0" height="5.6" fill="#ff1200"/>
<rect x="657.2" y="237.7" width="13.0" height="5.6" fill="#ff1400"/>
<rect x="657.2" y="242.8" width="13.0" height="5.6" fill="#ff1700"/>
<rect x="657.2" y="248.0" width="13.0" height="5.6" fill="#ff1900"/>
<rect x="657.2" y="253.1" width="13.0" height="5.6" fill="#ff1c00"/>
<rect x="657.2" y="258.3" width="13.0" height="5.6" fill="#ff2300"/>
<rect x="657.2" y="263.5" width="13.0" height="5.6" fill="#ff2e00"/>
<rect x="657.2" y="268.6" width="13.0" height="5.6" fill="#ff3a00"/>
<rect x="657.2" y="273.8" width="13.0" height="5.6" fill="#ff4500"/>
<rect x="657.2" y="278.9" width="13.0" height="5.6" fill="#ff5000"/>
<rect x="657.2" y="284.1" width="13.0" height="5.6" fill="#ff5b00"/>
<rect x="657.2" y="289.2" width="13.0" height="5.6" fill="#ff6600"/>
<rect x="657.2" y="294.4" width="13.0" height="5.6" fill="#ff7100"/>
<rect x="657.2" y="299.5" width="13.0" height="5.6" fill="#ff7a00"/>
<rect x="657.2" y="304.7" width="13.0" height="5.6" fill="#ff8400"/>
<rect x="657.2" y="309.8" width="13.0" height="5.6" fill="#ff8e00"/>
<rect x="657.2" y="315.0" width="13.0" height="5.6" fill="#ff9700"/>
<rect x="657.2" y="320.1" width="13.0" height="5.6" fill="#ff9f00"/>
<rect x="657.2" y="325.3" width="13.0" height="5.6" fill="#ffa800"/>
<rect x="657.2" y="330.4" width="13.0" height="5.6" fill="#ffb100"/>
<rect x="657.2" y="335.6" width="13.0" height="5.6" fill="#ffbe00"/>
<rect x="657.2" y="340.7" width="13.0" height="5.6" fill="#ffcd00"/>
<rect x="657.2" y="345.9" width="13.0" height="5.6" fill="#ffde00"/>
<rect x="657.2" y="351.0" width="13.0" height="5.6" fill="#fff000"/>
<rect x="657.2" y="356.2" width="13.0" height="15.9" fill="#ffff00"/>
<rect x="657.2" y="371.6" width="13.0" height="5.6" fill="#ffff05"/>
<rect x="657.2" y="376.8" width="13.0" height="5.6" fill="#ffff07"/>
<rect x="657.2" y="381.9" width="13.0" height="5.6" fill="#ffff08"/>
<rect x="657.2" y="387.1" width="13.0" height="5.6" fill="#ffff0b"/>
<rect x="657.2" y="392.2" width="13.0" height="5.6" fill="#ffff0d"/>
<rect x="657.2" y="397.4" width="13.0" height="5.6" fill="#ffff10"/>
<rect x="657.2" y="402.5" width="13.0" height="5.6" fill="#ffff13"/>
<rect x="657.2" y="407.7" width="13.0" height="5.6" fill="#ffff17"/>
<rect x="657.2" y="412.8" width="13.0" height="5.6" fill="#ffff1e"/>
<rect x="657.2" y="418.0" width="13.0" height="5.6" fill="#ffff28"/>
<rect x="657.2" y="423.1" width="13.0" height="5.6" fill="#ffff32"/>
<rect x="657.2" y="428.3" width="13.0" height="5.6" fill="#ffff42"/>
<rect x="657.2" y="433.4" width="13.0" height="5.6" fill="#ffff52"/>
<rect x="657.2" y="438.6" width="13.0" height="5.6" fill="#ffff67"/>
<rect x="657.2" y="443.7" width="13.0" height="5.6" fill="#ffff7f"/>
<rect x="657.2" y="448.9" width="13.0" height="5.6" fill="#ffff94"/>
<rect x="657.2" y="454.0" width="13.0" height="5.6" fill="#ffffa3"/>
<rect x="657.2" y="459.2" width="13.0" height="5.6" fill="#ffffbc"/>
<rect x="657.2" y="464.3" width="13.0" height="5.6" fill="#ffffdf"/>
<rect x="657.2" y="469.5" width="13.0" height="5.6" fill="#fffff9"/>
<rect x="669.8" y="26.5" width="13.0" height="5.6" fill="#ff4700"/>
<rect x="669.8" y="31.7" width="13.0" height="5.6" fill="#ff4300"/>
<rect x="669.8" y="36.8" width="13.0" height="5.6" fill="#ff3e00"/>
<rect x="669.8" y="42.0" width="13.0" height="5.6" fill="#ff3a00"/>
<rect x="669.8" y="47.1" width="13.0" height="5.6" fill="#ff3600"/>
<rect x="669.8" y="52.3" width="13.0" height="5.6" fill="#ff3200"/>
<rect x="669.8" y="57.4" width="13.0" height="5.6" fill="#ff2e00"/>
<rect x="669.8" y="62.6" width="13.0" height="5.6" fill="#ff2900"/>
<rect x="669.8" y="67.7" width="13.0" height="5.6" fill="#ff2500"/>
<rect x="669.8" y="72.9" width="13.0" height="10.7" fill="#ff2300"/>
<rect x="669.8" y="83.2" width="13.0" height="5.6" fill="#ff2400"/>
<rect x="669.8" y="88.3" width="13.0" height="5.6" fill="#ff2500"/>
<rect x="669.8" y="93.5" width="13.0" height="5.6" fill="#ff2600"/>
<rect x="669.8" y="98.6" width="13.0" height="5.6" fill="#ff2800"/>
<rect x="669.8" y="103.8" width="13.0" height="5.6" fill="#ff2700"/>
<rect x="669.8" y="108.9" width="13.0" height="5.6" fill="#ff2500"/>
<rect x="669.8" y="114.1" width="13.0" height="5.6" fill="#ff2200"/>
<rect x="669.8" y="119.2" width="13.0" height="5.6" fill="#ff2000"/>
<rect x="669.8" y="124.4" width="13.0" height="5.6" fill="#ff1e00"/>
<rect x="669.8" y="129.5" width="13.0" height="5.6" fill="#ff1c00"/>
<rect x="669.8" y="134.7" width="13.0" height="5.6" fill="#ff1b00"/>
<rect x="669.8" y="139.8" width="13.0" height="5.6" fill="#ff1900"/>
<rect x="669.8" y="145.0" width="13.0" height="10.7" fill="#ff1800"/>
<rect x="669.8" y="155.3" width="13.0" height="5.6" fill="#ff1700"/>
<rect x="669.8" y="160.4" width="13.0" height="5.6" fill="#ff1600"/>
<rect x="669.8" y="165.6" width="13.0" height="5.6" fill="#ff1500"/>
<rect x="669.8" y="170.7" width="13.0" height="5.6" fill="#ff1300"/>
<rect x="669.8" y="175.9" width="13.0" height="5.6" fill="#ff1200"/>
<rect x="669.8" y="181.0" width="13.0" height="5.6" fill="#ff1400"/>
<rect x="669.8" y="186.2" width="13.0" height="5.6" fill="#ff1900"/>
<rect x="669.8" y="191.3" width="13.0" height="5.6" fill="#ff1d00"/>
<rect x="669.8" y="196.5" width="13.0" height="5.6" fill="#ff2200"/>
<rect x="669.8" y="201.6" width="13.0" height="5.6" fill="#ff2800"/>
<rect x="669.8" y="206.8" width="13.0" height="5.6" fill="#ff2d00"/>
<rect x="669.8" y="211.9" width="13.0" height="5.6" fill="#ff3300"/>
<rect x="669.8" y="217.1" width="13.0" height="5.6" fill="#ff3a00"/>
<rect x="669.8" y="222.2" width="13.0" height="5.6" fill="#ff3d00"/>
<rect x="669.8" y="227.4" width="13.0" height="5.6" fill="#ff4000"/>
<rect x="669.8" y="232.5" width="13.0" height="5.6" fill="#ff4300"/>
<rect x="669.8" y="237.7" width="13.0" height="5.6" fill="#ff4600"/>
<rect x="669.8" y="242.8" width="13.0" height="5.6" fill="#ff4900"/>
<rect x="669.8" y="248.0" width="13.0" height="5.6" fill="#ff4d00"/>
<rect x="669.8" y="253.1" width="13.0" height="5.6" fill="#ff5100"/>
<rect x="669.8" y="258.3" width="13.0" height="5.6" fill="#ff5800"/>
<rect x="669.8" y="263.5" width="13.0" height="5.6" fill="#ff6300"/>
<rect x="669.8" y="268.6" width="13.0" height="5.6" fill="#ff6f00"/>
<rect x="669.8" y="273.8" width="13.0" height="5.6" fill="#ff7a00"/>
<rect x="669.8" y="278.9" width="13.0" height="5.6" fill="#ff8500"/>
<rect x="669.8" y="284.1" width="13.0" height="5.6" fill="#ff9000"/>
<rect x="669.8" y="289.2" width="13.0" height="5.6" fill="#ff9900"/>
<rect x="669.8" y="294.4" width="13.0" height="5.6" fill="#ffa000"/>
<rect x="669.8" y="299.5" width="13.0" height="5.6" fill="#ffa700"/>
<rect x="669.8" y="304.7" width="13.0" height="5.6" fill="#ffaf00"/>
<rect x="669.8" y="309.8" width="13.0" height="5.6" fill="#ffb700"/>
<rect x="669.8" y="315.0" width="13.0" height="5.6" fill="#ffc000"/>
<rect x="669.8" y="320.1" width="13.0" height="5.6" fill="#ffca00"/>
<rect x="669.8" y="325.3" width="13.0" height="5.6" fill="#ffd600"/>
<rect x="669.8" y="330.4" width="13.0" height="5.6" fill="#ffe300"/>
<rect x="669.8" y="335.6" width="13.0" height="5.6" fill="#fff200"/>
<rect x="669.8" y="340.7" width="13.0" height="26.2" fill="#ffff00"/>
<rect x="669.8" y="366.5" width="13.0" height="5.6" fill="#ffff07"/>
<rect x="669.8" y="371.6" width="13.0" height="5.6" fill="#ffff13"/>
<rect x="669.8" y="376.8" width="13.0" height="5.6" fill="#ffff15"/>
<rect x="669.8" y="381.9" width="13.0" height="5.6" fill="#ffff19"/>
<rect x="669.8" y="387.1" width="13.0" height="5.6" fill="#ffff1c"/>
<rect x="669.8" y="392.2" width="13.0" height="5.6" fill="#ffff20"/>
<rect x="669.8" y="397.4" width="13.0" height="5.6" fill="#ffff25"/>
<rect x="669.8" y="402.5" width="13.0" height="5.6" fill="#ffff2a"/>
<rect x="669.8" y="407.7" width="13.0" height="5.6" fill="#ffff2f"/>
<rect x="669.8" y="412.8" width="13.0" height="5.6" fill="#ffff3a"/>
<rect x="669.8" y="418.0" width="13.0" height="5.6" fill="#ffff4a"/>
<rect x="669.8" y="423.1" width="13.0" height="5.6" fill="#ffff5a"/>
<rect x="669.8" y="428.3" width="13.0" height="5.6" fill="#ffff6a"/>
<rect x="669.8" y="433.4" width="13.0" height="5.6" fill="#ffff7a"/>
<rect x="669.8" y="438.6" width="13.0" height="5.6" fill="#ffff8f"/>
<rect x="669.8" y="443.7" width="13.0" height="5.6" fill="#ffffa2"/>
<rect x="669.8" y="448.9" width="13.0" height="5.6" fill="#ffffb7"/>
<rect x="669.8" y="454.0" width="13.0" height="5.6" fill="#ffffc9"/>
<rect x="669.8" y="459.2" width="13.0" height="5.6" fill="#ffffe2"/>
<rect x="669.8" y="464.3" width="13.0" height="5.6" fill="#fffffd"/>
<rect x="682.4" y="26.5" width="13.0" height="5.6" fill="#ff4700"/>
<rect x="682.4" y="31.7" width="13.0" height="5.6" fill="#ff4300"/>
<rect x="682.4" y="36.8" width="13.0" height="5.6" fill="#ff3f00"/>
<rect x="682.4" y="42.0" width="13.0" height="15.9" fill="#ff3e00"/>
<rect x="682.4" y="57.4" width="13.0" height="10.7" fill="#ff3f00"/>
<rect x="682.4" y="67.7" width="13.0" height="5.6" fill="#ff4000"/>
<rect x="682.4" y="72.9" width="13.0" height="5.6" fill="#ff4100"/>
<rect x="682.4" y="78.0" width="13.0" height="5.6" fill="#ff4300"/>
<rect x="682.4" y="83.2" width="13.0" height="10.7" fill="#ff4400"/>
<rect x="682.4" y="93.5" width="13.0" height="5.6" fill="#ff4500"/>
<rect x="682.4" y="98.6" width="13.0" height="5.6" fill="#ff4600"/>
<rect x="682.4" y="103.8" width="13.0" height="5.6" fill="#ff4500"/>
<rect x="682.4" y="108.9" width="13.0" height="5.6" fill="#ff4300"/>
<rect x="682.4" y="114.1" width="13.0" height="5.6" fill="#ff4100"/>
<rect x="682.4" y="119.2" width="13.0" height="5.6" fill="#ff4000"/>
<rect x="682.4" y="124.4" width="13.0" height="5.6" fill="#ff3e00"/>
<rect x="682.4" y="129.5" width="13.0" height="5.6" fill="#ff3d00"/>
<rect x="682.4" y="134.7" width="13.0" height="5.6" fill="#ff3c00"/>
<rect x="682.4" y="139.8" width="13.0" height="10.7" fill="#ff3a00"/>
<rect x="682.4" y="150.1" width="13.0" height="10.7" fill="#ff3900"/>
<rect x="682.4" y="160.4" width="13.0" height="10.7" fill="#ff3800"/>
<rect x="682.4" y="170.7" width="13.0" height="10.7" fill="#ff3700"/>
<rect x="682.4" y="181.0" width="13.0" height="5.6" fill="#ff3a00"/>
<rect x="682.4" y="186.2" width="13.0" height="5.6" fill="#ff3f00"/>
<rect x="682.4" y="191.3" width="13.0" height="5.6" fill="#ff4500"/>
<rect x="682.4" y="196.5" width="13.0" height="5.6" fill="#ff4b00"/>
<rect x="682.4" y="201.6" width="13.0" height="5.6" fill="#ff5200"/>
<rect x="682.4" y="206.8" width="13.0" height="5.6" fill="#ff5900"/>
<rect x="682.4" y="211.9" width="13.0" height="5.6" fill="#ff6000"/>
<rect x="682.4" y="217.1" width="13.0" height="5.6" fill="#ff6800"/>
<rect x="682.4" y="222.2" width="13.0" height="5.6" fill="#ff6c00"/>
<rect x="682.4" y="227.4" width="13.0" height="5.6" fill="#ff7000"/>
<rect x="682.4" y="232.5" width="13.0" height="5.6" fill="#ff7400"/>
<rect x="682.4" y="237.7" width="13.0" height="5.6" fill="#ff7800"/>
<rect x="682.4" y="242.8" width="13.0" height="5.6" fill="#ff7c00"/>
<rect x="682.4" y="248.0" width="13.0" height="5.6" fill="#ff8100"/>
<rect x="682.4" y="253.1" width="13.0" height="5.6" fill="#ff8600"/>
<rect x="682.4" y="258.3" width="13.0" height="5.6" fill="#ff8e00"/>
<rect x="682.4" y="263.5" width="13.0" height="5.6" fill="#ff9800"/>
<rect x="682.4" y="268.6" width="13.0" height="5.6" fill="#ff9f00"/>
<rect x="682.4" y="273.8" width="13.0" height="5.6" fill="#ffa600"/>
<rect x="682.4" y="278.9" width="13.0" height="5.6" fill="#ffad00"/>
<rect x="682.4" y="284.1" width="13.0" height="5.6" fill="#ffb400"/>
<rect x="682.4" y="289.2" width="13.0" height="5.6" fill="#ffbb00"/>
<rect x="682.4" y="294.4" width="13.0" height="5.6" fill="#ffc300"/>
<rect x="682.4" y="299.5" width="13.0" height="5.6" fill="#ffcc00"/>
<rect x="682.4" y="304.7" width="13.0" height="5.6" fill="#ffd600"/>
<rect x="682.4" y="309.8" width="13.0" height="5.6" fill="#ffe000"/>
<rect x="682.4" y="315.0" width="13.0" height="5.6" fill="#ffec00"/>
<rect x="682.4" y="320.1" width="13.0" height="5.6" fill="#fff900"/>
<rect x="682.4" y="325.3" width="13.0" height="36.5" fill="#ffff00"/>
<rect x="682.4" y="361.3" width="13.0" height="5.6" fill="#ffff09"/>
<rect x="682.4" y="366.5" width="13.0" height="5.6" fill="#ffff14"/>
<rect x="682.4" y="371.6" width="13.0" height="5.6" fill="#ffff20"/>
<rect x="682.4" y="376.8" width="13.0" height="5.6" fill="#ffff24"/>
<rect x="682.4" y="381.9" width="13.0" height="5.6" fill="#ffff29"/>
<rect x="682.4" y="387.1" width="13.0" height="5.6" fill="#ffff2e"/>
<rect x="682.4" y="392.2" width="13.0" height="5.6" fill="#ffff35"/>
<rect x="682.4" y="397.4" width="13.0" height="5.6" fill="#ffff3f"/>
<rect x="682.4" y="402.5" width="13.0" height="5.6" fill="#ffff49"/>
<rect x="682.4" y="407.7" width="13.0" height="5.6" fill="#ffff54"/>
<rect x="682.4" y="412.8" width="13.0" height="5.6" fill="#ffff61"/>
<rect x="682.4" y="418.0" width="13.0" height="5.6" fill="#ffff71"/>
<rect x="682.4" y="423.1" width="13.0" height="5.6" fill="#ffff81"/>
<rect x="682.4" y="428.3" width="13.0" height="5.6" fill="#ffff8f"/>
<rect x="682.4" y="433.4" width="13.0" height="5.6" fill="#ffff9d"/>
<rect x="682.4" y="438.6" width="13.0" height="5.6" fill="#ffffab"/>
<rect x="682.4" y="443.7" width="13.0" height="5.6" fill="#ffffc0"/>
<rect x="682.4" y="448.9" width="13.0" height="5.6" fill="#ffffd9"/>
<rect x="682.4" y="454.0" width="13.0" height="5.6" fill="#ffffef"/>
<rect x="682.4" y="459.2" width="13.0" height="5.6" fill="#fffffa"/>
<rect x="682.4" y="464.3" width="13.0" height="5.6" fill="#fffffd"/>
<rect x="695.0" y="26.5" width="13.0" height="10.7" fill="#ff5400"/>
<rect x="695.0" y="36.8" width="13.0" height="5.6" fill="#ff5500"/>
<rect x="695.0" y="42.0" width="13.0" height="10.7" fill="#ff5600"/>
<rect x="695.0" y="52.3" width="13.0" height="10.7" fill="#ff5700"/>
<rect x="695.0" y="62.6" width="13.0" height="5.6" fill="#ff5800"/>
<rect x="695.0" y="67.7" width="13.0" height="10.7" fill="#ff5900"/>
<rect x="695.0" y="78.0" width="13.0" height="5.6" fill="#ff5a00"/>
<rect x="695.0" y="83.2" width="13.0" height="5.6" fill="#ff5b00"/>
<rect x="695.0" y="88.3" width="13.0" height="10.7" fill="#ff5c00"/>
<rect x="695.0" y="98.6" width="13.0" height="10.7" fill="#ff5d00"/>
<rect x="695.0" y="108.9" width="13.0" height="5.6" fill="#ff5c00"/>
<rect x="695.0" y="114.1" width="13.0" height="10.7" fill="#ff5b00"/>
<rect x="695.0" y="124.4" width="13.0" height="10.7" fill="#ff5a00"/>
<rect x="695.0" y="134.7" width="13.0" height="10.7" fill="#ff5900"/>
<rect x="695.0" y="145.0" width="13.0" height="21.0" fill="#ff5a00"/>
<rect x="695.0" y="165.6" width="13.0" height="10.7" fill="#ff5b00"/>
<rect x="695.0" y="175.9" width="13.0" height="5.6" fill="#ff5c00"/>
<rect x="695.0" y="181.0" width="13.0" height="5.6" fill="#ff6000"/>
<rect x="695.0" y="186.2" width="13.0" height="5.6" fill="#ff6600"/>
<rect x="695.0" y="191.3" width="13.0" height="5.6" fill="#ff6d00"/>
<rect x="695.0" y="196.5" width="13.0" height="5.6" fill="#ff7400"/>
<rect x="695.0" y="201.6" width="13.0" height="5.6" fill="#ff7c00"/>
<rect x="695.0" y="206.8" width="13.0" height="5.6" fill="#ff8400"/>
<rect x="695.0" y="211.9" width="13.0" height="5.6" fill="#ff8d00"/>
<rect x="695.0" y="217.1" width="13.0" height="5.6" fill="#ff9600"/>
<rect x="695.0" y="222.2" width="13.0" height="5.6" fill="#ff9900"/>
<rect x="695.0" y="227.4" width="13.0" height="5.6" fill="#ff9c00"/>
<rect x="695.0" y="232.5" width="13.0" height="5.6" fill="#ff9f00"/>
<rect x="695.0" y="237.7" width="13.0" height="5.6" fill="#ffa200"/>
<rect x="695.0" y="242.8" width="13.0" height="5.6" fill="#ffa600"/>
<rect x="695.0" y="248.0" width="13.0" height="5.6" fill="#ffa900"/>
<rect x="695.0" y="253.1" width="13.0" height="5.6" fill="#ffac00"/>
<rect x="695.0" y="258.3" width="13.0" height="5.6" fill="#ffb200"/>
<rect x="695.0" y="263.5" width="13.0" height="5.6" fill="#ffb900"/>
<rect x="695.0" y="268.6" width="13.0" height="5.6" fill="#ffc000"/>
<rect x="695.0" y="273.8" width="13.0" height="5.6" fill="#ffc700"/>
<rect x="695.0" y="278.9" width="13.0" height="5.6" fill="#ffcf00"/>
<rect x="695.0" y="284.1" width="13.0" height="5.6" fill="#ffd800"/>
<rect x="695.0" y="289.2" width="13.0" height="5.6" fill="#ffe000"/>
<rect x="695.0" y="294.4" width="13.0" height="5.6" fill="#ffe900"/>
<rect x="695.0" y="299.5" width="13.0" height="5.6" fill="#fff300"/>
<rect x="695.0" y="304.7" width="13.0" height="5.6" fill="#fffd00"/>
<rect x="695.0" y="309.8" width="13.0" height="46.8" fill="#ffff00"/>
<rect x="695.0" y="356.2" width="13.0" height="5.6" fill="#ffff09"/>
<rect x="695.0" y="361.3" width="13.0" height="5.6" fill="#ffff15"/>
<rect x="695.0" y="366.5" width="13.0" height="5.6" fill="#ffff21"/>
<rect x="695.0" y="371.6" width="13.0" height="5.6" fill="#ffff2d"/>
<rect x="695.0" y="376.8" width="13.0" height="5.6" fill="#ffff33"/>
<rect x="695.0" y="381.9" width="13.0" height="5.6" fill="#ffff3c"/>
<rect x="695.0" y="387.1" width="13.0" height="5.6" fill="#ffff45"/>
<rect x="695.0" y="392.2" width="13.0" height="5.6" fill="#ffff4e"/>
<rect x="695.0" y="397.4" width="13.0" height="5.6" fill="#ffff57"/>
<rect x="695.0" y="402.5" width="13.0" height="5.6" fill="#ffff60"/>
<rect x="695.0" y="407.7" width="13.0" height="5.6" fill="#ffff68"/>
<rect x="695.0" y="412.8" width="13.0" height="5.6" fill="#ffff75"/>
<rect x="695.0" y="418.0" width="13.0" height="5.6" fill="#ffff85"/>
<rect x="695.0" y="423.1" width="13.0" height="5.6" fill="#ffff94"/>
<rect x="695.0" y="428.3" width="13.0" height="5.6" fill="#ffffa3"/>
<rect x="695.0" y="433.4" width="13.0" height="5.6" fill="#ffffb3"/>
<rect x="695.0" y="438.6" width="13.0" height="5.6" fill="#ffffc5"/>
<rect x="695.0" y="443.7" width="13.0" height="5.6" fill="#ffffdd"/>
<rect x="695.0" y="448.9" width="13.0" height="10.7" fill="#fffff8"/>
<rect x="695.0" y="459.2" width="13.0" height="5.6" fill="#fffffa"/>
<rect x="695.0" y="464.3" width="13.0" height="5.6" fill="#fffffd"/>
<rect x="707.6" y="26.5" width="13.0" height="5.6" fill="#ff6a00"/>
<rect x="707.6" y="31.7" width="13.0" height="5.6" fill="#ff6b00"/>
<rect x="707.6" y="36.8" width="13.0" height="10.7" fill="#ff6c00"/>
<rect x="707.6" y="47.1" width="13.0" height="5.6" fill="#ff6d00"/>
<rect x="707.6" y="52.3" width="13.0" height="10.7" fill="#ff6e00"/>
<rect x="707.6" y="62.6" width="13.0" height="5.6" fill="#ff6f00"/>
<rect x="707.6" y="67.7" width="13.0" height="5.6" fill="#ff7000"/>
<rect x="707.6" y="72.9" width="13.0" height="10.7" fill="#ff7100"/>
<rect x="707.6" y="83.2" width="13.0" height="5.6" fill="#ff7200"/>
<rect x="707.6" y="88.3" width="13.0" height="10.7" fill="#ff7300"/>
<rect x="707.6" y="98.6" width="13.0" height="10.7" fill="#ff7400"/>
<rect x="707.6" y="108.9" width="13.0" height="15.9" fill="#ff7500"/>
<rect x="707.6" y="124.4" width="13.0" height="5.6" fill="#ff7600"/>
<rect x="707.6" y="129.5" width="13.0" height="10.7" fill="#ff7700"/>
<rect x="707.6" y="139.8" width="13.0" height="5.6" fill="#ff7800"/>
<rect x="707.6" y="145.0" width="13.0" height="5.6" fill="#ff7900"/>
<rect x="707.6" y="150.1" width="13.0" height="5.6" fill="#ff7a00"/>
<rect x="707.6" y="155.3" width="13.0" height="5.6" fill="#ff7b00"/>
<rect x="707.6" y="160.4" width="13.0" height="5.6" fill="#ff7d00"/>
<rect x="707.6" y="165.6" width="13.0" height="5.6" fill="#ff7e00"/>
<rect x="707.6" y="170.7" width="13.0" height="5.6" fill="#ff7f00"/>
<rect x="707.6" y="175.9" width="13.0" height="5.6" fill="#ff8100"/>
<rect x="707.6" y="181.0" width="13.0" height="5.6" fill="#ff8500"/>
<rect x="707.6" y="186.2" width="13.0" height="5.6" fill="#ff8d00"/>
<rect x="707.6" y="191.3" width="13.0" height="5.6" fill="#ff9500"/>
<rect x="707.6" y="196.5" width="13.0" height="5.6" fill="#ff9b00"/>
<rect x="707.6" y="201.6" width="13.0" height="5.6" fill="#ffa100"/>
<rect x="707.6" y="206.8" width="13.0" height="5.6" fill="#ffa700"/>
<rect x="707.6" y="211.9" width="13.0" height="5.6" fill="#ffad00"/>
<rect x="707.6" y="217.1" width="13.0" height="5.6" fill="#ffb400"/>
<rect x="707.6" y="222.2" width="13.0" height="5.6" fill="#ffb700"/>
<rect x="707.6" y="227.4" width="13.0" height="5.6" fill="#ffbb00"/>
<rect x="707.6" y="232.5" width="13.0" height="5.6" fill="#ffbe00"/>
<rect x="707.6" y="237.7" width="13.0" height="5.6" fill="#ffc100"/>
<rect x="707.6" y="242.8" width="13.0" height="5.6" fill="#ffc500"/>
<rect x="707.6" y="248.0" width="13.0" height="5.6" fill="#ffc900"/>
<rect x="707.6" y="253.1" width="13.0" height="5.6" fill="#ffcd00"/>
<rect x="707.6" y="258.3" width="13.0" height="5.6" fill="#ffd300"/>
<rect x="707.6" y="263.5" width="13.0" height="5.6" fill="#ffdb00"/>
<rect x="707.6" y="268.6" width="13.0" height="5.6" fill="#ffe400"/>
<rect x="707.6" y="273.8" width="13.0" height="5.6" fill="#ffec00"/>
<rect x="707.6" y="278.9" width="13.0" height="5.6" fill="#fff400"/>
<rect x="707.6" y="284.1" width="13.0" height="5.6" fill="#fffb00"/>
<rect x="707.6" y="289.2" width="13.0" height="62.2" fill="#ffff00"/>
<rect x="707.6" y="351.0" width="13.0" height="5.6" fill="#ffff09"/>
<rect x="707.6" y="356.2" width="13.0" height="5.6" fill="#ffff15"/>
<rect x="707.6" y="361.3" width="13.0" height="5.6" fill="#ffff21"/>
<rect x="707.6" y="366.5" width="13.0" height="5.6" fill="#ffff2d"/>
<rect x="707.6" y="371.6" width="13.0" height="5.6" fill="#ffff3e"/>
<rect x="707.6" y="376.8" width="13.0" height="5.6" fill="#ffff47"/>
<rect x="707.6" y="381.9" width="13.0" height="5.6" fill="#ffff4f"/>
<rect x="707.6" y="387.1" width="13.0" height="5.6" fill="#ffff58"/>
<rect x="707.6" y="392.2" width="13.0" height="5.6" fill="#ffff61"/>
<rect x="707.6" y="397.4" width="13.0" height="5.6" fill="#ffff6a"/>
<rect x="707.6" y="402.5" width="13.0" height="5.6" fill="#ffff73"/>
<rect x="707.6" y="407.7" width="13.0" height="5.6" fill="#ffff7c"/>
<rect x="707.6" y="412.8" width="13.0" height="5.6" fill="#ffff88"/>
<rect x="707.6" y="418.0" width="13.0" height="5.6" fill="#ffff97"/>
<rect x="707.6" y="423.1" width="13.0" height="5.6" fill="#ffffa7"/>
<rect x="707.6" y="428.3" width="13.0" height="5.6" fill="#ffffb7"/>
<rect x="707.6" y="433.4" width="13.0" height="5.6" fill="#ffffc9"/>
<rect x="707.6" y="438.6" width="13.0" height="5.6" fill="#ffffdd"/>
<rect x="707.6" y="443.7" width="13.0" height="5.6" fill="#fffff6"/>
<rect x="707.6" y="448.9" width="13.0" height="10.7" fill="#fffff8"/>
<rect x="707.6" y="459.2" width="13.0" height="5.6" fill="#fffffa"/>
<rect x="707.6" y="464.3" width="13.0" height="5.6" fill="#fffffd"/>
<rect x="720.2" y="26.5" width="13.0" height="5.6" fill="#ff8100"/>
<rect x="720.2" y="31.7" width="13.0" height="5.6" fill="#ff8200"/>
<rect x="720.2" y="36.8" width="13.0" height="10.7" fill="#ff8300"/>
<rect x="720.2" y="47.1" width="13.0" height="5.6" fill="#ff8400"/>
<rect x="720.2" y="52.3" width="13.0" height="10.7" fill="#ff8500"/>
<rect x="720.2" y="62.6" width="13.0" height="5.6" fill="#ff8600"/>
<rect x="720.2" y="67.7" width="13.0" height="5.6" fill="#ff8700"/>
<rect x="720.2" y="72.9" width="13.0" height="10.7" fill="#ff8800"/>
<rect x="720.2" y="83.2" width="13.0" height="5.6" fill="#ff8900"/>
<rect x="720.2" y="88.3" width="13.0" height="5.6" fill="#ff8a00"/>
<rect x="720.2" y="93.5" width="13.0" height="10.7" fill="#ff8b00"/>
<rect x="720.2" y="103.8" width="13.0" height="5.6" fill="#ff8c00"/>
<rect x="720.2" y="108.9" width="13.0" height="5.6" fill="#ff8d00"/>
<rect x="720.2" y="114.1" width="13.0" height="5.6" fill="#ff8f00"/>
<rect x="720.2" y="119.2" width="13.0" height="5.6" fill="#ff9000"/>
<rect x="720.2" y="124.4" width="13.0" height="5.6" fill="#ff9200"/>
<rect x="720.2" y="129.5" width="13.0" height="5.6" fill="#ff9300"/>
<rect x="720.2" y="134.7" width="13.0" height="5.6" fill="#ff9500"/>
<rect x="720.2" y="139.8" width="13.0" height="5.6" fill="#ff9700"/>
<rect x="720.2" y="145.0" width="13.0" height="5.6" fill="#ff9900"/>
<rect x="720.2" y="150.1" width="13.0" height="5.6" fill="#ff9a00"/>
<rect x="720.2" y="155.3" width="13.0" height="5.6" fill="#ff9c00"/>
<rect x="720.2" y="160.4" width="13.0" height="5.6" fill="#ff9d00"/>
<rect x="720.2" y="165.6" width="13.0" height="5.6" fill="#ff9f00"/>
<rect x="720.2" y="170.7" width="13.0" height="5.6" fill="#ffa000"/>
<rect x="720.2" y="175.9" width="13.0" height="5.6" fill="#ffa200"/>
<rect x="720.2" y="181.0" width="13.0" height="5.6" fill="#ffa500"/>
<rect x="720.2" y="186.2" width="13.0" height="5.6" fill="#ffab00"/>
<rect x="720.2" y="191.3" width="13.0" height="5.6" fill="#ffb100"/>
<rect x="720.2" y="196.5" width="13.0" height="5.6" fill="#ffb700"/>
<rect x="720.2" y="201.6" width="13.0" height="5.6" fill="#ffbe00"/>
<rect x="720.2" y="206.8" width="13.0" height="5.6" fill="#ffc400"/>
<rect x="720.2" y="211.9" width="13.0" height="5.6" fill="#ffcb00"/>
<rect x="720.2" y="217.1" width="13.0" height="5.6" fill="#ffd300"/>
<rect x="720.2" y="222.2" width="13.0" height="5.6" fill="#ffd700"/>
<rect x="720.2" y="227.4" width="13.0" height="5.6" fill="#ffdb00"/>
<rect x="720.2" y="232.5" width="13.0" height="5.6" fill="#ffdf00"/>
<rect x="720.2" y="237.7" width="13.0" height="5.6" fill="#ffe300"/>
<rect x="720.2" y="242.8" width="13.0" height="5.6" fill="#ffe700"/>
<rect x="720.2" y="248.0" width="13.0" height="5.6" fill="#ffec00"/>
<rect x="720.2" y="253.1" width="13.0" height="5.6" fill="#fff000"/>
<rect x="720.2" y="258.3" width="13.0" height="5.6" fill="#fff600"/>
<rect x="720.2" y="263.5" width="13.0" height="5.6" fill="#fffc00"/>
<rect x="720.2" y="268.6" width="13.0" height="77.7" fill="#ffff00"/>
<rect x="720.2" y="345.9" width="13.0" height="5.6" fill="#ffff09"/>
<rect x="720.2" y="351.0" width="13.0" height="5.6" fill="#ffff15"/>
<rect x="720.2" y="356.2" width="13.0" height="5.6" fill="#ffff21"/>
<rect x="720.2" y="361.3" width="13.0" height="5.6" fill="#ffff2d"/>
<rect x="720.2" y="366.5" width="13.0" height="5.6" fill="#ffff3d"/>
<rect x="720.2" y="371.6" width="13.0" height="5.6" fill="#ffff51"/>
<rect x="720.2" y="376.8" width="13.0" height="5.6" fill="#ffff5a"/>
<rect x="720.2" y="381.9" width="13.0" height="5.6" fill="#ffff63"/>
<rect x="720.2" y="387.1" width="13.0" height="5.6" fill="#ffff6c"/>
<rect x="720.2" y="392.2" width="13.0" height="5.6" fill="#ffff75"/>
<rect x="720.2" y="397.4" width="13.0" height="5.6" fill="#ffff7d"/>
<rect x="720.2" y="402.5" width="13.0" height="5.6" fill="#ffff86"/>
<rect x="720.2" y="407.7" width="13.0" height="5.6" fill="#ffff8d"/>
<rect x="720.2" y="412.8" width="13.0" height="5.6" fill="#ffff99"/>
<rect x="720.2" y="418.0" width="13.0" height="5.6" fill="#ffffa9"/>
<rect x="720.2" y="423.1" width="13.0" height="5.6" fill="#ffffb9"/>
<rect x="720.2" y="428.3" width="13.0" height="5.6" fill="#ffffcb"/>
<rect x="720.2" y="433.4" width="13.0" height="5.6" fill="#ffffde"/>
<rect x="720.2" y="438.6" width="13.0" height="5.6" fill="#fffff4"/>
<rect x="720.2" y="443.7" width="13.0" height="5.6" fill="#fffff6"/>
<rect x="720.2" y="448.9" width="13.0" height="10.7" fill="#fffff8"/>
<rect x="720.2" y="459.2" width="13.0" height="5.6" fill="#fffffa"/>
<rect x="720.2" y="464.3" width="13.0" height="5.6" fill="#fffffd"/>
<rect x="732.9" y="26.5" width="13.0" height="5.6" fill="#ff9800"/>
<rect x="732.9" y="31.7" width="13.0" height="5.6" fill="#ff9900"/>
<rect x="732.9" y="36.8" width="13.0" height="10.7" fill="#ff9a00"/>
<rect x="732.9" y="47.1" width="13.0" height="5.6" fill="#ff9b00"/>
<rect x="732.9" y="52.3" width="13.0" height="5.6" fill="#ff9c00"/>
<rect x="732.9" y="57.4" width="13.0" height="5.6" fill="#ff9d00"/>
<rect x="732.9" y="62.6" width="13.0" height="10.7" fill="#ff9e00"/>
<rect x="732.9" y="72.9" width="13.0" height="5.6" fill="#ff9f00"/>
<rect x="732.9" y="78.0" width="13.0" height="5.6" fill="#ffa000"/>
<rect x="732.9" y="83.2" width="13.0" height="5.6" fill="#ffa100"/>
<rect x="732.9" y="88.3" width="13.0" height="5.6" fill="#ffa200"/>
<rect x="732.9" y="93.5" width="13.0" height="10.7" fill="#ffa300"/>
<rect x="732.9" y="103.8" width="13.0" height="5.6" fill="#ffa500"/>
<rect x="732.9" y="108.9" width="13.0" height="5.6" fill="#ffa700"/>
<rect x="732.9" y="114.1" width="13.0" height="5.6" fill="#ffa900"/>
<rect x="732.9" y="119.2" width="13.0" height="5.6" fill="#ffab00"/>
<rect x="732.9" y="124.4" width="13.0" height="5.6" fill="#ffad00"/>
<rect x="732.9" y="129.5" width="13.0" height="5.6" fill="#ffaf00"/>
<rect x="732.9" y="134.7" width="13.0" height="5.6" fill="#ffb200"/>
<rect x="732.9" y="139.8" width="13.0" height="5.6" fill="#ffb400"/>
<rect x="732.9" y="145.0" width="13.0" height="5.6" fill="#ffb600"/>
<rect x="732.9" y="150.1" width="13.0" height="5.6" fill="#ffb700"/>
<rect x="732.9" y="155.3" width="13.0" height="5.6" fill="#ffb800"/>
<rect x="732.9" y="160.4" width="13.0" height="5.6" fill="#ffb900"/>
<rect x="732.9" y="165.6" width="13.0" height="5.6" fill="#ffbb00"/>
<rect x="732.9" y="170.7" width="13.0" height="5.6" fill="#ffbc00"/>
<rect x="732.9" y="175.9" width="13.0" height="5.6" fill="#ffbd00"/>
<rect x="732.9" y="181.0" width="13.0" height="5.6" fill="#ffc100"/>
<rect x="732.9" y="186.2" width="13.0" height="5.6" fill="#ffc700"/>
<rect x="732.9" y="191.3" width="13.0" height="5.6" fill="#ffce00"/>
<rect x="732.9" y="196.5" width="13.0" height="5.6" fill="#ffd500"/>
<rect x="732.9" y="201.6" width="13.0" height="5.6" fill="#ffdc00"/>
<rect x="732.9" y="206.8" width="13.0" height="5.6" fill="#ffe400"/>
<rect x="732.9" y="211.9" width="13.0" height="5.6" fill="#ffeb00"/>
<rect x="732.9" y="217.1" width="13.0" height="5.6" fill="#fff300"/>
<rect x="732.9" y="222.2" width="13.0" height="5.6" fill="#fff600"/>
<rect x="732.9" y="227.4" width="13.0" height="5.6" fill="#fff900"/>
<rect x="732.9" y="232.5" width="13.0" height="5.6" fill="#fffc00"/>
<rect x="732.9" y="237.7" width="13.0" height="103.4" fill="#ffff00"/>
<rect x="732.9" y="340.7" width="13.0" height="5.6" fill="#ffff08"/>
<rect x="732.9" y="345.9" width="13.0" height="5.6" fill="#ffff14"/>
<rect x="732.9" y="351.0" width="13.0" height="5.6" fill="#ffff20"/>
<rect x="732.9" y="356.2" width="13.0" height="5.6" fill="#ffff2c"/>
<rect x="732.9" y="361.3" width="13.0" height="5.6" fill="#ffff3d"/>
<rect x="732.9" y="366.5" width="13.0" height="5.6" fill="#ffff51"/>
<rect x="732.9" y="371.6" width="13.0" height="5.6" fill="#ffff65"/>
<rect x="732.9" y="376.8" width="13.0" height="5.6" fill="#ffff6e"/>
<rect x="732.9" y="381.9" width="13.0" height="5.6" fill="#ffff76"/>
<rect x="732.9" y="387.1" width="13.0" height="5.6" fill="#ffff7f"/>
<rect x="732.9" y="392.2" width="13.0" height="5.6" fill="#ffff87"/>
<rect x="732.9" y="397.4" width="13.0" height="5.6" fill="#ffff8f"/>
<rect x="732.9" y="402.5" width="13.0" height="5.6" fill="#ffff96"/>
<rect x="732.9" y="407.7" width="13.0" height="5.6" fill="#ffff9e"/>
<rect x="732.9" y="412.8" width="13.0" height="5.6" fill="#ffffaa"/>
<rect x="732.9" y="418.0" width="13.0" height="5.6" fill="#ffffbb"/>
<rect x="732.9" y="423.1" width="13.0" height="5.6" fill="#ffffcc"/>
<rect x="732.9" y="428.3" width="13.0" height="5.6" fill="#ffffde"/>
<rect x="732.9" y="433.4" width="13.0" height="5.6" fill="#fffff1"/>
<rect x="732.9" y="438.6" width="13.0" height="5.6" fill="#fffff4"/>
<rect x="732.9" y="443.7" width="13.0" height="5.6" fill="#fffff6"/>
<rect x="732.9" y="448.9" width="13.0" height="10.7" fill="#fffff8"/>
<rect x="732.9" y="459.2" width="13.0" height="5.6" fill="#fffffa"/>
<rect x="732.9" y="464.3" width="13.0" height="5.6" fill="#fffffd"/>
<rect x="745.5" y="26.5" width="13.0" height="5.6" fill="#ffb000"/>
<rect x="745.5" y="31.7" width="13.0" height="5.6" fill="#ffb100"/>
<rect x="745.5" y="36.8" width="13.0" height="5.6" fill="#ffb200"/>
<rect x="745.5" y="42.0" width="13.0" height="5.6" fill="#ffb300"/>
<rect x="745.5" y="47.1" width="13.0" height="5.6" fill="#ffb400"/>
<rect x="745.5" y="52.3" width="13.0" height="10.7" fill="#ffb500"/>
<rect x="745.5" y="62.6" width="13.0" height="5.6" fill="#ffb600"/>
<rect x="745.5" y="67.7" width="13.0" height="5.6" fill="#ffb700"/>
<rect x="745.5" y="72.9" width="13.0" height="5.6" fill="#ffb800"/>
<rect x="745.5" y="78.0" width="13.0" height="5.6" fill="#ffb900"/>
<rect x="745.5" y="83.2" width="13.0" height="10.7" fill="#ffba00"/>
<rect x="745.5" y="93.5" width="13.0" height="5.6" fill="#ffbb00"/>
<rect x="745.5" y="98.6" width="13.0" height="5.6" fill="#ffbc00"/>
<rect x="745.5" y="103.8" width="13.0" height="5.6" fill="#ffbe00"/>
<rect x="745.5" y="108.9" width="13.0" height="5.6" fill="#ffc000"/>
<rect x="745.5" y="114.1" width="13.0" height="5.6" fill="#ffc300"/>
<rect x="745.5" y="119.2" width="13.0" height="5.6" fill="#ffc600"/>
<rect x="745.5" y="124.4" width="13.0" height="5.6" fill="#ffc800"/>
<rect x="745.5" y="129.5" width="13.0" height="5.6" fill="#ffcc00"/>
<rect x="745.5" y="134.7" width="13.0" height="5.6" fill="#ffcf00"/>
<rect x="745.5" y="139.8" width="13.0" height="5.6" fill="#ffd200"/>
<rect x="745.5" y="145.0" width="13.0" height="5.6" fill="#ffd300"/>
<rect x="745.5" y="150.1" width="13.0" height="5.6" fill="#ffd400"/>
<rect x="745.5" y="155.3" width="13.0" height="5.6" fill="#ffd600"/>
<rect x="745.5" y="160.4" width="13.0" height="5.6" fill="#ffd700"/>
<rect x="745.5" y="165.6" width="13.0" height="5.6" fill="#ffd800"/>
<rect x="745.5" y="170.7" width="13.0" height="5.6" fill="#ffd900"/>
<rect x="745.5" y="175.9" width="13.0" height="5.6" fill="#ffda00"/>
<rect x="745.5" y="181.0" width="13.0" height="5.6" fill="#ffde00"/>
<rect x="745.5" y="186.2" width="13.0" height="5.6" fill="#ffe500"/>
<rect x="745.5" y="191.3" width="13.0" height="5.6" fill="#ffed00"/>
<rect x="745.5" y="196.5" width="13.0" height="5.6" fill="#fff400"/>
<rect x="745.5" y="201.6" width="13.0" height="5.6" fill="#fff900"/>
<rect x="745.5" y="206.8" width="13.0" height="5.6" fill="#fffe00"/>
<rect x="745.5" y="211.9" width="13.0" height="124.0" fill="#ffff00"/>
<rect x="745.5" y="335.6" width="13.0" height="5.6" fill="#ffff08"/>
<rect x="745.5" y="340.7" width="13.0" height="5.6" fill="#ffff14"/>
<rect x="745.5" y="345.9" width="13.0" height="5.6" fill="#ffff20"/>
<rect x="745.5" y="351.0" width="13.0" height="5.6" fill="#ffff2c"/>
<rect x="745.5" y="356.2" width="13.0" height="5.6" fill="#ffff3c"/>
<rect x="745.5" y="361.3" width="13.0" height="5.6" fill="#ffff50"/>
<rect x="745.5" y="366.5" width="13.0" height="5.6" fill="#ffff64"/>
<rect x="745.5" y="371.6" width="13.0" height="5.6" fill="#ffff78"/>
<rect x="745.5" y="376.8" width="13.0" height="5.6" fill="#ffff81"/>
<rect x="745.5" y="381.9" width="13.0" height="5.6" fill="#ffff89"/>
<rect x="745.5" y="387.1" width="13.0" height="5.6" fill="#ffff90"/>
<rect x="745.5" y="392.2" width="13.0" height="5.6" fill="#ffff98"/>
<rect x="745.5" y="397.4" width="13.0" height="5.6" fill="#ffffa0"/>
<rect x="745.5" y="402.5" width="13.0" height="5.6" fill="#ffffa7"/>
<rect x="745.5" y="407.7" width="13.0" height="5.6" fill="#ffffaf"/>
<rect x="745.5" y="412.8" width="13.0" height="5.6" fill="#ffffbb"/>
<rect x="745.5" y="418.0" width="13.0" height="5.6" fill="#ffffcc"/>
<rect x="745.5" y="423.1" width="13.0" height="5.6" fill="#ffffde"/>
<rect x="745.5" y="428.3" width="13.0" height="5.6" fill="#ffffee"/>
<rect x="745.5" y="433.4" width="13.0" height="5.6" fill="#fffff1"/>
<rect x="745.5" y="438.6" width="13.0" height="5.6" fill="#fffff4"/>
<rect x="745.5" y="443.7" width="13.0" height="5.6" fill="#fffff6"/>
<rect x="745.5" y="448.9" width="13.0" height="10.7" fill="#fffff8"/>
<rect x="745.5" y="459.2" width="13.0" height="5.6" fill="#fffffa"/>
<rect x="745.5" y="464.3" width="13.0" height="5.6" fill="#fffffd"/>
<rect x="758.1" y="26.5" width="13.0" height="5.6" fill="#ffc900"/>
<rect x="758.1" y="31.7" width="13.0" height="5.6" fill="#ffca00"/>
<rect x="758.1" y="36.8" width="13.0" height="5.6" fill="#ffcb00"/>
<rect x="758.1" y="42.0" width="13.0" height="5.6" fill="#ffcc00"/>
<rect x="758.1" y="47.1" width="13.0" height="5.6" fill="#ffcd00"/>
<rect x="758.1" y="52.3" width="13.0" height="5.6" fill="#ffce00"/>
<rect x="758.1" y="57.4" width="13.0" height="5.6" fill="#ffcf00"/>
<rect x="758.1" y="62.6" width="13.0" height="5.6" fill="#ffd000"/>
<rect x="758.1" y="67.7" width="13.0" height="5.6" fill="#ffd100"/>
<rect x="758.1" y="72.9" width="13.0" height="10.7" fill="#ffd200"/>
<rect x="758.1" y="83.2" width="13.0" height="5.6" fill="#ffd300"/>
<rect x="758.1" y="88.3" width="13.0" height="5.6" fill="#ffd400"/>
<rect x="758.1" y="93.5" width="13.0" height="5.6" fill="#ffd500"/>
<rect x="758.1" y="98.6" width="13.0" height="5.6" fill="#ffd600"/>
<rect x="758.1" y="103.8" width="13.0" height="5.6" fill="#ffd800"/>
<rect x="758.1" y="108.9" width="13.0" height="5.6" fill="#ffdc00"/>
<rect x="758.1" y="114.1" width="13.0" height="5.6" fill="#ffdf00"/>
<rect x="758.1" y="119.2" width="13.0" height="5.6" fill="#ffe300"/>
<rect x="758.1" y="124.4" width="13.0" height="5.6" fill="#ffe600"/>
<rect x="758.1" y="129.5" width="13.0" height="5.6" fill="#ffea00"/>
<rect x="758.1" y="134.7" width="13.0" height="5.6" fill="#ffee00"/>
<rect x="758.1" y="139.8" width="13.0" height="10.7" fill="#fff200"/>
<rect x="758.1" y="150.1" width="13.0" height="5.6" fill="#fff300"/>
<rect x="758.1" y="155.3" width="13.0" height="5.6" fill="#fff400"/>
<rect x="758.1" y="160.4" width="13.0" height="5.6" fill="#fff500"/>
<rect x="758.1" y="165.6" width="13.0" height="5.6" fill="#fff600"/>
<rect x="758.1" y="170.7" width="13.0" height="5.6" fill="#fff700"/>
<rect x="758.1" y="175.9" width="13.0" height="5.6" fill="#fff800"/>
<rect x="758.1" y="181.0" width="13.0" height="5.6" fill="#fffb00"/>
<rect x="758.1" y="186.2" width="13.0" height="139.5" fill="#ffff00"/>
<rect x="758.1" y="325.3" width="13.0" height="5.6" fill="#ffff04"/>
<rect x="758.1" y="330.4" width="13.0" height="5.6" fill="#ffff0a"/>
<rect x="758.1" y="335.6" width="13.0" height="5.6" fill="#ffff13"/>
<rect x="758.1" y="340.7" width="13.0" height="5.6" fill="#ffff1f"/>
<rect x="758.1" y="345.9" width="13.0" height="5.6" fill="#ffff2b"/>
<rect x="758.1" y="351.0" width="13.0" height="5.6" fill="#ffff3b"/>
<rect x="758.1" y="356.2" width="13.0" height="5.6" fill="#ffff4f"/>
<rect x="758.1" y="361.3" width="13.0" height="5.6" fill="#ffff63"/>
<rect x="758.1" y="366.5" width="13.0" height="5.6" fill="#ffff78"/>
<rect x="758.1" y="371.6" width="13.0" height="5.6" fill="#ffff8b"/>
<rect x="758.1" y="376.8" width="13.0" height="5.6" fill="#ffff92"/>
<rect x="758.1" y="381.9" width="13.0" height="5.6" fill="#ffff9a"/>
<rect x="758.1" y="387.1" width="13.0" height="5.6" fill="#ffffa1"/>
<rect x="758.1" y="392.2" width="13.0" height="5.6" fill="#ffffa9"/>
<rect x="758.1" y="397.4" width="13.0" height="5.6" fill="#ffffb1"/>
<rect x="758.1" y="402.5" width="13.0" height="5.6" fill="#ffffb8"/>
<rect x="758.1" y="407.7" width="13.0" height="5.6" fill="#ffffc0"/>
<rect x="758.1" y="412.8" width="13.0" height="5.6" fill="#ffffcc"/>
<rect x="758.1" y="418.0" width="13.0" height="5.6" fill="#ffffde"/>
<rect x="758.1" y="423.1" width="13.0" height="5.6" fill="#ffffeb"/>
<rect x="758.1" y="428.3" width="13.0" height="5.6" fill="#ffffee"/>
<rect x="758.1" y="433.4" width="13.0" height="5.6" fill="#fffff1"/>
<rect x="758.1" y="438.6" width="13.0" height="5.6" fill="#fffff4"/>
<rect x="758.1" y="443.7" width="13.0" height="5.6" fill="#fffff6"/>
<rect x="758.1" y="448.9" width="13.0" height="10.7" fill="#fffff8"/>
<rect x="758.1" y="459.2" width="13.0" height="5.6" fill="#fffffa"/>
<rect x="758.1" y="464.3" width="13.0" height="5.6" fill="#fffffd"/>
<rect x="770.7" y="26.5" width="13.0" height="5.6" fill="#ffd700"/>
<rect x="770.7" y="31.7" width="13.0" height="5.6" fill="#ffd800"/>
<rect x="770.7" y="36.8" width="13.0" height="5.6" fill="#ffd900"/>
<rect x="770.7" y="42.0" width="13.0" height="5.6" fill="#ffdb00"/>
<rect x="770.7" y="47.1" width="13.0" height="5.6" fill="#ffdc00"/>
<rect x="770.7" y="52.3" width="13.0" height="5.6" fill="#ffdd00"/>
<rect x="770.7" y="57.4" width="13.0" height="5.6" fill="#ffde00"/>
<rect x="770.7" y="62.6" width="13.0" height="5.6" fill="#ffe000"/>
<rect x="770.7" y="67.7" width="13.0" height="5.6" fill="#ffe100"/>
<rect x="770.7" y="72.9" width="13.0" height="5.6" fill="#ffe200"/>
<rect x="770.7" y="78.0" width="13.0" height="5.6" fill="#ffe300"/>
<rect x="770.7" y="83.2" width="13.0" height="5.6" fill="#ffe500"/>
<rect x="770.7" y="88.3" width="13.0" height="5.6" fill="#ffe600"/>
<rect x="770.7" y="93.5" width="13.0" height="5.6" fill="#ffe700"/>
<rect x="770.7" y="98.6" width="13.0" height="5.6" fill="#ffe800"/>
<rect x="770.7" y="103.8" width="13.0" height="5.6" fill="#ffeb00"/>
<rect x="770.7" y="108.9" width="13.0" height="5.6" fill="#ffed00"/>
<rect x="770.7" y="114.1" width="13.0" height="5.6" fill="#fff000"/>
<rect x="770.7" y="119.2" width="13.0" height="5.6" fill="#fff300"/>
<rect x="770.7" y="124.4" width="13.0" height="5.6" fill="#fff600"/>
<rect x="770.7" y="129.5" width="13.0" height="5.6" fill="#fff900"/>
<rect x="770.7" y="134.7" width="13.0" height="5.6" fill="#fffd00"/>
<rect x="770.7" y="139.8" width="13.0" height="175.5" fill="#ffff00"/>
<rect x="770.7" y="315.0" width="13.0" height="5.6" fill="#ffff03"/>
<rect x="770.7" y="320.1" width="13.0" height="5.6" fill="#ffff09"/>
<rect x="770.7" y="325.3" width="13.0" height="5.6" fill="#ffff0f"/>
<rect x="770.7" y="330.4" width="13.0" height="5.6" fill="#ffff15"/>
<rect x="770.7" y="335.6" width="13.0" height="5.6" fill="#ffff1e"/>
<rect x="770.7" y="340.7" width="13.0" height="5.6" fill="#ffff2a"/>
<rect x="770.7" y="345.9" width="13.0" height="5.6" fill="#ffff3a"/>
<rect x="770.7" y="351.0" width="13.0" height="5.6" fill="#ffff4e"/>
<rect x="770.7" y="356.2" width="13.0" height="5.6" fill="#ffff62"/>
<rect x="770.7" y="361.3" width="13.0" height="5.6" fill="#ffff77"/>
<rect x="770.7" y="366.5" width="13.0" height="5.6" fill="#ffff8a"/>
<rect x="770.7" y="371.6" width="13.0" height="5.6" fill="#ffff9c"/>
<rect x="770.7" y="376.8" width="13.0" height="5.6" fill="#ffffa3"/>
<rect x="770.7" y="381.9" width="13.0" height="5.6" fill="#ffffab"/>
<rect x="770.7" y="387.1" width="13.0" height="5.6" fill="#ffffb2"/>
<rect x="770.7" y="392.2" width="13.0" height="5.6" fill="#ffffba"/>
<rect x="770.7" y="397.4" width="13.0" height="5.6" fill="#ffffc1"/>
<rect x="770.7" y="402.5" width="13.0" height="5.6" fill="#ffffc9"/>
<rect x="770.7" y="407.7" width="13.0" height="5.6" fill="#ffffd0"/>
<rect x="770.7" y="412.8" width="13.0" height="5.6" fill="#ffffdd"/>
<rect x="770.7" y="418.0" width="13.0" height="5.6" fill="#ffffe8"/>
<rect x="770.7" y="423.1" width="13.0" height="5.6" fill="#ffffeb"/>
<rect x="770.7" y="428.3" width="13.0" height="5.6" fill="#ffffee"/>
<rect x="770.7" y="433.4" width="13.0" height="5.6" fill="#fffff1"/>
<rect x="770.7" y="438.6" width="13.0" height="5.6" fill="#fffff4"/>
<rect x="770.7" y="443.7" width="13.0" height="5.6" fill="#fffff6"/>
<rect x="770.7" y="448.9" width="13.0" height="10.7" fill="#fffff8"/>
<rect x="770.7" y="459.2" width="13.0" height="5.6" fill="#fffffa"/>
<rect x="770.7" y="464.3" width="13.0" height="5.6" fill="#fffffd"/>
<rect x="783.3" y="26.5" width="13.0" height="5.6" fill="#ffe500"/>
<rect x="783.3" y="31.7" width="13.0" height="5.6" fill="#ffe600"/>
<rect x="783.3" y="36.8" width="13.0" height="10.7" fill="#ffe700"/>
<rect x="783.3" y="47.1" width="13.0" height="5.6" fill="#ffe800"/>
<rect x="783.3" y="52.3" width="13.0" height="5.6" fill="#ffe900"/>
<rect x="783.3" y="57.4" width="13.0" height="5.6" fill="#ffea00"/>
<rect x="783.3" y="62.6" width="13.0" height="5.6" fill="#ffeb00"/>
<rect x="783.3" y="67.7" width="13.0" height="5.6" fill="#ffec00"/>
<rect x="783.3" y="72.9" width="13.0" height="5.6" fill="#ffed00"/>
<rect x="783.3" y="78.0" width="13.0" height="5.6" fill="#ffee00"/>
<rect x="783.3" y="83.2" width="13.0" height="5.6" fill="#ffef00"/>
<rect x="783.3" y="88.3" width="13.0" height="5.6" fill="#fff000"/>
<rect x="783.3" y="93.5" width="13.0" height="5.6" fill="#fff100"/>
<rect x="783.3" y="98.6" width="13.0" height="5.6" fill="#fff200"/>
<rect x="783.3" y="103.8" width="13.0" height="5.6" fill="#fff400"/>
<rect x="783.3" y="108.9" width="13.0" height="5.6" fill="#fff700"/>
<rect x="783.3" y="114.1" width="13.0" height="5.6" fill="#fffb00"/>
<rect x="783.3" y="119.2" width="13.0" height="191.0" fill="#ffff00"/>
<rect x="783.3" y="309.8" width="13.0" height="5.6" fill="#ffff06"/>
<rect x="783.3" y="315.0" width="13.0" height="5.6" fill="#ffff0c"/>
<rect x="783.3" y="320.1" width="13.0" height="5.6" fill="#ffff12"/>
<rect x="783.3" y="325.3" width="13.0" height="5.6" fill="#ffff19"/>
<rect x="783.3" y="330.4" width="13.0" height="5.6" fill="#ffff1f"/>
<rect x="783.3" y="335.6" width="13.0" height="5.6" fill="#ffff29"/>
<rect x="783.3" y="340.7" width="13.0" height="5.6" fill="#ffff38"/>
<rect x="783.3" y="345.9" width="13.0" height="5.6" fill="#ffff4c"/>
<rect x="783.3" y="351.0" width="13.0" height="5.6" fill="#ffff61"/>
<rect x="783.3" y="356.2" width="13.0" height="5.6" fill="#ffff75"/>
<rect x="783.3" y="361.3" width="13.0" height="5.6" fill="#ffff89"/>
<rect x="783.3" y="366.5" width="13.0" height="5.6" fill="#ffff9b"/>
<rect x="783.3" y="371.6" width="13.0" height="5.6" fill="#ffffac"/>
<rect x="783.3" y="376.8" width="13.0" height="5.6" fill="#ffffb3"/>
<rect x="783.3" y="381.9" width="13.0" height="5.6" fill="#ffffbb"/>
<rect x="783.3" y="387.1" width="13.0" height="5.6" fill="#ffffc2"/>
<rect x="783.3" y="392.2" width="13.0" height="5.6" fill="#ffffca"/>
<rect x="783.3" y="397.4" width="13.0" height="5.6" fill="#ffffd1"/>
<rect x="783.3" y="402.5" width="13.0" height="5.6" fill="#ffffd9"/>
<rect x="783.3" y="407.7" width="13.0" height="5.6" fill="#ffffe0"/>
<rect x="783.3" y="412.8" width="13.0" height="5.6" fill="#ffffe5"/>
<rect x="783.3" y="418.0" width="13.0" height="5.6" fill="#ffffe8"/>
<rect x="783.3" y="423.1" width="13.0" height="5.6" fill="#ffffeb"/>
<rect x="783.3" y="428.3" width="13.0" height="5.6" fill="#ffffee"/>
<rect x="783.3" y="433.4" width="13.0" height="5.6" fill="#fffff1"/>
<rect x="783.3" y="438.6" width="13.0" height="5.6" fill="#fffff4"/>
<rect x="783.3" y="443.7" width="13.0" height="5.6" fill="#fffff6"/>
<rect x="783.3" y="448.9" width="13.0" height="10.7" fill="#fffff8"/>
<rect x="783.3" y="459.2" width="13.0" height="5.6" fill="#fffffa"/>
<rect x="783.3" y="464.3" width="13.0" height="5.6" fill="#fffffd"/>
</g>
<g id="axes-a">
<rect x="183.1" y="26.5" width="618.1" height="463.6" fill="none" stroke="#000" stroke-width="2"/>
<line x1="234.6" y1="490.1" x2="234.6" y2="478.7" stroke="#000" stroke-width="2.0" />
<line x1="234.6" y1="26.5" x2="234.6" y2="37.9" stroke="#000" stroke-width="2.0" />
<line x1="286.1" y1="490.1" x2="286.1" y2="469.1" stroke="#000" stroke-width="2.0" />
<line x1="286.1" y1="26.5" x2="286.1" y2="47.5" stroke="#000" stroke-width="2.0" />
<line x1="337.6" y1="490.1" x2="337.6" y2="478.7" stroke="#000" stroke-width="2.0" />
<line x1="337.6" y1="26.5" x2="337.6" y2="37.9" stroke="#000" stroke-width="2.0" />
<line x1="389.1" y1="490.1" x2="389.1" y2="469.1" stroke="#000" stroke-width="2.0" />
<line x1="389.1" y1="26.5" x2="389.1" y2="47.5" stroke="#000" stroke-width="2.0" />
<line x1="440.6" y1="490.1" x2="440.6" y2="478.7" stroke="#000" stroke-width="2.0" />
<line x1="440.6" y1="26.5" x2="440.6" y2="37.9" stroke="#000" stroke-width="2.0" />
<line x1="492.1" y1="490.1" x2="492.1" y2="469.1" stroke="#000" stroke-width="2.0" />
<line x1="492.1" y1="26.5" x2="492.1" y2="47.5" stroke="#000" stroke-width="2.0" />
<line x1="543.7" y1="490.1" x2="543.7" y2="478.7" stroke="#000" stroke-width="2.0" />
<line x1="543.7" y1="26.5" x2="543.7" y2="37.9" stroke="#000" stroke-width="2.0" />
<line x1="595.2" y1="490.1" x2="595.2" y2="469.1" stroke="#000" stroke-width="2.0" />
<line x1="595.2" y1="26.5" x2="595.2" y2="47.5" stroke="#000" stroke-width="2.0" />
<line x1="646.7" y1="490.1" x2="646.7" y2="478.7" stroke="#000" stroke-width="2.0" />
<line x1="646.7" y1="26.5" x2="646.7" y2="37.9" stroke="#000" stroke-width="2.0" />
<line x1="698.2" y1="490.1" x2="698.2" y2="469.1" stroke="#000" stroke-width="2.0" />
<line x1="698.2" y1="26.5" x2="698.2" y2="47.5" stroke="#000" stroke-width="2.0" />
<line x1="749.7" y1="490.1" x2="749.7" y2="478.7" stroke="#000" stroke-width="2.0" />
<line x1="749.7" y1="26.5" x2="749.7" y2="37.9" stroke="#000" stroke-width="2.0" />
<line x1="183.1" y1="412.8" x2="194.5" y2="412.8" stroke="#000" stroke-width="2.0" />
<line x1="801.2" y1="412.8" x2="789.8" y2="412.8" stroke="#000" stroke-width="2.0" />
<line x1="183.1" y1="335.6" x2="204.1" y2="335.6" stroke="#000" stroke-width="2.0" />
<line x1="801.2" y1="335.6" x2="780.2" y2="335.6" stroke="#000" stroke-width="2.0" />
<line x1="183.1" y1="258.3" x2="194.5" y2="258.3" stroke="#000" stroke-width="2.0" />
<line x1="801.2" y1="258.3" x2="789.8" y2="258.3" stroke="#000" stroke-width="2.0" />
<line x1="183.1" y1="181.0" x2="204.1" y2="181.0" stroke="#000" stroke-width="2.0" />
<line x1="801.2" y1="181.0" x2="780.2" y2="181.0" stroke="#000" stroke-width="2.0" />
<line x1="183.1" y1="103.8" x2="194.5" y2="103.8" stroke="#000" stroke-width="2.0" />
<line x1="801.2" y1="103.8" x2="789.8" y2="103.8" stroke="#000" stroke-width="2.0" />
</g>
<text transform="translate(183.1 527.5) scale(1.000 1)" font-size="33.6" text-anchor="middle" >0</text>
<text transform="translate(286.1 527.5) scale(1.000 1)" font-size="33.6" text-anchor="middle" >10</text>
<text transform="translate(389.1 527.5) scale(1.000 1)" font-size="33.6" text-anchor="middle" >20</text>
<text transform="translate(492.1 527.5) scale(1.000 1)" font-size="33.6" text-anchor="middle" >30</text>
<text transform="translate(595.2 527.5) scale(1.000 1)" font-size="33.6" text-anchor="middle" >40</text>
<text transform="translate(698.2 527.5) scale(1.000 1)" font-size="33.6" text-anchor="middle" >50</text>
<text transform="translate(801.2 527.5) scale(1.000 1)" font-size="33.6" text-anchor="middle" >60</text>
<text transform="translate(170.6 500.5) scale(1.000 1)" font-size="33.6" text-anchor="end" >0</text>
<text transform="translate(170.6 346.0) scale(1.000 1)" font-size="33.6" text-anchor="end" >1</text>
<text transform="translate(170.6 191.4) scale(1.000 1)" font-size="33.6" text-anchor="end" >2</text>
<text transform="translate(170.6 36.9) scale(1.000 1)" font-size="33.6" text-anchor="end" >3</text>
<text transform="translate(493.7 573.0) scale(1.000 1)" font-size="33.6" text-anchor="middle" ><tspan font-style="italic">T</tspan><tspan dx="-2.5"> (K)</tspan></text>
<text transform="translate(112.2,236.5) rotate(-90)" font-size="34.0" text-anchor="middle"><tspan font-style="italic">B</tspan><tspan dx="-2.5"> (T)</tspan></text>
<polyline fill="none" stroke="#0f9a1c" stroke-width="4.8" stroke-linejoin="round" points="203.7,417.2 234.6,416.4 286.1,417.2 337.6,418.4 389.1,418.4 440.6,418.4 492.1,430.5 507.2,490.1"/>
<circle cx="203.7" cy="417.2" r="6.1" fill="#0f9a1c"/>
<circle cx="234.6" cy="416.4" r="6.1" fill="#0f9a1c"/>
<circle cx="286.1" cy="417.2" r="6.1" fill="#0f9a1c"/>
<circle cx="337.6" cy="418.4" r="6.1" fill="#0f9a1c"/>
<circle cx="389.1" cy="418.4" r="6.1" fill="#0f9a1c"/>
<circle cx="440.6" cy="418.4" r="6.1" fill="#0f9a1c"/>
<circle cx="492.1" cy="430.5" r="6.1" fill="#0f9a1c"/>
<circle cx="507.2" cy="490.1" r="6.1" fill="#0f9a1c"/>
<path d="M440.9 452.1 C443.0 452.0 449.9 451.7 453.8 451.6 C457.7 451.5 460.9 451.5 464.3 451.6 C467.8 451.8 470.7 451.8 474.5 452.5 C478.3 453.2 485.1 455.4 487.2 456.0" fill="none" stroke="#0f9a1c" stroke-width="5" stroke-dasharray="5 5.35"/>
<path d="M441.0 463.9 C443.0 464.6 449.6 466.9 453.2 468.3 C456.8 469.7 459.7 471.0 462.8 472.3 C465.9 473.6 468.7 475.0 472.0 475.9 C475.3 476.8 479.5 477.2 482.4 477.6 C485.3 478.0 488.4 478.2 489.6 478.3" fill="none" stroke="#0f9a1c" stroke-width="5" stroke-dasharray="5 5.35"/>
<polyline fill="none" stroke="#1018f2" stroke-width="4.5" stroke-linejoin="round" points="512.8,412.8 527.7,335.6 543.1,258.3 553.7,181.0 564.0,103.8 574.0,26.5"/>
<circle cx="512.8" cy="412.8" r="6.2" fill="#1018f2"/>
<circle cx="527.7" cy="335.6" r="6.2" fill="#1018f2"/>
<circle cx="543.1" cy="258.3" r="6.2" fill="#1018f2"/>
<circle cx="553.7" cy="181.0" r="6.2" fill="#1018f2"/>
<circle cx="564.0" cy="103.8" r="6.2" fill="#1018f2"/>
<circle cx="574.0" cy="26.5" r="6.2" fill="#1018f2"/>
<text transform="translate(226.0 80.3) scale(1.000 1)" font-size="29.0" text-anchor="start" ><tspan font-style="italic">p</tspan> = 0.0 kbar</text>
<text transform="translate(220.8 123.0) scale(1.000 1)" font-size="29.2" text-anchor="start" >Left-handed crystal</text>
<text transform="translate(226.5 165.0) scale(1.000 1)" font-size="29.0" text-anchor="start" ><tspan font-style="italic">j</tspan> = 7.5×10<tspan font-size="21" dy="-11">8</tspan><tspan dy="11" dx="2.5"> A m</tspan><tspan font-size="21" dy="-11">–2</tspan></text>
<text transform="translate(336.8 270.0) scale(1.000 1)" font-size="28.4" text-anchor="start" >Ferro.</text>
<text transform="translate(286.0 464.0) scale(1.000 1)" font-size="28.6" text-anchor="start" >Helical</text>
<text transform="translate(712.3 459.8) scale(1.000 1)" font-size="28.5" text-anchor="start" >Para.</text>
<text transform="translate(-0.8 23.4) scale(1.000 1)" font-size="40.0" text-anchor="start" font-weight="bold" stroke="#000" stroke-width="0.7">a</text>
<defs><linearGradient id="cb" x1="0" y1="170.0" x2="0" y2="474.8" gradientUnits="userSpaceOnUse">
<stop offset="0.0013" stop-color="#3d7bf0"/>
<stop offset="0.0454" stop-color="#629ef6"/>
<stop offset="0.1188" stop-color="#94c4fa"/>
<stop offset="0.1923" stop-color="#c8e1fc"/>
<stop offset="0.2437" stop-color="#ffffff"/>
<stop offset="0.3098" stop-color="#ffffff"/>
<stop offset="0.3392" stop-color="#ffffc8"/>
<stop offset="0.3759" stop-color="#ffff82"/>
<stop offset="0.4127" stop-color="#ffff32"/>
<stop offset="0.4494" stop-color="#ffff00"/>
<stop offset="0.5008" stop-color="#ffff00"/>
<stop offset="0.5302" stop-color="#ffc800"/>
<stop offset="0.5596" stop-color="#ff9600"/>
<stop offset="0.5963" stop-color="#ff5000"/>
<stop offset="0.6330" stop-color="#ff0a00"/>
<stop offset="0.7065" stop-color="#f50000"/>
<stop offset="0.7800" stop-color="#be0000"/>
<stop offset="0.8534" stop-color="#780000"/>
<stop offset="0.9269" stop-color="#370000"/>
<stop offset="1.0000" stop-color="#000000"/>
</linearGradient></defs>
<rect x="830.0" y="170.0" width="39.5" height="304.8" fill="url(#cb)"/>
<rect x="830.0" y="474.8" width="39.5" height="2.7" fill="#a6a6a6"/>
<rect x="830.0" y="170.0" width="39.5" height="307.5" fill="none" stroke="#000" stroke-width="1.8"/>
<line x1="869.5" y1="206.2" x2="895.0" y2="206.2" stroke="#000" stroke-width="2.0" />
<text transform="translate(908.0 216.0) scale(1.000 1)" font-size="33.6" text-anchor="start" >0.2</text>
<line x1="869.5" y1="251.0" x2="895.0" y2="251.0" stroke="#000" stroke-width="2.0" />
<text transform="translate(908.0 260.8) scale(1.000 1)" font-size="33.6" text-anchor="start" >0.0</text>
<line x1="869.5" y1="295.8" x2="895.0" y2="295.8" stroke="#000" stroke-width="2.0" />
<text transform="translate(907.0 305.6) scale(1.000 1)" font-size="33.6" text-anchor="start" >–0.2</text>
<line x1="869.5" y1="340.6" x2="895.0" y2="340.6" stroke="#000" stroke-width="2.0" />
<text transform="translate(907.0 350.4) scale(1.000 1)" font-size="33.6" text-anchor="start" >–0.4</text>
<line x1="869.5" y1="385.3" x2="895.0" y2="385.3" stroke="#000" stroke-width="2.0" />
<text transform="translate(907.0 395.1) scale(1.000 1)" font-size="33.6" text-anchor="start" >–0.6</text>
<line x1="869.5" y1="430.1" x2="895.0" y2="430.1" stroke="#000" stroke-width="2.0" />
<text transform="translate(907.0 439.9) scale(1.000 1)" font-size="33.6" text-anchor="start" >–0.8</text>
<line x1="869.5" y1="474.9" x2="895.0" y2="474.9" stroke="#000" stroke-width="2.0" />
<text transform="translate(907.0 484.7) scale(1.000 1)" font-size="33.6" text-anchor="start" >–1.0</text>
<text transform="translate(830.0 141.8) scale(1.000 1)" font-size="33.6" text-anchor="start" ><tspan font-style="italic">ρ</tspan><tspan font-size="24" dy="-13.5">2f</tspan><tspan dy="13.5"> (nΩ cm)</tspan></text>
<rect x="183.1" y="643.9" width="330.4" height="464.4" fill="#8fe6ff"/>
<line x1="183.1" y1="760.0" x2="801.2" y2="760.0" stroke="#000" stroke-width="1.6" />
<g id="axes-b">
<rect x="183.1" y="643.9" width="618.1" height="464.4" fill="none" stroke="#000" stroke-width="2"/>
<line x1="234.6" y1="1108.3" x2="234.6" y2="1096.9" stroke="#000" stroke-width="2.0" />
<line x1="234.6" y1="643.9" x2="234.6" y2="655.3" stroke="#000" stroke-width="2.0" />
<line x1="286.1" y1="1108.3" x2="286.1" y2="1087.3" stroke="#000" stroke-width="2.0" />
<line x1="286.1" y1="643.9" x2="286.1" y2="664.9" stroke="#000" stroke-width="2.0" />
<line x1="337.6" y1="1108.3" x2="337.6" y2="1096.9" stroke="#000" stroke-width="2.0" />
<line x1="337.6" y1="643.9" x2="337.6" y2="655.3" stroke="#000" stroke-width="2.0" />
<line x1="389.1" y1="1108.3" x2="389.1" y2="1087.3" stroke="#000" stroke-width="2.0" />
<line x1="389.1" y1="643.9" x2="389.1" y2="664.9" stroke="#000" stroke-width="2.0" />
<line x1="440.6" y1="1108.3" x2="440.6" y2="1096.9" stroke="#000" stroke-width="2.0" />
<line x1="440.6" y1="643.9" x2="440.6" y2="655.3" stroke="#000" stroke-width="2.0" />
<line x1="492.1" y1="1108.3" x2="492.1" y2="1087.3" stroke="#000" stroke-width="2.0" />
<line x1="492.1" y1="643.9" x2="492.1" y2="664.9" stroke="#000" stroke-width="2.0" />
<line x1="543.7" y1="1108.3" x2="543.7" y2="1096.9" stroke="#000" stroke-width="2.0" />
<line x1="543.7" y1="643.9" x2="543.7" y2="655.3" stroke="#000" stroke-width="2.0" />
<line x1="595.2" y1="1108.3" x2="595.2" y2="1087.3" stroke="#000" stroke-width="2.0" />
<line x1="595.2" y1="643.9" x2="595.2" y2="664.9" stroke="#000" stroke-width="2.0" />
<line x1="646.7" y1="1108.3" x2="646.7" y2="1096.9" stroke="#000" stroke-width="2.0" />
<line x1="646.7" y1="643.9" x2="646.7" y2="655.3" stroke="#000" stroke-width="2.0" />
<line x1="698.2" y1="1108.3" x2="698.2" y2="1087.3" stroke="#000" stroke-width="2.0" />
<line x1="698.2" y1="643.9" x2="698.2" y2="664.9" stroke="#000" stroke-width="2.0" />
<line x1="749.7" y1="1108.3" x2="749.7" y2="1096.9" stroke="#000" stroke-width="2.0" />
<line x1="749.7" y1="643.9" x2="749.7" y2="655.3" stroke="#000" stroke-width="2.0" />
<line x1="183.1" y1="701.9" x2="194.5" y2="701.9" stroke="#000" stroke-width="2.0" />
<line x1="801.2" y1="701.9" x2="789.8" y2="701.9" stroke="#000" stroke-width="2.0" />
<line x1="183.1" y1="818.0" x2="194.5" y2="818.0" stroke="#000" stroke-width="2.0" />
<line x1="801.2" y1="818.0" x2="789.8" y2="818.0" stroke="#000" stroke-width="2.0" />
<line x1="183.1" y1="876.1" x2="204.1" y2="876.1" stroke="#000" stroke-width="2.0" />
<line x1="801.2" y1="876.1" x2="780.2" y2="876.1" stroke="#000" stroke-width="2.0" />
<line x1="183.1" y1="934.1" x2="194.5" y2="934.1" stroke="#000" stroke-width="2.0" />
<line x1="801.2" y1="934.1" x2="789.8" y2="934.1" stroke="#000" stroke-width="2.0" />
<line x1="183.1" y1="992.2" x2="204.1" y2="992.2" stroke="#000" stroke-width="2.0" />
<line x1="801.2" y1="992.2" x2="780.2" y2="992.2" stroke="#000" stroke-width="2.0" />
<line x1="183.1" y1="1050.2" x2="194.5" y2="1050.2" stroke="#000" stroke-width="2.0" />
<line x1="801.2" y1="1050.2" x2="789.8" y2="1050.2" stroke="#000" stroke-width="2.0" />
</g>
<path d="M195.0 766.7 C202.5 765.8 224.9 762.9 240.0 761.0 C255.1 759.1 269.5 757.1 285.8 755.4 C302.1 753.7 325.2 752.5 337.6 750.6 C350.0 748.7 351.4 748.1 360.0 744.0 C368.6 739.9 382.1 730.1 389.0 726.0 C395.9 721.9 397.3 719.9 401.6 719.4 C405.9 718.9 410.6 719.9 415.0 723.0 C419.4 726.1 423.7 731.4 428.0 738.0 C432.3 744.6 436.1 753.0 440.8 762.5 C445.5 772.0 450.9 783.9 456.0 795.0 C461.1 806.1 467.1 817.9 471.4 829.4 C475.7 840.9 478.1 852.4 481.6 864.0 C485.1 875.6 488.7 887.8 492.2 899.0 C495.7 910.2 499.2 920.5 502.6 931.0 C506.0 941.5 509.2 951.7 512.6 962.0 C516.0 972.3 519.6 985.6 523.0 993.0 C526.4 1000.4 529.5 1003.8 533.0 1006.5 C536.5 1009.2 541.9 1009.0 543.7 1009.5 L543.7 1009.5 C544.9 1005.5 548.2 993.8 550.7 985.2 C553.2 976.7 556.2 966.8 559.0 958.2 C561.8 949.6 564.7 941.7 567.6 933.4 C570.5 925.1 573.8 915.9 576.6 908.6 C579.4 901.3 581.7 895.9 584.5 889.5 C587.3 883.1 590.3 876.4 593.5 870.4 C596.7 864.4 599.7 858.8 603.6 853.5 C607.5 848.2 612.2 843.0 617.1 838.6 C622.0 834.2 627.8 830.5 632.9 827.2 C638.0 823.9 641.5 822.3 647.5 818.9 C653.5 815.5 660.4 810.9 668.9 806.6 C677.4 802.3 689.7 796.9 698.2 793.2 C706.7 789.5 713.5 786.5 720.0 784.2 C726.5 781.9 728.7 781.7 737.0 779.6 C745.3 777.5 759.3 774.0 770.0 771.6 C780.7 769.2 795.8 766.1 801.0 765.0" fill="none" stroke="#0000f2" stroke-width="9.5" stroke-linejoin="round"/>
<circle cx="204.2" cy="799.8" r="11.2" fill="#0a36c8"/>
<circle cx="234.6" cy="795.7" r="11.2" fill="#0a36c8"/>
<circle cx="286.1" cy="753.6" r="11.2" fill="#0a36c8"/>
<circle cx="337.6" cy="749.3" r="11.2" fill="#0a36c8"/>
<circle cx="389.1" cy="724.3" r="11.2" fill="#0a36c8"/>
<circle cx="440.6" cy="762.9" r="11.2" fill="#0a36c8"/>
<circle cx="471.5" cy="829.7" r="11.2" fill="#0a36c8"/>
<circle cx="481.8" cy="864.5" r="11.2" fill="#0a36c8"/>
<circle cx="492.1" cy="900.5" r="11.2" fill="#0a36c8"/>
<circle cx="502.5" cy="932.7" r="11.2" fill="#0a36c8"/>
<circle cx="512.8" cy="962.3" r="11.2" fill="#0a36c8"/>
<circle cx="523.1" cy="999.7" r="11.2" fill="#0a36c8"/>
<circle cx="543.7" cy="1009.6" r="11.2" fill="#0a36c8"/>
<circle cx="595.2" cy="891.8" r="11.2" fill="#0a36c8"/>
<circle cx="646.7" cy="824.4" r="11.2" fill="#0a36c8"/>
<circle cx="698.2" cy="794.2" r="11.2" fill="#0a36c8"/>
<circle cx="801.2" cy="765.8" r="11.2" fill="#0a36c8"/>
<text transform="translate(183.1 1146.0) scale(1.000 1)" font-size="33.6" text-anchor="middle" >0</text>
<text transform="translate(286.1 1146.0) scale(1.000 1)" font-size="33.6" text-anchor="middle" >10</text>
<text transform="translate(389.1 1146.0) scale(1.000 1)" font-size="33.6" text-anchor="middle" >20</text>
<text transform="translate(492.1 1146.0) scale(1.000 1)" font-size="33.6" text-anchor="middle" >30</text>
<text transform="translate(595.2 1146.0) scale(1.000 1)" font-size="33.6" text-anchor="middle" >40</text>
<text transform="translate(698.2 1146.0) scale(1.000 1)" font-size="33.6" text-anchor="middle" >50</text>
<text transform="translate(801.2 1146.0) scale(1.000 1)" font-size="33.6" text-anchor="middle" >60</text>
<text transform="translate(170.6 654.1) scale(1.000 1)" font-size="33.6" text-anchor="end" >0.4</text>
<text transform="translate(170.6 770.2) scale(1.000 1)" font-size="33.6" text-anchor="end" >0.0</text>
<text transform="translate(170.6 886.3) scale(1.000 1)" font-size="33.6" text-anchor="end" >–0.4</text>
<text transform="translate(170.6 1002.4) scale(1.000 1)" font-size="33.6" text-anchor="end" >–0.8</text>
<text transform="translate(170.6 1118.5) scale(1.000 1)" font-size="33.6" text-anchor="end" >–1.2</text>
<text transform="translate(493.7 1190.4) scale(1.000 1)" font-size="33.6" text-anchor="middle" ><tspan font-style="italic">T</tspan><tspan dx="-2.5"> (K)</tspan></text>
<text transform="translate(41,873.5) rotate(-90)" font-size="33.6" text-anchor="middle"><tspan font-style="italic">ρ</tspan><tspan font-size="24" dy="-13.5">2f</tspan><tspan dy="13.5"> (nΩ cm)</tspan></text>
<text transform="translate(534.7 694.9) scale(1.000 1)" font-size="29.0" text-anchor="start" ><tspan font-style="italic">B</tspan> = 0.4 T</text>
<text transform="translate(532.5 739.8) scale(1.000 1)" font-size="29.0" text-anchor="start" ><tspan font-style="italic">j</tspan> = 7.5×10<tspan font-size="21" dy="-11">8</tspan><tspan dy="11" dx="2.5"> A m</tspan><tspan font-size="21" dy="-11">–2</tspan></text>
<text transform="translate(302.0 1073.0) scale(1.000 1)" font-size="29.0" text-anchor="start" >Helical</text>
<text transform="translate(626.5 1073.0) scale(1.000 1)" font-size="29.0" text-anchor="start" >Para.</text>
<text transform="translate(-1.0 644.2) scale(1.000 1)" font-size="40.8" text-anchor="start" font-weight="bold" stroke="#000" stroke-width="0.7">b</text>
</svg></body></html>
